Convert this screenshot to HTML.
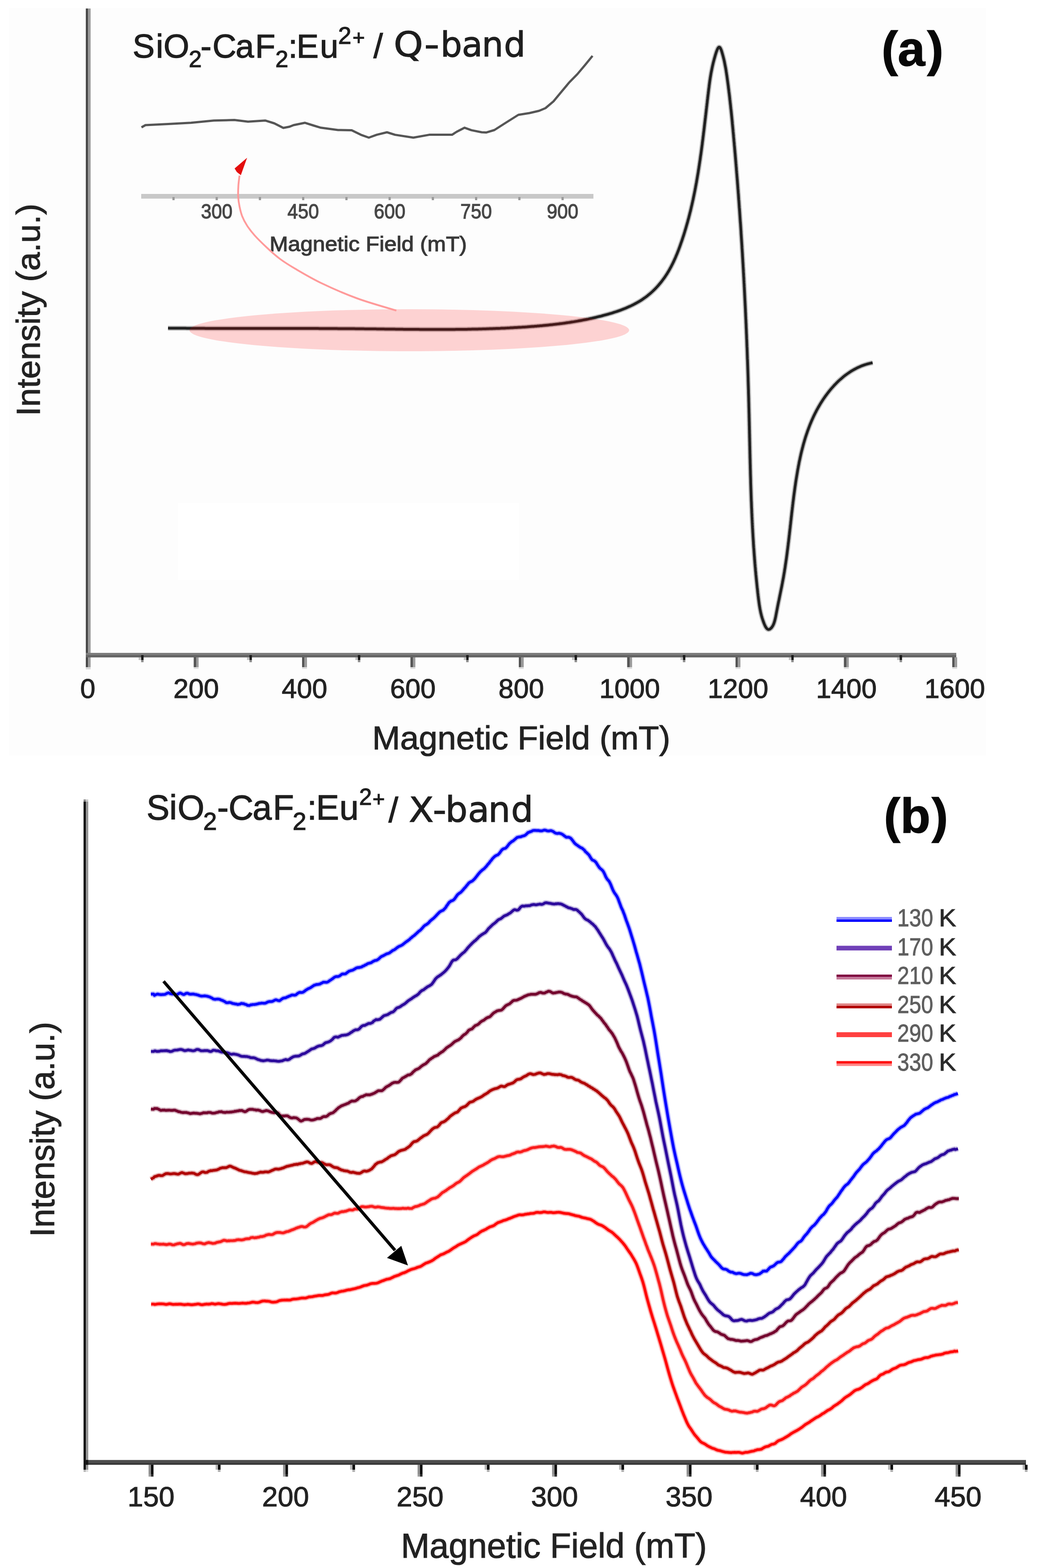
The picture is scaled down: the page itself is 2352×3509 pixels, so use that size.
<!DOCTYPE html>
<html><head><meta charset="utf-8"><title>EPR spectra</title>
<style>html,body{margin:0;padding:0;background:#fff;width:2352px;height:3509px;overflow:hidden}svg{display:block}</style></head>
<body>
<svg width="2352" height="3509" viewBox="0 0 2352 3509" font-family="'Liberation Sans', Arial, sans-serif">
<rect x="20" y="18" width="2187" height="1673" fill="#fdfdfd"/>
<rect x="398" y="1126" width="764" height="172" fill="#ffffff"/>
<rect x="192.0" y="19.0" width="5.4" height="1474.0" fill="#4a4a4a"/>
<rect x="197.4" y="19.0" width="5.4" height="1474.0" fill="#9a9a9a"/>
<rect x="192.0" y="1493.0" width="10.8" height="5.0" fill="#d8d8d8"/>
<rect x="192.0" y="1461.0" width="1948.0" height="5.0" fill="#7c7c7c"/>
<rect x="192.0" y="1466.0" width="1948.0" height="5.2" fill="#646464"/>
<text x="196.5" y="1562.0" font-size="61.0" text-anchor="middle" fill="#222" stroke="#222" stroke-width="1.2" font-weight="normal" >0</text>
<rect x="433.5" y="1471.0" width="5.5" height="22.0" fill="#555"/>
<rect x="439.0" y="1471.0" width="5.5" height="22.0" fill="#9a9a9a"/>
<rect x="433.5" y="1493.0" width="11.0" height="4.0" fill="#dedede"/>
<text x="439.0" y="1562.0" font-size="61.0" text-anchor="middle" fill="#222" stroke="#222" stroke-width="1.2" font-weight="normal" >200</text>
<rect x="676.0" y="1471.0" width="5.5" height="22.0" fill="#555"/>
<rect x="681.5" y="1471.0" width="5.5" height="22.0" fill="#9a9a9a"/>
<rect x="676.0" y="1493.0" width="11.0" height="4.0" fill="#dedede"/>
<text x="681.5" y="1562.0" font-size="61.0" text-anchor="middle" fill="#222" stroke="#222" stroke-width="1.2" font-weight="normal" >400</text>
<rect x="918.5" y="1471.0" width="5.5" height="22.0" fill="#555"/>
<rect x="924.0" y="1471.0" width="5.5" height="22.0" fill="#9a9a9a"/>
<rect x="918.5" y="1493.0" width="11.0" height="4.0" fill="#dedede"/>
<text x="924.0" y="1562.0" font-size="61.0" text-anchor="middle" fill="#222" stroke="#222" stroke-width="1.2" font-weight="normal" >600</text>
<rect x="1161.0" y="1471.0" width="5.5" height="22.0" fill="#555"/>
<rect x="1166.5" y="1471.0" width="5.5" height="22.0" fill="#9a9a9a"/>
<rect x="1161.0" y="1493.0" width="11.0" height="4.0" fill="#dedede"/>
<text x="1166.5" y="1562.0" font-size="61.0" text-anchor="middle" fill="#222" stroke="#222" stroke-width="1.2" font-weight="normal" >800</text>
<rect x="1403.5" y="1471.0" width="5.5" height="22.0" fill="#555"/>
<rect x="1409.0" y="1471.0" width="5.5" height="22.0" fill="#9a9a9a"/>
<rect x="1403.5" y="1493.0" width="11.0" height="4.0" fill="#dedede"/>
<text x="1409.0" y="1562.0" font-size="61.0" text-anchor="middle" fill="#222" stroke="#222" stroke-width="1.2" font-weight="normal" >1000</text>
<rect x="1646.0" y="1471.0" width="5.5" height="22.0" fill="#555"/>
<rect x="1651.5" y="1471.0" width="5.5" height="22.0" fill="#9a9a9a"/>
<rect x="1646.0" y="1493.0" width="11.0" height="4.0" fill="#dedede"/>
<text x="1651.5" y="1562.0" font-size="61.0" text-anchor="middle" fill="#222" stroke="#222" stroke-width="1.2" font-weight="normal" >1200</text>
<rect x="1888.5" y="1471.0" width="5.5" height="22.0" fill="#555"/>
<rect x="1894.0" y="1471.0" width="5.5" height="22.0" fill="#9a9a9a"/>
<rect x="1888.5" y="1493.0" width="11.0" height="4.0" fill="#dedede"/>
<text x="1894.0" y="1562.0" font-size="61.0" text-anchor="middle" fill="#222" stroke="#222" stroke-width="1.2" font-weight="normal" >1400</text>
<rect x="2131.0" y="1471.0" width="5.5" height="22.0" fill="#555"/>
<rect x="2136.5" y="1471.0" width="5.5" height="22.0" fill="#9a9a9a"/>
<rect x="2131.0" y="1493.0" width="11.0" height="4.0" fill="#dedede"/>
<text x="2136.5" y="1562.0" font-size="61.0" text-anchor="middle" fill="#222" stroke="#222" stroke-width="1.2" font-weight="normal" >1600</text>
<rect x="315.8" y="1466.0" width="5.5" height="11.0" fill="#1a1a1a"/>
<rect x="310.2" y="1471.0" width="5.5" height="6.0" fill="#c0c0c0"/>
<rect x="315.8" y="1477.0" width="5.5" height="5.0" fill="#909090"/>
<rect x="558.2" y="1466.0" width="5.5" height="11.0" fill="#1a1a1a"/>
<rect x="552.8" y="1471.0" width="5.5" height="6.0" fill="#c0c0c0"/>
<rect x="558.2" y="1477.0" width="5.5" height="5.0" fill="#909090"/>
<rect x="800.8" y="1466.0" width="5.5" height="11.0" fill="#1a1a1a"/>
<rect x="795.2" y="1471.0" width="5.5" height="6.0" fill="#c0c0c0"/>
<rect x="800.8" y="1477.0" width="5.5" height="5.0" fill="#909090"/>
<rect x="1043.2" y="1466.0" width="5.5" height="11.0" fill="#1a1a1a"/>
<rect x="1037.8" y="1471.0" width="5.5" height="6.0" fill="#c0c0c0"/>
<rect x="1043.2" y="1477.0" width="5.5" height="5.0" fill="#909090"/>
<rect x="1285.8" y="1466.0" width="5.5" height="11.0" fill="#1a1a1a"/>
<rect x="1280.2" y="1471.0" width="5.5" height="6.0" fill="#c0c0c0"/>
<rect x="1285.8" y="1477.0" width="5.5" height="5.0" fill="#909090"/>
<rect x="1528.2" y="1466.0" width="5.5" height="11.0" fill="#1a1a1a"/>
<rect x="1522.8" y="1471.0" width="5.5" height="6.0" fill="#c0c0c0"/>
<rect x="1528.2" y="1477.0" width="5.5" height="5.0" fill="#909090"/>
<rect x="1770.7" y="1466.0" width="5.5" height="11.0" fill="#1a1a1a"/>
<rect x="1765.2" y="1471.0" width="5.5" height="6.0" fill="#c0c0c0"/>
<rect x="1770.7" y="1477.0" width="5.5" height="5.0" fill="#909090"/>
<rect x="2013.2" y="1466.0" width="5.5" height="11.0" fill="#1a1a1a"/>
<rect x="2007.7" y="1471.0" width="5.5" height="6.0" fill="#c0c0c0"/>
<rect x="2013.2" y="1477.0" width="5.5" height="5.0" fill="#909090"/>
<text x="1166.5" y="1677.0" font-size="75.0" text-anchor="middle" fill="#222" stroke="#222" stroke-width="1.2" font-weight="normal" >Magnetic Field (mT)</text>
<text transform="translate(89,693.5) rotate(-90)" x="0" y="0" font-size="75" text-anchor="middle" fill="#222" stroke="#222" stroke-width="1.2">Intensity (a.u.)</text>
<text transform="translate(296.8,128.5)" font-family="'Liberation Sans', Arial, sans-serif" font-size="74.0" font-weight="normal" fill="#1e1e1e" stroke="#1e1e1e" stroke-width="1.4">S</text><text transform="translate(349.0,128.5)" font-family="'Liberation Sans', Arial, sans-serif" font-size="74.0" font-weight="normal" fill="#1e1e1e" stroke="#1e1e1e" stroke-width="1.4">i</text><text transform="translate(366.1,128.5)" font-family="'Liberation Sans', Arial, sans-serif" font-size="74.0" font-weight="normal" fill="#1e1e1e" stroke="#1e1e1e" stroke-width="1.4">O</text>
<text transform="translate(422.4,150.0)" font-family="'Liberation Sans', Arial, sans-serif" font-size="52.0" font-weight="normal" fill="#1e1e1e" stroke="#1e1e1e" stroke-width="1.4">2</text>
<text transform="translate(448.8,128.5)" font-family="'Liberation Sans', Arial, sans-serif" font-size="74.0" font-weight="normal" fill="#1e1e1e" stroke="#1e1e1e" stroke-width="1.4">-</text><text transform="translate(475.5,128.5)" font-family="'Liberation Sans', Arial, sans-serif" font-size="74.0" font-weight="normal" fill="#1e1e1e" stroke="#1e1e1e" stroke-width="1.4">C</text><text transform="translate(527.3,128.5)" font-family="'Liberation Sans', Arial, sans-serif" font-size="74.0" font-weight="normal" fill="#1e1e1e" stroke="#1e1e1e" stroke-width="1.4">a</text><text transform="translate(571.0,128.5)" font-family="'Liberation Sans', Arial, sans-serif" font-size="74.0" font-weight="normal" fill="#1e1e1e" stroke="#1e1e1e" stroke-width="1.4">F</text>
<text transform="translate(616.3,150.0)" font-family="'Liberation Sans', Arial, sans-serif" font-size="52.0" font-weight="normal" fill="#1e1e1e" stroke="#1e1e1e" stroke-width="1.4">2</text>
<text transform="translate(645.3,128.5)" font-family="'Liberation Sans', Arial, sans-serif" font-size="74.0" font-weight="normal" fill="#1e1e1e" stroke="#1e1e1e" stroke-width="1.4">:</text><text transform="translate(663.8,128.5)" font-family="'Liberation Sans', Arial, sans-serif" font-size="74.0" font-weight="normal" fill="#1e1e1e" stroke="#1e1e1e" stroke-width="1.4">E</text><text transform="translate(716.0,128.5)" font-family="'Liberation Sans', Arial, sans-serif" font-size="74.0" font-weight="normal" fill="#1e1e1e" stroke="#1e1e1e" stroke-width="1.4">u</text>
<text transform="translate(756.8,98.0)" font-family="'Liberation Sans', Arial, sans-serif" font-size="53.0" font-weight="normal" fill="#1e1e1e" stroke="#1e1e1e" stroke-width="1.4">2</text>
<text transform="translate(789.1,100.0)" font-family="'Liberation Sans', Arial, sans-serif" font-size="47.0" font-weight="normal" fill="#1e1e1e" stroke="#1e1e1e" stroke-width="1.4">+</text>
<text transform="translate(835.8,128.5)" font-family="'Liberation Sans', Arial, sans-serif" font-size="76.0" font-weight="normal" fill="#1e1e1e" stroke="#1e1e1e" stroke-width="1.4">/</text>
<text transform="translate(880.9,126.0) scale(1.100,1)" font-family="'DejaVu Sans', Verdana, sans-serif" font-size="76.0" font-weight="normal" fill="#1e1e1e" stroke="#1e1e1e" stroke-width="1.4">Q</text>
<text transform="translate(949.2,126.0) scale(1.250,1)" font-family="'DejaVu Sans', Verdana, sans-serif" font-size="76.0" font-weight="normal" fill="#1e1e1e" stroke="#1e1e1e" stroke-width="1.4">-</text>
<text transform="translate(985.7,126.0)" font-family="'DejaVu Sans', Verdana, sans-serif" font-size="76.0" font-weight="normal" fill="#1e1e1e" stroke="#1e1e1e" stroke-width="1.4">b</text><text transform="translate(1033.5,126.0)" font-family="'DejaVu Sans', Verdana, sans-serif" font-size="76.0" font-weight="normal" fill="#1e1e1e" stroke="#1e1e1e" stroke-width="1.4">a</text><text transform="translate(1078.2,126.0)" font-family="'DejaVu Sans', Verdana, sans-serif" font-size="76.0" font-weight="normal" fill="#1e1e1e" stroke="#1e1e1e" stroke-width="1.4">n</text><text transform="translate(1127.7,126.0)" font-family="'DejaVu Sans', Verdana, sans-serif" font-size="76.0" font-weight="normal" fill="#1e1e1e" stroke="#1e1e1e" stroke-width="1.4">d</text>
<text transform="translate(1972.7,147.0)" font-family="'Liberation Sans', Arial, sans-serif" font-size="110.0" font-weight="bold" fill="#080808" stroke="#080808" stroke-width="1.4">(</text><text transform="translate(2009.1,147.0)" font-family="'Liberation Sans', Arial, sans-serif" font-size="110.0" font-weight="bold" fill="#080808" stroke="#080808" stroke-width="1.4">a</text><text transform="translate(2074.8,147.0)" font-family="'Liberation Sans', Arial, sans-serif" font-size="110.0" font-weight="bold" fill="#080808" stroke="#080808" stroke-width="1.4">)</text>
<rect x="316" y="434" width="1012" height="10.5" fill="#c8c8c8"/>
<rect x="385.8" y="441" width="5" height="7" fill="#999"/>
<rect x="482.5" y="441" width="5" height="7" fill="#999"/>
<rect x="579.2" y="441" width="5" height="7" fill="#999"/>
<rect x="676.0" y="441" width="5" height="7" fill="#999"/>
<rect x="772.8" y="441" width="5" height="7" fill="#999"/>
<rect x="869.5" y="441" width="5" height="7" fill="#999"/>
<rect x="966.2" y="441" width="5" height="7" fill="#999"/>
<rect x="1063.0" y="441" width="5" height="7" fill="#999"/>
<rect x="1159.8" y="441" width="5" height="7" fill="#999"/>
<rect x="1256.5" y="441" width="5" height="7" fill="#999"/>
<text x="0" y="0" font-size="46" text-anchor="middle" fill="#474747" stroke="#474747" stroke-width="1.3" transform="translate(485.0,489) scale(0.92,1)">300</text>
<text x="0" y="0" font-size="46" text-anchor="middle" fill="#474747" stroke="#474747" stroke-width="1.3" transform="translate(678.5,489) scale(0.92,1)">450</text>
<text x="0" y="0" font-size="46" text-anchor="middle" fill="#474747" stroke="#474747" stroke-width="1.3" transform="translate(872.0,489) scale(0.92,1)">600</text>
<text x="0" y="0" font-size="46" text-anchor="middle" fill="#474747" stroke="#474747" stroke-width="1.3" transform="translate(1065.5,489) scale(0.92,1)">750</text>
<text x="0" y="0" font-size="46" text-anchor="middle" fill="#474747" stroke="#474747" stroke-width="1.3" transform="translate(1259.0,489) scale(0.92,1)">900</text>
<text x="0" y="0" font-size="46" text-anchor="middle" fill="#383838" stroke="#383838" stroke-width="1.3" transform="translate(824,561.5) scale(1.08,1)">Magnetic Field (mT)</text>
<path d="M316.6,285.0 L325.5,280.0 L376.5,277.4 L427.5,274.8 L478.6,269.7 L524.5,268.5 L555.0,272.3 L593.4,269.7 L613.8,276.0 L634.0,286.3 L647.0,283.8 L657.0,280.0 L682.6,274.8 L700.4,280.5 L718.0,285.8 L756.5,291.0 L787.0,291.4 L807.5,301.6 L825.4,308.0 L843.0,301.6 L866.0,296.0 L884.0,301.6 L925.0,308.0 L960.6,301.6 L986.0,301.6 L1011.6,301.6 L1021.8,295.0 L1039.7,285.8 L1055.0,291.4 L1078.0,296.0 L1088.6,296.4 L1106.4,291.0 L1131.4,275.0 L1160.0,257.0 L1185.0,253.0 L1206.4,248.0 L1220.7,242.0 L1238.6,226.8 L1256.4,205.4 L1274.3,184.0 L1292.0,166.0 L1310.0,144.6 L1326.0,125.0" fill="none" stroke="#555" stroke-width="5" stroke-linejoin="round"/>
<path d="M376.0,734.3 L379.0,734.4 L382.0,734.4 L385.0,734.4 L388.0,734.4 L391.0,734.5 L394.0,734.5 L397.0,734.5 L400.0,734.5 L403.0,734.6 L406.0,734.6 L409.0,734.6 L412.0,734.6 L415.0,734.6 L418.0,734.7 L421.0,734.7 L424.0,734.7 L427.0,734.7 L430.0,734.7 L433.0,734.7 L436.0,734.8 L439.0,734.8 L442.0,734.8 L445.0,734.8 L448.0,734.8 L451.0,734.8 L454.0,734.8 L457.0,734.8 L460.0,734.9 L463.0,734.9 L466.0,734.9 L469.0,734.9 L472.0,734.9 L475.0,734.9 L478.0,734.9 L481.0,734.9 L484.0,734.9 L487.0,734.9 L490.0,734.9 L493.0,734.9 L496.0,734.9 L499.0,734.9 L502.0,735.0 L505.0,735.0 L508.0,735.0 L511.0,735.0 L514.0,735.0 L517.0,735.0 L520.0,735.0 L523.0,735.0 L526.0,735.0 L529.0,735.0 L532.0,735.0 L535.0,735.0 L538.0,735.0 L541.0,735.0 L544.0,735.0 L547.0,735.0 L549.9,735.0 L552.9,735.0 L555.9,735.0 L558.9,735.0 L561.9,735.0 L564.9,735.0 L567.9,735.0 L570.9,735.0 L573.9,735.0 L576.9,735.0 L579.9,735.0 L582.9,735.0 L585.9,735.0 L588.9,735.0 L591.9,735.0 L594.9,735.0 L597.9,735.0 L600.9,735.0 L603.9,735.0 L606.9,735.0 L609.9,735.0 L612.9,735.0 L615.9,735.0 L618.9,735.0 L621.9,735.0 L624.9,735.0 L627.9,735.0 L630.9,735.0 L633.9,735.0 L636.9,735.0 L639.9,735.0 L642.9,735.0 L645.9,735.0 L648.8,735.0 L651.8,735.0 L654.8,735.0 L657.8,735.0 L660.8,735.0 L663.8,735.0 L666.8,735.0 L669.8,735.0 L672.8,735.1 L675.8,735.1 L678.8,735.1 L681.8,735.1 L684.8,735.1 L687.8,735.1 L690.8,735.1 L693.8,735.1 L696.8,735.1 L699.8,735.1 L702.8,735.1 L705.8,735.1 L708.8,735.1 L711.8,735.1 L714.8,735.2 L717.8,735.2 L720.8,735.2 L723.8,735.2 L726.8,735.2 L729.8,735.2 L732.8,735.2 L735.8,735.2 L738.8,735.3 L741.8,735.3 L744.8,735.3 L747.8,735.3 L750.8,735.3 L753.8,735.3 L756.8,735.4 L759.8,735.4 L762.8,735.4 L765.7,735.4 L768.7,735.4 L771.7,735.5 L774.7,735.5 L777.7,735.5 L780.7,735.5 L783.7,735.5 L786.7,735.6 L789.7,735.6 L792.7,735.6 L795.7,735.7 L798.7,735.7 L801.7,735.7 L804.7,735.7 L807.7,735.8 L810.7,735.8 L813.7,735.8 L816.7,735.9 L819.7,735.9 L822.7,735.9 L825.7,736.0 L828.7,736.0 L831.7,736.0 L834.7,736.1 L837.7,736.1 L840.7,736.1 L843.7,736.2 L846.7,736.2 L849.7,736.2 L852.7,736.3 L855.7,736.3 L858.7,736.3 L861.7,736.4 L864.7,736.4 L867.7,736.5 L870.7,736.5 L873.7,736.5 L876.7,736.6 L879.8,736.6 L882.8,736.6 L885.8,736.7 L888.8,736.7 L891.8,736.7 L894.8,736.8 L897.8,736.8 L900.8,736.8 L903.8,736.9 L906.8,736.9 L909.8,736.9 L912.8,736.9 L915.8,737.0 L918.8,737.0 L921.8,737.0 L924.8,737.1 L927.8,737.1 L930.8,737.1 L933.8,737.1 L936.8,737.1 L939.8,737.2 L942.8,737.2 L945.8,737.2 L948.8,737.2 L951.8,737.2 L954.8,737.3 L957.8,737.3 L960.8,737.3 L963.8,737.3 L966.8,737.3 L969.8,737.3 L972.8,737.3 L975.8,737.3 L978.8,737.3 L981.8,737.3 L984.8,737.3 L987.8,737.3 L990.8,737.3 L993.8,737.3 L996.8,737.3 L999.8,737.3 L1002.8,737.3 L1005.8,737.2 L1008.8,737.2 L1011.8,737.2 L1014.8,737.2 L1017.8,737.2 L1020.8,737.1 L1023.8,737.1 L1026.8,737.1 L1029.7,737.1 L1032.7,737.0 L1035.7,737.0 L1038.7,736.9 L1041.7,736.9 L1044.7,736.9 L1047.7,736.8 L1050.7,736.8 L1053.7,736.7 L1056.7,736.6 L1059.7,736.6 L1062.7,736.5 L1065.7,736.5 L1068.7,736.4 L1071.7,736.3 L1074.7,736.2 L1077.7,736.2 L1080.7,736.1 L1083.7,736.0 L1086.7,735.9 L1089.7,735.8 L1092.7,735.7 L1095.7,735.6 L1098.6,735.5 L1101.6,735.4 L1104.6,735.3 L1107.6,735.2 L1110.6,735.1 L1113.6,735.0 L1116.6,734.9 L1119.6,734.8 L1122.6,734.6 L1125.6,734.5 L1128.6,734.4 L1131.6,734.2 L1134.6,734.1 L1137.5,733.9 L1140.5,733.8 L1143.5,733.6 L1146.5,733.5 L1149.5,733.3 L1152.5,733.1 L1155.5,733.0 L1158.5,732.8 L1161.5,732.6 L1164.4,732.4 L1167.4,732.3 L1170.4,732.1 L1173.4,731.9 L1176.4,731.7 L1179.4,731.5 L1182.4,731.2 L1185.4,731.0 L1188.3,730.8 L1191.3,730.6 L1194.3,730.4 L1197.3,730.1 L1200.3,729.9 L1203.3,729.6 L1206.2,729.4 L1209.2,729.1 L1212.2,728.9 L1215.2,728.6 L1218.2,728.3 L1221.1,728.0 L1224.1,727.7 L1227.1,727.4 L1230.1,727.1 L1233.1,726.8 L1236.0,726.5 L1239.0,726.1 L1242.0,725.8 L1244.9,725.4 L1247.9,725.1 L1250.9,724.7 L1253.9,724.3 L1256.8,724.0 L1259.8,723.6 L1262.8,723.2 L1265.7,722.8 L1268.7,722.3 L1271.7,721.9 L1274.6,721.5 L1277.6,721.0 L1280.5,720.5 L1283.5,720.1 L1286.5,719.6 L1289.4,719.1 L1292.4,718.6 L1295.3,718.0 L1298.3,717.5 L1301.2,717.0 L1304.2,716.4 L1307.1,715.8 L1310.1,715.3 L1313.0,714.7 L1316.0,714.1 L1318.9,713.4 L1321.8,712.8 L1324.8,712.2 L1327.7,711.5 L1330.6,710.8 L1333.6,710.2 L1336.5,709.4 L1339.4,708.7 L1342.4,708.0 L1345.3,707.3 L1348.2,706.5 L1351.1,705.7 L1354.1,704.9 L1357.0,704.1 L1359.9,703.3 L1362.8,702.5 L1365.7,701.6 L1368.6,700.8 L1371.5,699.9 L1374.4,698.9 L1377.3,698.0 L1380.2,697.1 L1383.0,696.1 L1385.9,695.1 L1388.7,694.1 L1391.5,693.0 L1394.4,691.9 L1397.2,690.8 L1400.0,689.7 L1402.7,688.5 L1405.5,687.3 L1408.2,686.1 L1410.9,684.9 L1413.6,683.6 L1416.3,682.3 L1419.0,680.9 L1421.6,679.5 L1424.2,678.1 L1426.8,676.7 L1429.4,675.2 L1432.0,673.6 L1434.5,672.1 L1437.0,670.5 L1439.4,668.8 L1441.9,667.1 L1444.3,665.4 L1446.7,663.6 L1449.0,661.8 L1451.3,659.9 L1453.6,658.0 L1455.9,656.1 L1458.1,654.1 L1460.3,652.1 L1462.4,650.1 L1464.6,648.0 L1466.7,645.9 L1468.7,643.7 L1470.8,641.5 L1472.8,639.3 L1474.7,637.0 L1476.6,634.8 L1478.5,632.5 L1480.4,630.1 L1482.2,627.7 L1484.0,625.3 L1485.8,622.9 L1487.5,620.5 L1489.2,618.0 L1490.8,615.5 L1492.5,613.0 L1494.0,610.4 L1495.6,607.9 L1497.1,605.3 L1498.6,602.7 L1500.0,600.0 L1501.5,597.4 L1502.9,594.7 L1504.2,592.0 L1505.6,589.3 L1506.9,586.6 L1508.2,583.9 L1509.4,581.1 L1510.7,578.4 L1511.9,575.6 L1513.0,572.8 L1514.2,570.1 L1515.4,567.3 L1516.5,564.4 L1517.6,561.6 L1518.7,558.8 L1519.7,556.0 L1520.8,553.1 L1521.8,550.3 L1522.8,547.4 L1523.8,544.6 L1524.8,541.7 L1525.8,538.9 L1526.8,536.0 L1527.7,533.2 L1528.6,530.3 L1529.6,527.4 L1530.5,524.6 L1531.4,521.7 L1532.3,518.8 L1533.1,516.0 L1534.0,513.1 L1534.9,510.2 L1535.7,507.3 L1536.5,504.5 L1537.3,501.6 L1538.2,498.7 L1539.0,495.8 L1539.7,492.9 L1540.5,490.1 L1541.3,487.2 L1542.0,484.3 L1542.8,481.4 L1543.5,478.5 L1544.2,475.6 L1545.0,472.7 L1545.7,469.8 L1546.4,466.9 L1547.0,464.0 L1547.7,461.1 L1548.4,458.2 L1549.0,455.3 L1549.7,452.4 L1550.3,449.5 L1551.0,446.6 L1551.6,443.7 L1552.2,440.7 L1552.8,437.8 L1553.4,434.9 L1554.0,432.0 L1554.6,429.0 L1555.2,426.1 L1555.7,423.2 L1556.3,420.3 L1556.8,417.3 L1557.4,414.4 L1557.9,411.4 L1558.5,408.5 L1559.0,405.6 L1559.5,402.6 L1560.0,399.7 L1560.5,396.7 L1561.0,393.8 L1561.5,390.8 L1562.0,387.9 L1562.5,384.9 L1562.9,381.9 L1563.4,379.0 L1563.9,376.0 L1564.3,373.0 L1564.8,370.1 L1565.2,367.1 L1565.7,364.1 L1566.1,361.2 L1566.6,358.2 L1567.0,355.2 L1567.4,352.2 L1567.8,349.2 L1568.3,346.3 L1568.7,343.3 L1569.1,340.3 L1569.5,337.3 L1569.9,334.3 L1570.3,331.3 L1570.7,328.3 L1571.1,325.3 L1571.5,322.4 L1571.8,319.4 L1572.2,316.4 L1572.6,313.4 L1573.0,310.4 L1573.3,307.4 L1573.7,304.4 L1574.1,301.4 L1574.4,298.4 L1574.8,295.4 L1575.2,292.4 L1575.5,289.5 L1575.9,286.5 L1576.2,283.5 L1576.6,280.5 L1576.9,277.5 L1577.3,274.5 L1577.6,271.5 L1578.0,268.5 L1578.3,265.6 L1578.7,262.6 L1579.0,259.6 L1579.4,256.6 L1579.7,253.7 L1580.1,250.7 L1580.4,247.7 L1580.7,244.7 L1581.1,241.8 L1581.4,238.8 L1581.8,235.8 L1582.1,232.9 L1582.5,229.9 L1582.8,227.0 L1583.1,224.0 L1583.5,221.1 L1583.8,218.1 L1584.2,215.2 L1584.5,212.2 L1584.9,209.3 L1585.2,206.4 L1585.6,203.4 L1585.9,200.5 L1586.3,197.6 L1586.7,194.6 L1587.0,191.7 L1587.4,188.8 L1587.8,185.9 L1588.2,182.9 L1588.6,180.0 L1589.1,177.1 L1589.5,174.1 L1590.0,171.2 L1590.5,168.2 L1591.0,165.2 L1591.5,162.3 L1592.1,159.3 L1592.7,156.3 L1593.3,153.3 L1593.9,150.3 L1594.6,147.2 L1595.3,144.2 L1596.0,141.1 L1596.8,138.1 L1597.6,135.0 L1598.4,131.9 L1599.3,128.8 L1600.2,125.7 L1601.1,122.5 L1602.1,119.3 L1603.1,116.2 L1604.2,113.3 L1605.3,110.7 L1606.4,108.4 L1607.5,106.8 L1608.6,105.7 L1609.7,105.5 L1610.8,106.0 L1611.9,107.4 L1612.9,109.4 L1614.0,111.8 L1615.0,114.7 L1615.9,117.8 L1616.8,121.0 L1617.7,124.2 L1618.5,127.3 L1619.3,130.5 L1620.1,133.6 L1620.8,136.7 L1621.4,139.7 L1622.0,142.8 L1622.6,145.8 L1623.2,148.8 L1623.8,151.8 L1624.3,154.8 L1624.8,157.7 L1625.2,160.7 L1625.7,163.6 L1626.1,166.6 L1626.6,169.5 L1627.0,172.4 L1627.4,175.4 L1627.8,178.3 L1628.2,181.2 L1628.6,184.2 L1629.0,187.1 L1629.4,190.1 L1629.8,193.0 L1630.1,196.0 L1630.5,198.9 L1630.9,201.9 L1631.2,204.8 L1631.6,207.8 L1632.0,210.8 L1632.3,213.7 L1632.7,216.7 L1633.0,219.6 L1633.3,222.6 L1633.7,225.6 L1634.0,228.6 L1634.3,231.5 L1634.7,234.5 L1635.0,237.5 L1635.3,240.5 L1635.6,243.4 L1636.0,246.4 L1636.3,249.4 L1636.6,252.4 L1636.9,255.4 L1637.2,258.4 L1637.5,261.3 L1637.8,264.3 L1638.1,267.3 L1638.4,270.3 L1638.7,273.3 L1638.9,276.3 L1639.2,279.3 L1639.5,282.3 L1639.8,285.3 L1640.1,288.3 L1640.4,291.2 L1640.6,294.2 L1640.9,297.2 L1641.2,300.2 L1641.5,303.2 L1641.7,306.2 L1642.0,309.2 L1642.3,312.2 L1642.5,315.2 L1642.8,318.2 L1643.1,321.2 L1643.3,324.2 L1643.6,327.2 L1643.9,330.2 L1644.1,333.1 L1644.4,336.1 L1644.6,339.1 L1644.9,342.1 L1645.2,345.1 L1645.4,348.1 L1645.7,351.1 L1645.9,354.1 L1646.2,357.1 L1646.4,360.1 L1646.7,363.0 L1646.9,366.0 L1647.2,369.0 L1647.4,372.0 L1647.7,375.0 L1647.9,378.0 L1648.1,381.0 L1648.4,384.0 L1648.6,387.0 L1648.9,390.0 L1649.1,392.9 L1649.3,395.9 L1649.6,398.9 L1649.8,401.9 L1650.1,404.9 L1650.3,407.9 L1650.5,410.9 L1650.8,413.9 L1651.0,416.9 L1651.2,419.8 L1651.4,422.8 L1651.7,425.8 L1651.9,428.8 L1652.1,431.8 L1652.4,434.8 L1652.6,437.8 L1652.8,440.8 L1653.0,443.8 L1653.2,446.7 L1653.5,449.7 L1653.7,452.7 L1653.9,455.7 L1654.1,458.7 L1654.3,461.7 L1654.5,464.7 L1654.8,467.7 L1655.0,470.7 L1655.2,473.6 L1655.4,476.6 L1655.6,479.6 L1655.8,482.6 L1656.0,485.6 L1656.2,488.6 L1656.4,491.6 L1656.6,494.6 L1656.8,497.6 L1657.1,500.6 L1657.3,503.5 L1657.5,506.5 L1657.7,509.5 L1657.9,512.5 L1658.1,515.5 L1658.3,518.5 L1658.4,521.5 L1658.6,524.5 L1658.8,527.5 L1659.0,530.5 L1659.2,533.4 L1659.4,536.4 L1659.6,539.4 L1659.8,542.4 L1660.0,545.4 L1660.2,548.4 L1660.4,551.4 L1660.5,554.4 L1660.7,557.4 L1660.9,560.4 L1661.1,563.4 L1661.3,566.4 L1661.5,569.3 L1661.6,572.3 L1661.8,575.3 L1662.0,578.3 L1662.2,581.3 L1662.3,584.3 L1662.5,587.3 L1662.7,590.3 L1662.9,593.3 L1663.0,596.3 L1663.2,599.3 L1663.4,602.3 L1663.6,605.2 L1663.7,608.2 L1663.9,611.2 L1664.1,614.2 L1664.2,617.2 L1664.4,620.2 L1664.6,623.2 L1664.7,626.2 L1664.9,629.2 L1665.0,632.2 L1665.2,635.2 L1665.4,638.2 L1665.5,641.2 L1665.7,644.2 L1665.8,647.1 L1666.0,650.1 L1666.1,653.1 L1666.3,656.1 L1666.4,659.1 L1666.6,662.1 L1666.7,665.1 L1666.9,668.1 L1667.0,671.1 L1667.2,674.1 L1667.3,677.1 L1667.5,680.1 L1667.6,683.1 L1667.8,686.1 L1667.9,689.1 L1668.1,692.1 L1668.2,695.0 L1668.3,698.0 L1668.5,701.0 L1668.6,704.0 L1668.7,707.0 L1668.9,710.0 L1669.0,713.0 L1669.2,716.0 L1669.3,719.0 L1669.4,722.0 L1669.6,725.0 L1669.7,728.0 L1669.8,731.0 L1669.9,734.0 L1670.1,737.0 L1670.2,740.0 L1670.3,743.0 L1670.4,746.0 L1670.6,749.0 L1670.7,752.0 L1670.8,755.0 L1670.9,757.9 L1671.1,760.9 L1671.2,763.9 L1671.3,766.9 L1671.4,769.9 L1671.5,772.9 L1671.6,775.9 L1671.8,778.9 L1671.9,781.9 L1672.0,784.9 L1672.1,787.9 L1672.2,790.9 L1672.3,793.9 L1672.4,796.9 L1672.5,799.9 L1672.6,802.9 L1672.8,805.9 L1672.9,808.9 L1673.0,811.9 L1673.1,814.9 L1673.2,817.9 L1673.3,820.9 L1673.4,823.9 L1673.5,826.9 L1673.6,829.9 L1673.7,832.9 L1673.8,835.9 L1673.9,838.9 L1674.0,841.9 L1674.1,844.9 L1674.2,847.9 L1674.2,850.9 L1674.3,853.9 L1674.4,856.9 L1674.5,859.9 L1674.6,862.8 L1674.7,865.8 L1674.8,868.8 L1674.9,871.8 L1675.0,874.8 L1675.0,877.8 L1675.1,880.8 L1675.2,883.8 L1675.3,886.8 L1675.4,889.8 L1675.5,892.8 L1675.5,895.8 L1675.6,898.8 L1675.7,901.8 L1675.8,904.8 L1675.8,907.8 L1675.9,910.8 L1676.0,913.8 L1676.1,916.8 L1676.1,919.8 L1676.2,922.8 L1676.3,925.8 L1676.4,928.8 L1676.4,931.8 L1676.5,934.8 L1676.6,937.8 L1676.6,940.8 L1676.7,943.8 L1676.8,946.8 L1676.8,949.8 L1676.9,952.8 L1677.0,955.8 L1677.0,958.8 L1677.1,961.8 L1677.2,964.8 L1677.2,967.8 L1677.3,970.8 L1677.4,973.8 L1677.4,976.8 L1677.5,979.8 L1677.6,982.8 L1677.6,985.8 L1677.7,988.8 L1677.8,991.8 L1677.8,994.8 L1677.9,997.8 L1678.0,1000.8 L1678.0,1003.8 L1678.1,1006.8 L1678.2,1009.8 L1678.2,1012.8 L1678.3,1015.8 L1678.4,1018.8 L1678.4,1021.8 L1678.5,1024.8 L1678.6,1027.8 L1678.7,1030.8 L1678.7,1033.8 L1678.8,1036.8 L1678.9,1039.8 L1679.0,1042.8 L1679.0,1045.8 L1679.1,1048.8 L1679.2,1051.8 L1679.3,1054.8 L1679.3,1057.8 L1679.4,1060.8 L1679.5,1063.8 L1679.6,1066.8 L1679.7,1069.8 L1679.8,1072.8 L1679.9,1075.8 L1679.9,1078.8 L1680.0,1081.8 L1680.1,1084.8 L1680.2,1087.8 L1680.3,1090.8 L1680.4,1093.8 L1680.5,1096.8 L1680.6,1099.8 L1680.7,1102.8 L1680.8,1105.8 L1680.9,1108.8 L1681.0,1111.8 L1681.1,1114.8 L1681.2,1117.8 L1681.3,1120.8 L1681.5,1123.8 L1681.6,1126.8 L1681.7,1129.8 L1681.8,1132.8 L1681.9,1135.8 L1682.1,1138.7 L1682.2,1141.7 L1682.3,1144.7 L1682.4,1147.7 L1682.6,1150.7 L1682.7,1153.7 L1682.8,1156.7 L1683.0,1159.7 L1683.1,1162.7 L1683.3,1165.7 L1683.4,1168.7 L1683.6,1171.7 L1683.7,1174.7 L1683.9,1177.7 L1684.0,1180.7 L1684.2,1183.6 L1684.4,1186.6 L1684.5,1189.6 L1684.7,1192.6 L1684.9,1195.6 L1685.0,1198.6 L1685.2,1201.6 L1685.4,1204.6 L1685.6,1207.6 L1685.8,1210.6 L1686.0,1213.5 L1686.1,1216.5 L1686.3,1219.5 L1686.5,1222.5 L1686.7,1225.5 L1687.0,1228.5 L1687.2,1231.5 L1687.4,1234.5 L1687.6,1237.4 L1687.8,1240.4 L1688.0,1243.4 L1688.3,1246.4 L1688.5,1249.4 L1688.7,1252.4 L1689.0,1255.3 L1689.2,1258.3 L1689.4,1261.3 L1689.7,1264.3 L1689.9,1267.3 L1690.2,1270.3 L1690.5,1273.2 L1690.7,1276.2 L1691.0,1279.2 L1691.3,1282.2 L1691.5,1285.2 L1691.8,1288.1 L1692.1,1291.1 L1692.4,1294.1 L1692.7,1297.1 L1693.0,1300.1 L1693.3,1303.0 L1693.6,1306.0 L1693.9,1309.0 L1694.2,1312.0 L1694.5,1314.9 L1694.9,1317.9 L1695.2,1320.9 L1695.5,1323.9 L1695.8,1326.8 L1696.2,1329.8 L1696.5,1332.8 L1696.9,1335.8 L1697.2,1338.7 L1697.6,1341.7 L1698.0,1344.7 L1698.4,1347.7 L1698.8,1350.6 L1699.2,1353.6 L1699.7,1356.6 L1700.2,1359.6 L1700.7,1362.5 L1701.3,1365.5 L1701.9,1368.5 L1702.5,1371.5 L1703.3,1374.5 L1704.0,1377.4 L1704.8,1380.4 L1705.7,1383.4 L1706.7,1386.4 L1707.7,1389.4 L1708.8,1392.4 L1709.9,1395.4 L1711.2,1398.4 L1712.5,1401.2 L1713.9,1403.7 L1715.4,1405.9 L1717.0,1407.5 L1718.7,1408.5 L1720.4,1408.7 L1722.3,1408.2 L1724.1,1407.0 L1726.0,1405.3 L1727.7,1403.1 L1729.2,1400.8 L1730.6,1398.2 L1731.7,1395.5 L1732.7,1392.6 L1733.6,1389.7 L1734.4,1386.6 L1735.1,1383.5 L1735.8,1380.4 L1736.4,1377.2 L1737.0,1374.0 L1737.6,1370.9 L1738.2,1367.8 L1738.8,1364.7 L1739.4,1361.6 L1740.0,1358.5 L1740.6,1355.4 L1741.2,1352.4 L1741.8,1349.4 L1742.4,1346.4 L1743.1,1343.4 L1743.7,1340.4 L1744.3,1337.4 L1744.9,1334.4 L1745.5,1331.4 L1746.1,1328.5 L1746.7,1325.5 L1747.3,1322.6 L1747.9,1319.7 L1748.5,1316.7 L1749.1,1313.8 L1749.7,1310.9 L1750.2,1308.0 L1750.8,1305.0 L1751.3,1302.1 L1751.9,1299.2 L1752.4,1296.3 L1753.0,1293.4 L1753.5,1290.4 L1754.0,1287.5 L1754.5,1284.6 L1755.0,1281.6 L1755.5,1278.7 L1755.9,1275.8 L1756.4,1272.9 L1756.9,1269.9 L1757.3,1267.0 L1757.7,1264.0 L1758.2,1261.1 L1758.6,1258.2 L1759.0,1255.2 L1759.5,1252.3 L1759.9,1249.3 L1760.3,1246.4 L1760.7,1243.4 L1761.1,1240.5 L1761.5,1237.5 L1761.8,1234.6 L1762.2,1231.6 L1762.6,1228.7 L1763.0,1225.7 L1763.3,1222.8 L1763.7,1219.8 L1764.0,1216.8 L1764.4,1213.9 L1764.8,1210.9 L1765.1,1208.0 L1765.5,1205.0 L1765.8,1202.0 L1766.1,1199.1 L1766.5,1196.1 L1766.8,1193.1 L1767.2,1190.2 L1767.5,1187.2 L1767.8,1184.2 L1768.2,1181.3 L1768.5,1178.3 L1768.8,1175.3 L1769.2,1172.3 L1769.5,1169.4 L1769.8,1166.4 L1770.2,1163.4 L1770.5,1160.4 L1770.8,1157.5 L1771.2,1154.5 L1771.5,1151.5 L1771.8,1148.5 L1772.2,1145.5 L1772.5,1142.6 L1772.9,1139.6 L1773.2,1136.6 L1773.6,1133.6 L1773.9,1130.6 L1774.3,1127.6 L1774.6,1124.7 L1775.0,1121.7 L1775.4,1118.7 L1775.8,1115.7 L1776.1,1112.7 L1776.5,1109.7 L1776.9,1106.7 L1777.3,1103.7 L1777.7,1100.8 L1778.1,1097.8 L1778.5,1094.8 L1778.9,1091.8 L1779.3,1088.8 L1779.8,1085.8 L1780.2,1082.8 L1780.6,1079.8 L1781.1,1076.8 L1781.5,1073.9 L1782.0,1070.9 L1782.5,1067.9 L1783.0,1064.9 L1783.5,1061.9 L1784.0,1058.9 L1784.5,1055.9 L1785.0,1053.0 L1785.5,1050.0 L1786.1,1047.0 L1786.6,1044.0 L1787.2,1041.1 L1787.8,1038.1 L1788.3,1035.1 L1788.9,1032.2 L1789.6,1029.2 L1790.2,1026.3 L1790.8,1023.3 L1791.5,1020.4 L1792.1,1017.5 L1792.8,1014.5 L1793.5,1011.6 L1794.2,1008.7 L1795.0,1005.8 L1795.7,1002.9 L1796.5,1000.0 L1797.2,997.1 L1798.0,994.2 L1798.8,991.3 L1799.7,988.4 L1800.5,985.5 L1801.4,982.7 L1802.2,979.8 L1803.1,977.0 L1804.1,974.1 L1805.0,971.3 L1806.0,968.5 L1806.9,965.7 L1807.9,962.9 L1809.0,960.1 L1810.0,957.3 L1811.1,954.5 L1812.1,951.8 L1813.2,949.0 L1814.4,946.3 L1815.5,943.5 L1816.7,940.8 L1817.9,938.1 L1819.1,935.4 L1820.3,932.7 L1821.6,930.0 L1822.9,927.4 L1824.2,924.7 L1825.6,922.1 L1826.9,919.4 L1828.3,916.8 L1829.8,914.2 L1831.2,911.6 L1832.7,909.1 L1834.2,906.5 L1835.7,903.9 L1837.3,901.4 L1838.9,898.9 L1840.5,896.4 L1842.1,893.9 L1843.8,891.4 L1845.5,889.0 L1847.2,886.5 L1849.0,884.1 L1850.8,881.7 L1852.6,879.3 L1854.5,876.9 L1856.3,874.6 L1858.3,872.2 L1860.2,869.9 L1862.2,867.6 L1864.2,865.4 L1866.2,863.1 L1868.3,860.9 L1870.4,858.8 L1872.5,856.6 L1874.6,854.5 L1876.8,852.4 L1879.0,850.4 L1881.3,848.4 L1883.6,846.4 L1885.9,844.4 L1888.2,842.5 L1890.5,840.7 L1892.9,838.9 L1895.4,837.1 L1897.8,835.4 L1900.3,833.7 L1902.8,832.0 L1905.3,830.4 L1907.9,828.9 L1910.5,827.4 L1913.1,826.0 L1915.8,824.6 L1918.4,823.2 L1921.1,821.9 L1923.9,820.7 L1926.6,819.5 L1929.4,818.4 L1932.3,817.4 L1935.1,816.4 L1938.0,815.5 L1940.9,814.6 L1943.8,813.8 L1946.8,813.1 L1949.8,812.4 L1952.8,811.8" fill="none" stroke="#2a2a2a" stroke-opacity="0.3" stroke-width="11" stroke-linejoin="round"/>
<path d="M376.0,734.3 L379.0,734.4 L382.0,734.4 L385.0,734.4 L388.0,734.4 L391.0,734.5 L394.0,734.5 L397.0,734.5 L400.0,734.5 L403.0,734.6 L406.0,734.6 L409.0,734.6 L412.0,734.6 L415.0,734.6 L418.0,734.7 L421.0,734.7 L424.0,734.7 L427.0,734.7 L430.0,734.7 L433.0,734.7 L436.0,734.8 L439.0,734.8 L442.0,734.8 L445.0,734.8 L448.0,734.8 L451.0,734.8 L454.0,734.8 L457.0,734.8 L460.0,734.9 L463.0,734.9 L466.0,734.9 L469.0,734.9 L472.0,734.9 L475.0,734.9 L478.0,734.9 L481.0,734.9 L484.0,734.9 L487.0,734.9 L490.0,734.9 L493.0,734.9 L496.0,734.9 L499.0,734.9 L502.0,735.0 L505.0,735.0 L508.0,735.0 L511.0,735.0 L514.0,735.0 L517.0,735.0 L520.0,735.0 L523.0,735.0 L526.0,735.0 L529.0,735.0 L532.0,735.0 L535.0,735.0 L538.0,735.0 L541.0,735.0 L544.0,735.0 L547.0,735.0 L549.9,735.0 L552.9,735.0 L555.9,735.0 L558.9,735.0 L561.9,735.0 L564.9,735.0 L567.9,735.0 L570.9,735.0 L573.9,735.0 L576.9,735.0 L579.9,735.0 L582.9,735.0 L585.9,735.0 L588.9,735.0 L591.9,735.0 L594.9,735.0 L597.9,735.0 L600.9,735.0 L603.9,735.0 L606.9,735.0 L609.9,735.0 L612.9,735.0 L615.9,735.0 L618.9,735.0 L621.9,735.0 L624.9,735.0 L627.9,735.0 L630.9,735.0 L633.9,735.0 L636.9,735.0 L639.9,735.0 L642.9,735.0 L645.9,735.0 L648.8,735.0 L651.8,735.0 L654.8,735.0 L657.8,735.0 L660.8,735.0 L663.8,735.0 L666.8,735.0 L669.8,735.0 L672.8,735.1 L675.8,735.1 L678.8,735.1 L681.8,735.1 L684.8,735.1 L687.8,735.1 L690.8,735.1 L693.8,735.1 L696.8,735.1 L699.8,735.1 L702.8,735.1 L705.8,735.1 L708.8,735.1 L711.8,735.1 L714.8,735.2 L717.8,735.2 L720.8,735.2 L723.8,735.2 L726.8,735.2 L729.8,735.2 L732.8,735.2 L735.8,735.2 L738.8,735.3 L741.8,735.3 L744.8,735.3 L747.8,735.3 L750.8,735.3 L753.8,735.3 L756.8,735.4 L759.8,735.4 L762.8,735.4 L765.7,735.4 L768.7,735.4 L771.7,735.5 L774.7,735.5 L777.7,735.5 L780.7,735.5 L783.7,735.5 L786.7,735.6 L789.7,735.6 L792.7,735.6 L795.7,735.7 L798.7,735.7 L801.7,735.7 L804.7,735.7 L807.7,735.8 L810.7,735.8 L813.7,735.8 L816.7,735.9 L819.7,735.9 L822.7,735.9 L825.7,736.0 L828.7,736.0 L831.7,736.0 L834.7,736.1 L837.7,736.1 L840.7,736.1 L843.7,736.2 L846.7,736.2 L849.7,736.2 L852.7,736.3 L855.7,736.3 L858.7,736.3 L861.7,736.4 L864.7,736.4 L867.7,736.5 L870.7,736.5 L873.7,736.5 L876.7,736.6 L879.8,736.6 L882.8,736.6 L885.8,736.7 L888.8,736.7 L891.8,736.7 L894.8,736.8 L897.8,736.8 L900.8,736.8 L903.8,736.9 L906.8,736.9 L909.8,736.9 L912.8,736.9 L915.8,737.0 L918.8,737.0 L921.8,737.0 L924.8,737.1 L927.8,737.1 L930.8,737.1 L933.8,737.1 L936.8,737.1 L939.8,737.2 L942.8,737.2 L945.8,737.2 L948.8,737.2 L951.8,737.2 L954.8,737.3 L957.8,737.3 L960.8,737.3 L963.8,737.3 L966.8,737.3 L969.8,737.3 L972.8,737.3 L975.8,737.3 L978.8,737.3 L981.8,737.3 L984.8,737.3 L987.8,737.3 L990.8,737.3 L993.8,737.3 L996.8,737.3 L999.8,737.3 L1002.8,737.3 L1005.8,737.2 L1008.8,737.2 L1011.8,737.2 L1014.8,737.2 L1017.8,737.2 L1020.8,737.1 L1023.8,737.1 L1026.8,737.1 L1029.7,737.1 L1032.7,737.0 L1035.7,737.0 L1038.7,736.9 L1041.7,736.9 L1044.7,736.9 L1047.7,736.8 L1050.7,736.8 L1053.7,736.7 L1056.7,736.6 L1059.7,736.6 L1062.7,736.5 L1065.7,736.5 L1068.7,736.4 L1071.7,736.3 L1074.7,736.2 L1077.7,736.2 L1080.7,736.1 L1083.7,736.0 L1086.7,735.9 L1089.7,735.8 L1092.7,735.7 L1095.7,735.6 L1098.6,735.5 L1101.6,735.4 L1104.6,735.3 L1107.6,735.2 L1110.6,735.1 L1113.6,735.0 L1116.6,734.9 L1119.6,734.8 L1122.6,734.6 L1125.6,734.5 L1128.6,734.4 L1131.6,734.2 L1134.6,734.1 L1137.5,733.9 L1140.5,733.8 L1143.5,733.6 L1146.5,733.5 L1149.5,733.3 L1152.5,733.1 L1155.5,733.0 L1158.5,732.8 L1161.5,732.6 L1164.4,732.4 L1167.4,732.3 L1170.4,732.1 L1173.4,731.9 L1176.4,731.7 L1179.4,731.5 L1182.4,731.2 L1185.4,731.0 L1188.3,730.8 L1191.3,730.6 L1194.3,730.4 L1197.3,730.1 L1200.3,729.9 L1203.3,729.6 L1206.2,729.4 L1209.2,729.1 L1212.2,728.9 L1215.2,728.6 L1218.2,728.3 L1221.1,728.0 L1224.1,727.7 L1227.1,727.4 L1230.1,727.1 L1233.1,726.8 L1236.0,726.5 L1239.0,726.1 L1242.0,725.8 L1244.9,725.4 L1247.9,725.1 L1250.9,724.7 L1253.9,724.3 L1256.8,724.0 L1259.8,723.6 L1262.8,723.2 L1265.7,722.8 L1268.7,722.3 L1271.7,721.9 L1274.6,721.5 L1277.6,721.0 L1280.5,720.5 L1283.5,720.1 L1286.5,719.6 L1289.4,719.1 L1292.4,718.6 L1295.3,718.0 L1298.3,717.5 L1301.2,717.0 L1304.2,716.4 L1307.1,715.8 L1310.1,715.3 L1313.0,714.7 L1316.0,714.1 L1318.9,713.4 L1321.8,712.8 L1324.8,712.2 L1327.7,711.5 L1330.6,710.8 L1333.6,710.2 L1336.5,709.4 L1339.4,708.7 L1342.4,708.0 L1345.3,707.3 L1348.2,706.5 L1351.1,705.7 L1354.1,704.9 L1357.0,704.1 L1359.9,703.3 L1362.8,702.5 L1365.7,701.6 L1368.6,700.8 L1371.5,699.9 L1374.4,698.9 L1377.3,698.0 L1380.2,697.1 L1383.0,696.1 L1385.9,695.1 L1388.7,694.1 L1391.5,693.0 L1394.4,691.9 L1397.2,690.8 L1400.0,689.7 L1402.7,688.5 L1405.5,687.3 L1408.2,686.1 L1410.9,684.9 L1413.6,683.6 L1416.3,682.3 L1419.0,680.9 L1421.6,679.5 L1424.2,678.1 L1426.8,676.7 L1429.4,675.2 L1432.0,673.6 L1434.5,672.1 L1437.0,670.5 L1439.4,668.8 L1441.9,667.1 L1444.3,665.4 L1446.7,663.6 L1449.0,661.8 L1451.3,659.9 L1453.6,658.0 L1455.9,656.1 L1458.1,654.1 L1460.3,652.1 L1462.4,650.1 L1464.6,648.0 L1466.7,645.9 L1468.7,643.7 L1470.8,641.5 L1472.8,639.3 L1474.7,637.0 L1476.6,634.8 L1478.5,632.5 L1480.4,630.1 L1482.2,627.7 L1484.0,625.3 L1485.8,622.9 L1487.5,620.5 L1489.2,618.0 L1490.8,615.5 L1492.5,613.0 L1494.0,610.4 L1495.6,607.9 L1497.1,605.3 L1498.6,602.7 L1500.0,600.0 L1501.5,597.4 L1502.9,594.7 L1504.2,592.0 L1505.6,589.3 L1506.9,586.6 L1508.2,583.9 L1509.4,581.1 L1510.7,578.4 L1511.9,575.6 L1513.0,572.8 L1514.2,570.1 L1515.4,567.3 L1516.5,564.4 L1517.6,561.6 L1518.7,558.8 L1519.7,556.0 L1520.8,553.1 L1521.8,550.3 L1522.8,547.4 L1523.8,544.6 L1524.8,541.7 L1525.8,538.9 L1526.8,536.0 L1527.7,533.2 L1528.6,530.3 L1529.6,527.4 L1530.5,524.6 L1531.4,521.7 L1532.3,518.8 L1533.1,516.0 L1534.0,513.1 L1534.9,510.2 L1535.7,507.3 L1536.5,504.5 L1537.3,501.6 L1538.2,498.7 L1539.0,495.8 L1539.7,492.9 L1540.5,490.1 L1541.3,487.2 L1542.0,484.3 L1542.8,481.4 L1543.5,478.5 L1544.2,475.6 L1545.0,472.7 L1545.7,469.8 L1546.4,466.9 L1547.0,464.0 L1547.7,461.1 L1548.4,458.2 L1549.0,455.3 L1549.7,452.4 L1550.3,449.5 L1551.0,446.6 L1551.6,443.7 L1552.2,440.7 L1552.8,437.8 L1553.4,434.9 L1554.0,432.0 L1554.6,429.0 L1555.2,426.1 L1555.7,423.2 L1556.3,420.3 L1556.8,417.3 L1557.4,414.4 L1557.9,411.4 L1558.5,408.5 L1559.0,405.6 L1559.5,402.6 L1560.0,399.7 L1560.5,396.7 L1561.0,393.8 L1561.5,390.8 L1562.0,387.9 L1562.5,384.9 L1562.9,381.9 L1563.4,379.0 L1563.9,376.0 L1564.3,373.0 L1564.8,370.1 L1565.2,367.1 L1565.7,364.1 L1566.1,361.2 L1566.6,358.2 L1567.0,355.2 L1567.4,352.2 L1567.8,349.2 L1568.3,346.3 L1568.7,343.3 L1569.1,340.3 L1569.5,337.3 L1569.9,334.3 L1570.3,331.3 L1570.7,328.3 L1571.1,325.3 L1571.5,322.4 L1571.8,319.4 L1572.2,316.4 L1572.6,313.4 L1573.0,310.4 L1573.3,307.4 L1573.7,304.4 L1574.1,301.4 L1574.4,298.4 L1574.8,295.4 L1575.2,292.4 L1575.5,289.5 L1575.9,286.5 L1576.2,283.5 L1576.6,280.5 L1576.9,277.5 L1577.3,274.5 L1577.6,271.5 L1578.0,268.5 L1578.3,265.6 L1578.7,262.6 L1579.0,259.6 L1579.4,256.6 L1579.7,253.7 L1580.1,250.7 L1580.4,247.7 L1580.7,244.7 L1581.1,241.8 L1581.4,238.8 L1581.8,235.8 L1582.1,232.9 L1582.5,229.9 L1582.8,227.0 L1583.1,224.0 L1583.5,221.1 L1583.8,218.1 L1584.2,215.2 L1584.5,212.2 L1584.9,209.3 L1585.2,206.4 L1585.6,203.4 L1585.9,200.5 L1586.3,197.6 L1586.7,194.6 L1587.0,191.7 L1587.4,188.8 L1587.8,185.9 L1588.2,182.9 L1588.6,180.0 L1589.1,177.1 L1589.5,174.1 L1590.0,171.2 L1590.5,168.2 L1591.0,165.2 L1591.5,162.3 L1592.1,159.3 L1592.7,156.3 L1593.3,153.3 L1593.9,150.3 L1594.6,147.2 L1595.3,144.2 L1596.0,141.1 L1596.8,138.1 L1597.6,135.0 L1598.4,131.9 L1599.3,128.8 L1600.2,125.7 L1601.1,122.5 L1602.1,119.3 L1603.1,116.2 L1604.2,113.3 L1605.3,110.7 L1606.4,108.4 L1607.5,106.8 L1608.6,105.7 L1609.7,105.5 L1610.8,106.0 L1611.9,107.4 L1612.9,109.4 L1614.0,111.8 L1615.0,114.7 L1615.9,117.8 L1616.8,121.0 L1617.7,124.2 L1618.5,127.3 L1619.3,130.5 L1620.1,133.6 L1620.8,136.7 L1621.4,139.7 L1622.0,142.8 L1622.6,145.8 L1623.2,148.8 L1623.8,151.8 L1624.3,154.8 L1624.8,157.7 L1625.2,160.7 L1625.7,163.6 L1626.1,166.6 L1626.6,169.5 L1627.0,172.4 L1627.4,175.4 L1627.8,178.3 L1628.2,181.2 L1628.6,184.2 L1629.0,187.1 L1629.4,190.1 L1629.8,193.0 L1630.1,196.0 L1630.5,198.9 L1630.9,201.9 L1631.2,204.8 L1631.6,207.8 L1632.0,210.8 L1632.3,213.7 L1632.7,216.7 L1633.0,219.6 L1633.3,222.6 L1633.7,225.6 L1634.0,228.6 L1634.3,231.5 L1634.7,234.5 L1635.0,237.5 L1635.3,240.5 L1635.6,243.4 L1636.0,246.4 L1636.3,249.4 L1636.6,252.4 L1636.9,255.4 L1637.2,258.4 L1637.5,261.3 L1637.8,264.3 L1638.1,267.3 L1638.4,270.3 L1638.7,273.3 L1638.9,276.3 L1639.2,279.3 L1639.5,282.3 L1639.8,285.3 L1640.1,288.3 L1640.4,291.2 L1640.6,294.2 L1640.9,297.2 L1641.2,300.2 L1641.5,303.2 L1641.7,306.2 L1642.0,309.2 L1642.3,312.2 L1642.5,315.2 L1642.8,318.2 L1643.1,321.2 L1643.3,324.2 L1643.6,327.2 L1643.9,330.2 L1644.1,333.1 L1644.4,336.1 L1644.6,339.1 L1644.9,342.1 L1645.2,345.1 L1645.4,348.1 L1645.7,351.1 L1645.9,354.1 L1646.2,357.1 L1646.4,360.1 L1646.7,363.0 L1646.9,366.0 L1647.2,369.0 L1647.4,372.0 L1647.7,375.0 L1647.9,378.0 L1648.1,381.0 L1648.4,384.0 L1648.6,387.0 L1648.9,390.0 L1649.1,392.9 L1649.3,395.9 L1649.6,398.9 L1649.8,401.9 L1650.1,404.9 L1650.3,407.9 L1650.5,410.9 L1650.8,413.9 L1651.0,416.9 L1651.2,419.8 L1651.4,422.8 L1651.7,425.8 L1651.9,428.8 L1652.1,431.8 L1652.4,434.8 L1652.6,437.8 L1652.8,440.8 L1653.0,443.8 L1653.2,446.7 L1653.5,449.7 L1653.7,452.7 L1653.9,455.7 L1654.1,458.7 L1654.3,461.7 L1654.5,464.7 L1654.8,467.7 L1655.0,470.7 L1655.2,473.6 L1655.4,476.6 L1655.6,479.6 L1655.8,482.6 L1656.0,485.6 L1656.2,488.6 L1656.4,491.6 L1656.6,494.6 L1656.8,497.6 L1657.1,500.6 L1657.3,503.5 L1657.5,506.5 L1657.7,509.5 L1657.9,512.5 L1658.1,515.5 L1658.3,518.5 L1658.4,521.5 L1658.6,524.5 L1658.8,527.5 L1659.0,530.5 L1659.2,533.4 L1659.4,536.4 L1659.6,539.4 L1659.8,542.4 L1660.0,545.4 L1660.2,548.4 L1660.4,551.4 L1660.5,554.4 L1660.7,557.4 L1660.9,560.4 L1661.1,563.4 L1661.3,566.4 L1661.5,569.3 L1661.6,572.3 L1661.8,575.3 L1662.0,578.3 L1662.2,581.3 L1662.3,584.3 L1662.5,587.3 L1662.7,590.3 L1662.9,593.3 L1663.0,596.3 L1663.2,599.3 L1663.4,602.3 L1663.6,605.2 L1663.7,608.2 L1663.9,611.2 L1664.1,614.2 L1664.2,617.2 L1664.4,620.2 L1664.6,623.2 L1664.7,626.2 L1664.9,629.2 L1665.0,632.2 L1665.2,635.2 L1665.4,638.2 L1665.5,641.2 L1665.7,644.2 L1665.8,647.1 L1666.0,650.1 L1666.1,653.1 L1666.3,656.1 L1666.4,659.1 L1666.6,662.1 L1666.7,665.1 L1666.9,668.1 L1667.0,671.1 L1667.2,674.1 L1667.3,677.1 L1667.5,680.1 L1667.6,683.1 L1667.8,686.1 L1667.9,689.1 L1668.1,692.1 L1668.2,695.0 L1668.3,698.0 L1668.5,701.0 L1668.6,704.0 L1668.7,707.0 L1668.9,710.0 L1669.0,713.0 L1669.2,716.0 L1669.3,719.0 L1669.4,722.0 L1669.6,725.0 L1669.7,728.0 L1669.8,731.0 L1669.9,734.0 L1670.1,737.0 L1670.2,740.0 L1670.3,743.0 L1670.4,746.0 L1670.6,749.0 L1670.7,752.0 L1670.8,755.0 L1670.9,757.9 L1671.1,760.9 L1671.2,763.9 L1671.3,766.9 L1671.4,769.9 L1671.5,772.9 L1671.6,775.9 L1671.8,778.9 L1671.9,781.9 L1672.0,784.9 L1672.1,787.9 L1672.2,790.9 L1672.3,793.9 L1672.4,796.9 L1672.5,799.9 L1672.6,802.9 L1672.8,805.9 L1672.9,808.9 L1673.0,811.9 L1673.1,814.9 L1673.2,817.9 L1673.3,820.9 L1673.4,823.9 L1673.5,826.9 L1673.6,829.9 L1673.7,832.9 L1673.8,835.9 L1673.9,838.9 L1674.0,841.9 L1674.1,844.9 L1674.2,847.9 L1674.2,850.9 L1674.3,853.9 L1674.4,856.9 L1674.5,859.9 L1674.6,862.8 L1674.7,865.8 L1674.8,868.8 L1674.9,871.8 L1675.0,874.8 L1675.0,877.8 L1675.1,880.8 L1675.2,883.8 L1675.3,886.8 L1675.4,889.8 L1675.5,892.8 L1675.5,895.8 L1675.6,898.8 L1675.7,901.8 L1675.8,904.8 L1675.8,907.8 L1675.9,910.8 L1676.0,913.8 L1676.1,916.8 L1676.1,919.8 L1676.2,922.8 L1676.3,925.8 L1676.4,928.8 L1676.4,931.8 L1676.5,934.8 L1676.6,937.8 L1676.6,940.8 L1676.7,943.8 L1676.8,946.8 L1676.8,949.8 L1676.9,952.8 L1677.0,955.8 L1677.0,958.8 L1677.1,961.8 L1677.2,964.8 L1677.2,967.8 L1677.3,970.8 L1677.4,973.8 L1677.4,976.8 L1677.5,979.8 L1677.6,982.8 L1677.6,985.8 L1677.7,988.8 L1677.8,991.8 L1677.8,994.8 L1677.9,997.8 L1678.0,1000.8 L1678.0,1003.8 L1678.1,1006.8 L1678.2,1009.8 L1678.2,1012.8 L1678.3,1015.8 L1678.4,1018.8 L1678.4,1021.8 L1678.5,1024.8 L1678.6,1027.8 L1678.7,1030.8 L1678.7,1033.8 L1678.8,1036.8 L1678.9,1039.8 L1679.0,1042.8 L1679.0,1045.8 L1679.1,1048.8 L1679.2,1051.8 L1679.3,1054.8 L1679.3,1057.8 L1679.4,1060.8 L1679.5,1063.8 L1679.6,1066.8 L1679.7,1069.8 L1679.8,1072.8 L1679.9,1075.8 L1679.9,1078.8 L1680.0,1081.8 L1680.1,1084.8 L1680.2,1087.8 L1680.3,1090.8 L1680.4,1093.8 L1680.5,1096.8 L1680.6,1099.8 L1680.7,1102.8 L1680.8,1105.8 L1680.9,1108.8 L1681.0,1111.8 L1681.1,1114.8 L1681.2,1117.8 L1681.3,1120.8 L1681.5,1123.8 L1681.6,1126.8 L1681.7,1129.8 L1681.8,1132.8 L1681.9,1135.8 L1682.1,1138.7 L1682.2,1141.7 L1682.3,1144.7 L1682.4,1147.7 L1682.6,1150.7 L1682.7,1153.7 L1682.8,1156.7 L1683.0,1159.7 L1683.1,1162.7 L1683.3,1165.7 L1683.4,1168.7 L1683.6,1171.7 L1683.7,1174.7 L1683.9,1177.7 L1684.0,1180.7 L1684.2,1183.6 L1684.4,1186.6 L1684.5,1189.6 L1684.7,1192.6 L1684.9,1195.6 L1685.0,1198.6 L1685.2,1201.6 L1685.4,1204.6 L1685.6,1207.6 L1685.8,1210.6 L1686.0,1213.5 L1686.1,1216.5 L1686.3,1219.5 L1686.5,1222.5 L1686.7,1225.5 L1687.0,1228.5 L1687.2,1231.5 L1687.4,1234.5 L1687.6,1237.4 L1687.8,1240.4 L1688.0,1243.4 L1688.3,1246.4 L1688.5,1249.4 L1688.7,1252.4 L1689.0,1255.3 L1689.2,1258.3 L1689.4,1261.3 L1689.7,1264.3 L1689.9,1267.3 L1690.2,1270.3 L1690.5,1273.2 L1690.7,1276.2 L1691.0,1279.2 L1691.3,1282.2 L1691.5,1285.2 L1691.8,1288.1 L1692.1,1291.1 L1692.4,1294.1 L1692.7,1297.1 L1693.0,1300.1 L1693.3,1303.0 L1693.6,1306.0 L1693.9,1309.0 L1694.2,1312.0 L1694.5,1314.9 L1694.9,1317.9 L1695.2,1320.9 L1695.5,1323.9 L1695.8,1326.8 L1696.2,1329.8 L1696.5,1332.8 L1696.9,1335.8 L1697.2,1338.7 L1697.6,1341.7 L1698.0,1344.7 L1698.4,1347.7 L1698.8,1350.6 L1699.2,1353.6 L1699.7,1356.6 L1700.2,1359.6 L1700.7,1362.5 L1701.3,1365.5 L1701.9,1368.5 L1702.5,1371.5 L1703.3,1374.5 L1704.0,1377.4 L1704.8,1380.4 L1705.7,1383.4 L1706.7,1386.4 L1707.7,1389.4 L1708.8,1392.4 L1709.9,1395.4 L1711.2,1398.4 L1712.5,1401.2 L1713.9,1403.7 L1715.4,1405.9 L1717.0,1407.5 L1718.7,1408.5 L1720.4,1408.7 L1722.3,1408.2 L1724.1,1407.0 L1726.0,1405.3 L1727.7,1403.1 L1729.2,1400.8 L1730.6,1398.2 L1731.7,1395.5 L1732.7,1392.6 L1733.6,1389.7 L1734.4,1386.6 L1735.1,1383.5 L1735.8,1380.4 L1736.4,1377.2 L1737.0,1374.0 L1737.6,1370.9 L1738.2,1367.8 L1738.8,1364.7 L1739.4,1361.6 L1740.0,1358.5 L1740.6,1355.4 L1741.2,1352.4 L1741.8,1349.4 L1742.4,1346.4 L1743.1,1343.4 L1743.7,1340.4 L1744.3,1337.4 L1744.9,1334.4 L1745.5,1331.4 L1746.1,1328.5 L1746.7,1325.5 L1747.3,1322.6 L1747.9,1319.7 L1748.5,1316.7 L1749.1,1313.8 L1749.7,1310.9 L1750.2,1308.0 L1750.8,1305.0 L1751.3,1302.1 L1751.9,1299.2 L1752.4,1296.3 L1753.0,1293.4 L1753.5,1290.4 L1754.0,1287.5 L1754.5,1284.6 L1755.0,1281.6 L1755.5,1278.7 L1755.9,1275.8 L1756.4,1272.9 L1756.9,1269.9 L1757.3,1267.0 L1757.7,1264.0 L1758.2,1261.1 L1758.6,1258.2 L1759.0,1255.2 L1759.5,1252.3 L1759.9,1249.3 L1760.3,1246.4 L1760.7,1243.4 L1761.1,1240.5 L1761.5,1237.5 L1761.8,1234.6 L1762.2,1231.6 L1762.6,1228.7 L1763.0,1225.7 L1763.3,1222.8 L1763.7,1219.8 L1764.0,1216.8 L1764.4,1213.9 L1764.8,1210.9 L1765.1,1208.0 L1765.5,1205.0 L1765.8,1202.0 L1766.1,1199.1 L1766.5,1196.1 L1766.8,1193.1 L1767.2,1190.2 L1767.5,1187.2 L1767.8,1184.2 L1768.2,1181.3 L1768.5,1178.3 L1768.8,1175.3 L1769.2,1172.3 L1769.5,1169.4 L1769.8,1166.4 L1770.2,1163.4 L1770.5,1160.4 L1770.8,1157.5 L1771.2,1154.5 L1771.5,1151.5 L1771.8,1148.5 L1772.2,1145.5 L1772.5,1142.6 L1772.9,1139.6 L1773.2,1136.6 L1773.6,1133.6 L1773.9,1130.6 L1774.3,1127.6 L1774.6,1124.7 L1775.0,1121.7 L1775.4,1118.7 L1775.8,1115.7 L1776.1,1112.7 L1776.5,1109.7 L1776.9,1106.7 L1777.3,1103.7 L1777.7,1100.8 L1778.1,1097.8 L1778.5,1094.8 L1778.9,1091.8 L1779.3,1088.8 L1779.8,1085.8 L1780.2,1082.8 L1780.6,1079.8 L1781.1,1076.8 L1781.5,1073.9 L1782.0,1070.9 L1782.5,1067.9 L1783.0,1064.9 L1783.5,1061.9 L1784.0,1058.9 L1784.5,1055.9 L1785.0,1053.0 L1785.5,1050.0 L1786.1,1047.0 L1786.6,1044.0 L1787.2,1041.1 L1787.8,1038.1 L1788.3,1035.1 L1788.9,1032.2 L1789.6,1029.2 L1790.2,1026.3 L1790.8,1023.3 L1791.5,1020.4 L1792.1,1017.5 L1792.8,1014.5 L1793.5,1011.6 L1794.2,1008.7 L1795.0,1005.8 L1795.7,1002.9 L1796.5,1000.0 L1797.2,997.1 L1798.0,994.2 L1798.8,991.3 L1799.7,988.4 L1800.5,985.5 L1801.4,982.7 L1802.2,979.8 L1803.1,977.0 L1804.1,974.1 L1805.0,971.3 L1806.0,968.5 L1806.9,965.7 L1807.9,962.9 L1809.0,960.1 L1810.0,957.3 L1811.1,954.5 L1812.1,951.8 L1813.2,949.0 L1814.4,946.3 L1815.5,943.5 L1816.7,940.8 L1817.9,938.1 L1819.1,935.4 L1820.3,932.7 L1821.6,930.0 L1822.9,927.4 L1824.2,924.7 L1825.6,922.1 L1826.9,919.4 L1828.3,916.8 L1829.8,914.2 L1831.2,911.6 L1832.7,909.1 L1834.2,906.5 L1835.7,903.9 L1837.3,901.4 L1838.9,898.9 L1840.5,896.4 L1842.1,893.9 L1843.8,891.4 L1845.5,889.0 L1847.2,886.5 L1849.0,884.1 L1850.8,881.7 L1852.6,879.3 L1854.5,876.9 L1856.3,874.6 L1858.3,872.2 L1860.2,869.9 L1862.2,867.6 L1864.2,865.4 L1866.2,863.1 L1868.3,860.9 L1870.4,858.8 L1872.5,856.6 L1874.6,854.5 L1876.8,852.4 L1879.0,850.4 L1881.3,848.4 L1883.6,846.4 L1885.9,844.4 L1888.2,842.5 L1890.5,840.7 L1892.9,838.9 L1895.4,837.1 L1897.8,835.4 L1900.3,833.7 L1902.8,832.0 L1905.3,830.4 L1907.9,828.9 L1910.5,827.4 L1913.1,826.0 L1915.8,824.6 L1918.4,823.2 L1921.1,821.9 L1923.9,820.7 L1926.6,819.5 L1929.4,818.4 L1932.3,817.4 L1935.1,816.4 L1938.0,815.5 L1940.9,814.6 L1943.8,813.8 L1946.8,813.1 L1949.8,812.4 L1952.8,811.8" fill="none" stroke="#202020" stroke-width="6" stroke-linejoin="round"/>
<ellipse cx="916" cy="739" rx="492" ry="47" fill="#ff0000" fill-opacity="0.17"/>
<path d="M887.0,695.0C872.5,690.5 827.8,678.2 800.0,668.0C772.2,657.8 743.3,645.2 720.0,634.0C696.7,622.8 675.7,610.2 660.0,601.0C644.3,591.8 636.7,587.0 626.0,579.0C615.3,571.0 605.3,561.7 596.0,553.0C586.7,544.3 577.2,535.0 570.0,527.0C562.8,519.0 557.7,512.2 553.0,505.0C548.3,497.8 544.8,491.2 542.0,484.0C539.2,476.8 537.5,469.3 536.0,462.0C534.5,454.7 533.4,447.8 533.0,440.0C532.6,432.2 533.0,422.8 533.5,415.0C534.0,407.2 535.6,396.7 536.0,393.0" fill="none" stroke="#ff9a9a" stroke-width="4"/>
<polygon points="553,353 525,377 530,385 539,392" fill="#e40e0e"/>
<rect x="187.0" y="1789.0" width="5.2" height="5.0" fill="#8a8a8a"/>
<rect x="192.2" y="1789.0" width="5.3" height="5.0" fill="#c8c8c8"/>
<rect x="187.0" y="1794.0" width="5.2" height="1495.0" fill="#070707"/>
<rect x="192.2" y="1794.0" width="5.3" height="1495.0" fill="#929292"/>
<rect x="187.0" y="3289.0" width="5.2" height="5.0" fill="#b8b8b8"/>
<rect x="192.2" y="3289.0" width="5.3" height="5.0" fill="#dedede"/>
<rect x="187.0" y="3267.3" width="2109.0" height="5.5" fill="#4a4a4a"/>
<rect x="187.0" y="3272.8" width="2109.0" height="5.3" fill="#3a3a3a"/>
<rect x="187.0" y="3267.3" width="10.5" height="10.8" fill="#151515"/>
<rect x="332.5" y="3278.0" width="5.5" height="21.0" fill="#8e8e8e"/>
<rect x="338.0" y="3278.0" width="5.5" height="21.0" fill="#080808"/>
<rect x="332.5" y="3299.0" width="5.5" height="5.5" fill="#9a9a9a"/>
<rect x="338.0" y="3299.0" width="5.5" height="5.5" fill="#2a2a2a"/>
<text x="338.0" y="3371.0" font-size="63.0" text-anchor="middle" fill="#222" stroke="#222" stroke-width="1.2" font-weight="normal" >150</text>
<rect x="633.5" y="3278.0" width="5.5" height="21.0" fill="#8e8e8e"/>
<rect x="639.0" y="3278.0" width="5.5" height="21.0" fill="#080808"/>
<rect x="633.5" y="3299.0" width="5.5" height="5.5" fill="#9a9a9a"/>
<rect x="639.0" y="3299.0" width="5.5" height="5.5" fill="#2a2a2a"/>
<text x="639.0" y="3371.0" font-size="63.0" text-anchor="middle" fill="#222" stroke="#222" stroke-width="1.2" font-weight="normal" >200</text>
<rect x="934.5" y="3278.0" width="5.5" height="21.0" fill="#8e8e8e"/>
<rect x="940.0" y="3278.0" width="5.5" height="21.0" fill="#080808"/>
<rect x="934.5" y="3299.0" width="5.5" height="5.5" fill="#9a9a9a"/>
<rect x="940.0" y="3299.0" width="5.5" height="5.5" fill="#2a2a2a"/>
<text x="940.0" y="3371.0" font-size="63.0" text-anchor="middle" fill="#222" stroke="#222" stroke-width="1.2" font-weight="normal" >250</text>
<rect x="1235.5" y="3278.0" width="5.5" height="21.0" fill="#8e8e8e"/>
<rect x="1241.0" y="3278.0" width="5.5" height="21.0" fill="#080808"/>
<rect x="1235.5" y="3299.0" width="5.5" height="5.5" fill="#9a9a9a"/>
<rect x="1241.0" y="3299.0" width="5.5" height="5.5" fill="#2a2a2a"/>
<text x="1241.0" y="3371.0" font-size="63.0" text-anchor="middle" fill="#222" stroke="#222" stroke-width="1.2" font-weight="normal" >300</text>
<rect x="1536.5" y="3278.0" width="5.5" height="21.0" fill="#8e8e8e"/>
<rect x="1542.0" y="3278.0" width="5.5" height="21.0" fill="#080808"/>
<rect x="1536.5" y="3299.0" width="5.5" height="5.5" fill="#9a9a9a"/>
<rect x="1542.0" y="3299.0" width="5.5" height="5.5" fill="#2a2a2a"/>
<text x="1542.0" y="3371.0" font-size="63.0" text-anchor="middle" fill="#222" stroke="#222" stroke-width="1.2" font-weight="normal" >350</text>
<rect x="1837.5" y="3278.0" width="5.5" height="21.0" fill="#8e8e8e"/>
<rect x="1843.0" y="3278.0" width="5.5" height="21.0" fill="#080808"/>
<rect x="1837.5" y="3299.0" width="5.5" height="5.5" fill="#9a9a9a"/>
<rect x="1843.0" y="3299.0" width="5.5" height="5.5" fill="#2a2a2a"/>
<text x="1843.0" y="3371.0" font-size="63.0" text-anchor="middle" fill="#222" stroke="#222" stroke-width="1.2" font-weight="normal" >400</text>
<rect x="2138.5" y="3278.0" width="5.5" height="21.0" fill="#8e8e8e"/>
<rect x="2144.0" y="3278.0" width="5.5" height="21.0" fill="#080808"/>
<rect x="2138.5" y="3299.0" width="5.5" height="5.5" fill="#9a9a9a"/>
<rect x="2144.0" y="3299.0" width="5.5" height="5.5" fill="#2a2a2a"/>
<text x="2144.0" y="3371.0" font-size="63.0" text-anchor="middle" fill="#222" stroke="#222" stroke-width="1.2" font-weight="normal" >450</text>
<rect x="487.5" y="3278.0" width="6.0" height="11.0" fill="#000"/>
<rect x="482.5" y="3278.0" width="5.0" height="11.0" fill="#b5b5b5"/>
<rect x="487.5" y="3289.0" width="6.0" height="5.0" fill="#b0b0b0"/>
<rect x="788.5" y="3278.0" width="6.0" height="11.0" fill="#000"/>
<rect x="783.5" y="3278.0" width="5.0" height="11.0" fill="#b5b5b5"/>
<rect x="788.5" y="3289.0" width="6.0" height="5.0" fill="#b0b0b0"/>
<rect x="1089.5" y="3278.0" width="6.0" height="11.0" fill="#000"/>
<rect x="1084.5" y="3278.0" width="5.0" height="11.0" fill="#b5b5b5"/>
<rect x="1089.5" y="3289.0" width="6.0" height="5.0" fill="#b0b0b0"/>
<rect x="1390.5" y="3278.0" width="6.0" height="11.0" fill="#000"/>
<rect x="1385.5" y="3278.0" width="5.0" height="11.0" fill="#b5b5b5"/>
<rect x="1390.5" y="3289.0" width="6.0" height="5.0" fill="#b0b0b0"/>
<rect x="1691.5" y="3278.0" width="6.0" height="11.0" fill="#000"/>
<rect x="1686.5" y="3278.0" width="5.0" height="11.0" fill="#b5b5b5"/>
<rect x="1691.5" y="3289.0" width="6.0" height="5.0" fill="#b0b0b0"/>
<rect x="1992.5" y="3278.0" width="6.0" height="11.0" fill="#000"/>
<rect x="1987.5" y="3278.0" width="5.0" height="11.0" fill="#b5b5b5"/>
<rect x="1992.5" y="3289.0" width="6.0" height="5.0" fill="#b0b0b0"/>
<rect x="2293.5" y="3278.0" width="6.0" height="11.0" fill="#000"/>
<rect x="2288.5" y="3278.0" width="5.0" height="11.0" fill="#b5b5b5"/>
<rect x="2293.5" y="3289.0" width="6.0" height="5.0" fill="#b0b0b0"/>
<text x="1239.5" y="3486.0" font-size="77.0" text-anchor="middle" fill="#222" stroke="#222" stroke-width="1.2" font-weight="normal" >Magnetic Field (mT)</text>
<text transform="translate(121,2527.5) rotate(-90)" x="0" y="0" font-size="76" text-anchor="middle" fill="#222" stroke="#222" stroke-width="1.2">Intensity (a.u.)</text>
<text transform="translate(327.9,1834.0)" font-family="'Liberation Sans', Arial, sans-serif" font-size="77.0" font-weight="normal" fill="#1e1e1e" stroke="#1e1e1e" stroke-width="1.4">S</text><text transform="translate(379.0,1834.0)" font-family="'Liberation Sans', Arial, sans-serif" font-size="77.0" font-weight="normal" fill="#1e1e1e" stroke="#1e1e1e" stroke-width="1.4">i</text><text transform="translate(397.6,1834.0)" font-family="'Liberation Sans', Arial, sans-serif" font-size="77.0" font-weight="normal" fill="#1e1e1e" stroke="#1e1e1e" stroke-width="1.4">O</text>
<text transform="translate(454.7,1856.5)" font-family="'Liberation Sans', Arial, sans-serif" font-size="55.0" font-weight="normal" fill="#1e1e1e" stroke="#1e1e1e" stroke-width="1.4">2</text>
<text transform="translate(485.9,1834.0)" font-family="'Liberation Sans', Arial, sans-serif" font-size="77.0" font-weight="normal" fill="#1e1e1e" stroke="#1e1e1e" stroke-width="1.4">-</text><text transform="translate(511.5,1834.0)" font-family="'Liberation Sans', Arial, sans-serif" font-size="77.0" font-weight="normal" fill="#1e1e1e" stroke="#1e1e1e" stroke-width="1.4">C</text><text transform="translate(565.3,1834.0)" font-family="'Liberation Sans', Arial, sans-serif" font-size="77.0" font-weight="normal" fill="#1e1e1e" stroke="#1e1e1e" stroke-width="1.4">a</text><text transform="translate(610.7,1834.0)" font-family="'Liberation Sans', Arial, sans-serif" font-size="77.0" font-weight="normal" fill="#1e1e1e" stroke="#1e1e1e" stroke-width="1.4">F</text>
<text transform="translate(655.0,1856.5)" font-family="'Liberation Sans', Arial, sans-serif" font-size="55.0" font-weight="normal" fill="#1e1e1e" stroke="#1e1e1e" stroke-width="1.4">2</text>
<text transform="translate(687.4,1834.0)" font-family="'Liberation Sans', Arial, sans-serif" font-size="77.0" font-weight="normal" fill="#1e1e1e" stroke="#1e1e1e" stroke-width="1.4">:</text><text transform="translate(707.6,1834.0)" font-family="'Liberation Sans', Arial, sans-serif" font-size="77.0" font-weight="normal" fill="#1e1e1e" stroke="#1e1e1e" stroke-width="1.4">E</text><text transform="translate(759.8,1834.0)" font-family="'Liberation Sans', Arial, sans-serif" font-size="77.0" font-weight="normal" fill="#1e1e1e" stroke="#1e1e1e" stroke-width="1.4">u</text>
<text transform="translate(803.8,1800.5)" font-family="'Liberation Sans', Arial, sans-serif" font-size="51.0" font-weight="normal" fill="#1e1e1e" stroke="#1e1e1e" stroke-width="1.4">2</text>
<text transform="translate(833.8,1804.0)" font-family="'Liberation Sans', Arial, sans-serif" font-size="47.0" font-weight="normal" fill="#1e1e1e" stroke="#1e1e1e" stroke-width="1.4">+</text>
<text transform="translate(869.4,1839.5)" font-family="'Liberation Sans', Arial, sans-serif" font-size="78.0" font-weight="normal" fill="#1e1e1e" stroke="#1e1e1e" stroke-width="1.4">/</text>
<text transform="translate(914.9,1839.0) scale(1.050,1)" font-family="'DejaVu Sans', Verdana, sans-serif" font-size="77.0" font-weight="normal" fill="#1e1e1e" stroke="#1e1e1e" stroke-width="1.4">X</text>
<text transform="translate(968.5,1839.0) scale(1.100,1)" font-family="'DejaVu Sans', Verdana, sans-serif" font-size="77.0" font-weight="normal" fill="#1e1e1e" stroke="#1e1e1e" stroke-width="1.4">-</text>
<text transform="translate(996.7,1839.0)" font-family="'DejaVu Sans', Verdana, sans-serif" font-size="78.0" font-weight="normal" fill="#1e1e1e" stroke="#1e1e1e" stroke-width="1.4">b</text><text transform="translate(1047.2,1839.0)" font-family="'DejaVu Sans', Verdana, sans-serif" font-size="78.0" font-weight="normal" fill="#1e1e1e" stroke="#1e1e1e" stroke-width="1.4">a</text><text transform="translate(1092.7,1839.0)" font-family="'DejaVu Sans', Verdana, sans-serif" font-size="78.0" font-weight="normal" fill="#1e1e1e" stroke="#1e1e1e" stroke-width="1.4">n</text><text transform="translate(1143.8,1839.0)" font-family="'DejaVu Sans', Verdana, sans-serif" font-size="78.0" font-weight="normal" fill="#1e1e1e" stroke="#1e1e1e" stroke-width="1.4">d</text>
<text transform="translate(1978.1,1862.5)" font-family="'Liberation Sans', Arial, sans-serif" font-size="110.0" font-weight="bold" fill="#080808" stroke="#080808" stroke-width="1.4">(</text><text transform="translate(2015.0,1862.5)" font-family="'Liberation Sans', Arial, sans-serif" font-size="110.0" font-weight="bold" fill="#080808" stroke="#080808" stroke-width="1.4">b</text><text transform="translate(2085.1,1862.5)" font-family="'Liberation Sans', Arial, sans-serif" font-size="110.0" font-weight="bold" fill="#080808" stroke="#080808" stroke-width="1.4">)</text>
<path d="M337.6,2224.8 L339.6,2224.7 L341.6,2224.6 L343.6,2224.5 L345.6,2227.5 L347.6,2226.3 L349.6,2225.6 L351.6,2224.8 L353.6,2224.7 L355.6,2225.3 L357.6,2225.5 L359.6,2225.9 L361.6,2225.8 L363.6,2225.7 L365.6,2225.6 L367.6,2225.4 L369.6,2225.1 L371.6,2224.0 L373.6,2223.0 L375.6,2222.2 L377.6,2221.7 L379.6,2223.0 L381.6,2223.7 L383.6,2224.1 L385.6,2224.6 L387.6,2224.0 L389.6,2224.4 L391.6,2225.0 L393.6,2225.6 L395.6,2225.9 L397.6,2224.9 L399.6,2223.8 L401.6,2222.5 L403.6,2222.2 L405.6,2223.2 L407.6,2224.3 L409.6,2225.4 L411.6,2225.6 L413.6,2224.7 L415.6,2223.5 L417.6,2222.8 L419.6,2222.7 L421.6,2223.4 L423.6,2224.4 L425.6,2224.8 L427.6,2224.8 L429.6,2224.7 L431.6,2224.6 L433.6,2224.7 L435.6,2225.2 L437.6,2225.5 L439.6,2225.9 L441.6,2226.4 L443.6,2226.9 L445.6,2227.8 L447.6,2228.4 L449.6,2228.9 L451.6,2229.2 L453.6,2229.0 L455.6,2228.9 L457.6,2228.7 L459.6,2228.8 L461.6,2229.1 L463.6,2229.3 L465.6,2230.1 L467.6,2230.6 L469.6,2231.2 L471.6,2232.4 L473.6,2233.2 L475.6,2234.5 L477.6,2235.6 L479.6,2236.0 L481.6,2236.4 L483.6,2236.0 L485.6,2235.9 L487.6,2235.8 L489.6,2236.0 L491.6,2236.5 L493.6,2237.2 L495.6,2238.2 L497.6,2238.7 L499.6,2239.8 L501.6,2240.8 L503.6,2241.8 L505.6,2243.4 L507.6,2243.9 L509.6,2244.0 L511.6,2243.6 L513.6,2243.3 L515.6,2243.7 L517.6,2244.2 L519.6,2245.2 L521.6,2245.8 L523.6,2246.1 L525.6,2246.6 L527.6,2246.8 L529.6,2247.1 L531.6,2247.8 L533.6,2247.6 L535.6,2247.2 L537.6,2247.0 L539.6,2245.7 L541.6,2245.7 L543.6,2246.2 L545.6,2246.1 L547.6,2247.3 L549.6,2247.7 L551.6,2248.4 L553.6,2249.8 L555.6,2249.9 L557.6,2250.2 L559.6,2249.6 L561.6,2248.6 L563.6,2248.6 L565.6,2248.0 L567.6,2248.0 L569.6,2248.0 L571.6,2247.5 L573.6,2247.3 L575.6,2246.8 L577.6,2246.3 L579.6,2245.7 L581.6,2245.5 L583.6,2245.2 L585.6,2244.9 L587.6,2245.0 L589.6,2245.1 L591.6,2245.2 L593.6,2245.0 L595.6,2244.2 L597.6,2243.1 L599.6,2242.2 L601.6,2241.6 L603.6,2241.4 L605.6,2241.3 L607.6,2241.3 L609.6,2240.9 L611.6,2239.9 L613.6,2239.0 L615.6,2237.9 L617.6,2237.4 L619.6,2238.1 L621.6,2238.8 L623.6,2239.3 L625.6,2239.5 L627.6,2238.2 L629.6,2236.5 L631.6,2235.2 L633.6,2233.9 L635.6,2233.4 L637.6,2233.2 L639.6,2232.7 L641.6,2231.7 L643.6,2230.8 L645.6,2230.0 L647.6,2229.0 L649.6,2228.5 L651.6,2227.3 L653.6,2226.7 L655.6,2226.8 L657.6,2226.9 L659.6,2227.1 L661.6,2226.6 L663.6,2225.2 L665.6,2223.4 L667.6,2222.2 L669.6,2221.1 L671.6,2220.7 L673.6,2221.1 L675.6,2220.9 L677.6,2220.6 L679.6,2219.5 L681.6,2218.1 L683.6,2216.4 L685.6,2214.9 L687.6,2213.9 L689.6,2212.7 L691.6,2211.9 L693.6,2211.0 L695.6,2209.9 L697.6,2208.5 L699.6,2207.2 L701.6,2205.9 L703.6,2204.6 L705.6,2204.3 L707.6,2203.4 L709.6,2203.2 L711.6,2203.1 L713.6,2202.5 L715.6,2202.4 L717.6,2201.1 L719.6,2200.2 L721.6,2199.1 L723.6,2198.1 L725.6,2198.1 L727.6,2198.0 L729.6,2198.3 L731.6,2198.2 L733.6,2197.4 L735.6,2196.2 L737.6,2194.5 L739.6,2193.3 L741.6,2192.0 L743.6,2190.6 L745.6,2189.2 L747.6,2187.5 L749.6,2186.4 L751.6,2185.6 L753.6,2185.4 L755.6,2185.4 L757.6,2185.0 L759.6,2184.1 L761.6,2182.8 L763.6,2181.2 L765.6,2179.9 L767.6,2179.6 L769.6,2179.6 L771.6,2179.5 L773.6,2179.1 L775.6,2177.5 L777.6,2175.9 L779.6,2174.4 L781.6,2173.2 L783.6,2172.6 L785.6,2171.9 L787.6,2171.4 L789.6,2170.9 L791.6,2169.8 L793.6,2168.7 L795.6,2167.4 L797.6,2166.3 L799.6,2165.6 L801.6,2165.2 L803.6,2165.3 L805.6,2164.7 L807.6,2164.4 L809.6,2163.8 L811.6,2162.3 L813.6,2161.7 L815.6,2160.7 L817.6,2159.4 L819.6,2158.7 L821.6,2157.3 L823.6,2156.3 L825.6,2155.8 L827.6,2155.1 L829.6,2154.7 L831.6,2153.8 L833.6,2152.4 L835.6,2151.2 L837.6,2150.3 L839.6,2149.4 L841.6,2149.2 L843.6,2148.5 L845.6,2147.4 L847.6,2145.8 L849.6,2143.9 L851.6,2142.0 L853.6,2140.6 L855.6,2139.7 L857.6,2138.8 L859.6,2137.7 L861.6,2136.6 L863.6,2135.5 L865.6,2134.6 L867.6,2134.1 L869.6,2133.4 L871.6,2132.5 L873.6,2131.0 L875.6,2129.5 L877.6,2128.1 L879.6,2126.6 L881.6,2126.0 L883.6,2124.7 L885.6,2123.2 L887.6,2121.6 L889.6,2120.1 L891.6,2118.7 L893.6,2117.6 L895.6,2117.0 L897.6,2115.9 L899.6,2114.9 L901.6,2113.6 L903.6,2111.9 L905.6,2110.3 L907.6,2108.7 L909.6,2107.2 L911.6,2106.0 L913.6,2104.4 L915.6,2103.1 L917.6,2101.1 L919.6,2099.1 L921.6,2097.8 L923.6,2095.8 L925.6,2094.5 L927.6,2093.0 L929.6,2091.1 L931.6,2089.3 L933.6,2087.4 L935.6,2085.6 L937.6,2083.7 L939.6,2082.5 L941.6,2080.7 L943.6,2078.5 L945.6,2076.4 L947.6,2073.9 L949.6,2071.9 L951.6,2070.3 L953.6,2069.4 L955.6,2068.1 L957.6,2066.6 L959.6,2064.8 L961.6,2062.3 L963.6,2060.3 L965.6,2058.6 L967.6,2057.0 L969.6,2055.5 L971.6,2053.7 L973.6,2051.6 L975.6,2049.6 L977.6,2047.4 L979.6,2045.3 L981.6,2043.3 L983.6,2041.2 L985.6,2039.9 L987.6,2038.8 L989.6,2037.8 L991.6,2037.1 L993.6,2035.0 L995.6,2033.1 L997.6,2030.6 L999.6,2027.1 L1001.6,2024.7 L1003.6,2021.5 L1005.6,2019.1 L1007.6,2017.7 L1009.6,2016.2 L1011.6,2015.7 L1013.6,2014.8 L1015.6,2013.4 L1017.6,2011.2 L1019.6,2008.2 L1021.6,2005.4 L1023.6,2002.6 L1025.6,2000.7 L1027.6,1999.2 L1029.6,1997.9 L1031.6,1996.4 L1033.6,1994.3 L1035.6,1992.2 L1037.6,1989.7 L1039.6,1987.4 L1041.6,1985.5 L1043.6,1982.8 L1045.6,1980.4 L1047.6,1978.0 L1049.6,1975.6 L1051.6,1974.4 L1053.6,1973.2 L1055.6,1972.3 L1057.6,1971.1 L1059.6,1969.2 L1061.6,1967.3 L1063.6,1964.9 L1065.6,1962.4 L1067.6,1959.9 L1069.6,1957.2 L1071.6,1954.8 L1073.6,1952.4 L1075.6,1950.3 L1077.6,1948.6 L1079.6,1946.8 L1081.6,1945.4 L1083.6,1943.8 L1085.6,1941.7 L1087.6,1939.6 L1089.6,1937.3 L1091.6,1934.5 L1093.6,1932.5 L1095.6,1930.0 L1097.6,1927.1 L1099.6,1925.1 L1101.6,1922.2 L1103.6,1920.0 L1105.6,1918.1 L1107.6,1916.2 L1109.6,1915.0 L1111.6,1913.9 L1113.6,1913.2 L1115.6,1911.7 L1117.6,1909.5 L1119.6,1906.9 L1121.6,1903.9 L1123.6,1901.5 L1125.6,1900.1 L1127.6,1899.2 L1129.6,1898.8 L1131.6,1897.9 L1133.6,1896.0 L1135.6,1893.7 L1137.6,1891.0 L1139.6,1888.3 L1141.6,1886.5 L1143.6,1884.8 L1145.6,1883.2 L1147.6,1882.3 L1149.6,1880.8 L1151.6,1878.9 L1153.6,1877.3 L1155.6,1875.4 L1157.6,1873.9 L1159.6,1873.6 L1161.6,1873.1 L1163.6,1872.8 L1165.6,1872.6 L1167.6,1871.7 L1169.6,1871.1 L1171.6,1870.5 L1173.6,1870.0 L1175.6,1868.9 L1177.6,1867.2 L1179.6,1865.3 L1181.6,1863.3 L1183.6,1862.6 L1185.6,1861.7 L1187.6,1861.0 L1189.6,1860.4 L1191.6,1859.1 L1193.6,1858.5 L1195.6,1858.4 L1197.6,1858.4 L1199.6,1858.5 L1201.6,1858.7 L1203.6,1858.7 L1205.6,1858.7 L1207.6,1859.2 L1209.6,1859.3 L1211.6,1859.3 L1213.6,1859.1 L1215.6,1858.4 L1217.6,1857.8 L1219.6,1857.7 L1221.6,1858.2 L1223.6,1859.0 L1225.6,1859.5 L1227.6,1859.6 L1229.6,1859.4 L1231.6,1858.9 L1233.6,1859.0 L1235.6,1859.8 L1237.6,1860.6 L1239.6,1862.1 L1241.6,1863.5 L1243.6,1864.5 L1245.6,1865.0 L1247.6,1865.2 L1249.6,1864.8 L1251.6,1864.7 L1253.6,1865.3 L1255.6,1865.8 L1257.6,1866.8 L1259.6,1867.9 L1261.6,1869.5 L1263.6,1871.1 L1265.6,1872.6 L1267.6,1873.7 L1269.6,1873.7 L1271.6,1873.7 L1273.6,1873.9 L1275.6,1874.9 L1277.6,1876.3 L1279.6,1878.6 L1281.6,1881.2 L1283.6,1883.8 L1285.6,1886.6 L1287.6,1888.5 L1289.6,1890.1 L1291.6,1891.3 L1293.6,1892.9 L1295.6,1894.3 L1297.6,1895.6 L1299.6,1897.1 L1301.6,1897.6 L1303.6,1898.9 L1305.6,1900.7 L1307.6,1902.3 L1309.6,1905.2 L1311.6,1907.2 L1313.6,1908.9 L1315.6,1911.0 L1317.6,1912.8 L1319.6,1915.9 L1321.6,1919.3 L1323.6,1922.2 L1325.6,1924.5 L1327.6,1925.4 L1329.6,1926.2 L1331.6,1927.7 L1333.6,1929.7 L1335.6,1932.9 L1337.6,1936.1 L1339.6,1939.1 L1341.6,1941.9 L1343.6,1943.8 L1345.6,1945.5 L1347.6,1947.2 L1349.6,1949.5 L1351.6,1953.0 L1353.6,1957.3 L1355.6,1961.9 L1357.6,1965.5 L1359.6,1968.4 L1361.6,1970.5 L1363.6,1973.1 L1365.6,1977.1 L1367.6,1981.6 L1369.6,1986.8 L1371.6,1991.6 L1373.6,1995.5 L1375.6,1998.8 L1377.6,2001.5 L1379.6,2004.5 L1381.6,2008.0 L1383.6,2012.5 L1385.6,2018.2 L1387.6,2023.3 L1389.6,2028.9 L1391.6,2033.5 L1393.6,2037.5 L1395.6,2042.9 L1397.6,2047.9 L1399.6,2053.9 L1401.6,2060.0 L1403.6,2065.2 L1405.6,2070.7 L1407.6,2076.3 L1409.6,2082.3 L1411.6,2088.9 L1413.6,2095.3 L1415.6,2101.7 L1417.6,2108.5 L1419.6,2115.1 L1421.6,2122.3 L1423.6,2129.8 L1425.6,2136.4 L1427.6,2143.5 L1429.6,2150.6 L1431.6,2157.4 L1433.6,2165.7 L1435.6,2173.8 L1437.6,2182.3 L1439.6,2190.9 L1441.6,2199.4 L1443.6,2207.5 L1445.6,2215.8 L1447.6,2224.4 L1449.6,2232.5 L1451.6,2242.4 L1453.6,2252.5 L1455.6,2263.3 L1457.6,2274.5 L1459.6,2284.6 L1461.6,2295.0 L1463.6,2305.4 L1465.6,2316.8 L1467.6,2329.1 L1469.6,2341.8 L1471.6,2354.8 L1473.6,2367.0 L1475.6,2379.3 L1477.6,2391.7 L1479.6,2404.2 L1481.6,2417.6 L1483.6,2430.8 L1485.6,2443.5 L1487.6,2455.9 L1489.6,2468.2 L1491.6,2480.2 L1493.6,2492.4 L1495.6,2504.2 L1497.6,2515.4 L1499.6,2526.8 L1501.6,2537.8 L1503.6,2548.9 L1505.6,2559.6 L1507.6,2569.8 L1509.6,2579.1 L1511.6,2588.1 L1513.6,2596.8 L1515.6,2605.3 L1517.6,2614.4 L1519.6,2623.1 L1521.6,2631.5 L1523.6,2639.6 L1525.6,2647.3 L1527.6,2654.5 L1529.6,2661.4 L1531.6,2668.0 L1533.6,2674.4 L1535.6,2680.8 L1537.6,2687.2 L1539.6,2693.8 L1541.6,2699.9 L1543.6,2706.0 L1545.6,2711.4 L1547.6,2717.1 L1549.6,2722.8 L1551.6,2728.0 L1553.6,2733.5 L1555.6,2738.6 L1557.6,2743.9 L1559.6,2749.7 L1561.6,2755.7 L1563.6,2761.3 L1565.6,2766.5 L1567.6,2771.4 L1569.6,2775.5 L1571.6,2779.5 L1573.6,2783.4 L1575.6,2786.5 L1577.6,2790.0 L1579.6,2793.2 L1581.6,2796.1 L1583.6,2799.3 L1585.6,2802.4 L1587.6,2805.8 L1589.6,2809.4 L1591.6,2812.6 L1593.6,2814.9 L1595.6,2817.1 L1597.6,2819.0 L1599.6,2820.9 L1601.6,2823.2 L1603.6,2825.0 L1605.6,2826.9 L1607.6,2828.9 L1609.6,2830.9 L1611.6,2833.3 L1613.6,2835.7 L1615.6,2837.7 L1617.6,2839.1 L1619.6,2840.0 L1621.6,2840.2 L1623.6,2840.4 L1625.6,2841.1 L1627.6,2842.1 L1629.6,2843.8 L1631.6,2845.2 L1633.6,2846.0 L1635.6,2846.8 L1637.6,2846.9 L1639.6,2847.1 L1641.6,2848.3 L1643.6,2849.2 L1645.6,2849.8 L1647.6,2850.3 L1649.6,2850.0 L1651.6,2849.5 L1653.6,2849.3 L1655.6,2849.4 L1657.6,2849.9 L1659.6,2850.7 L1661.6,2851.5 L1663.6,2852.0 L1665.6,2852.5 L1667.6,2852.5 L1669.6,2852.6 L1671.6,2852.6 L1673.6,2851.8 L1675.6,2851.3 L1677.6,2850.3 L1679.6,2849.4 L1681.6,2849.6 L1683.6,2850.0 L1685.6,2850.9 L1687.6,2851.9 L1689.6,2852.4 L1691.6,2852.7 L1693.6,2852.6 L1695.6,2852.1 L1697.6,2851.6 L1699.6,2850.9 L1701.6,2849.4 L1703.6,2848.3 L1705.6,2846.5 L1707.6,2844.7 L1709.6,2844.8 L1711.6,2844.2 L1713.6,2844.6 L1715.6,2844.5 L1717.6,2842.4 L1719.6,2840.5 L1721.6,2838.1 L1723.6,2836.1 L1725.6,2835.2 L1727.6,2834.5 L1729.6,2833.7 L1731.6,2832.5 L1733.6,2830.9 L1735.6,2828.9 L1737.6,2826.9 L1739.6,2825.4 L1741.6,2824.7 L1743.6,2824.5 L1745.6,2824.0 L1747.6,2823.3 L1749.6,2821.6 L1751.6,2819.2 L1753.6,2817.1 L1755.6,2814.4 L1757.6,2811.9 L1759.6,2810.1 L1761.6,2808.1 L1763.6,2806.3 L1765.6,2804.6 L1767.6,2802.4 L1769.6,2800.3 L1771.6,2798.2 L1773.6,2796.1 L1775.6,2793.9 L1777.6,2791.8 L1779.6,2789.4 L1781.6,2786.8 L1783.6,2784.2 L1785.6,2781.8 L1787.6,2780.2 L1789.6,2778.9 L1791.6,2777.9 L1793.6,2776.1 L1795.6,2773.6 L1797.6,2770.4 L1799.6,2767.7 L1801.6,2765.1 L1803.6,2763.0 L1805.6,2761.1 L1807.6,2758.2 L1809.6,2755.7 L1811.6,2752.7 L1813.6,2749.7 L1815.6,2747.6 L1817.6,2745.4 L1819.6,2743.7 L1821.6,2742.3 L1823.6,2740.1 L1825.6,2737.9 L1827.6,2735.4 L1829.6,2732.5 L1831.6,2730.1 L1833.6,2727.1 L1835.6,2724.7 L1837.6,2722.7 L1839.6,2720.3 L1841.6,2718.9 L1843.6,2717.1 L1845.6,2714.5 L1847.6,2712.1 L1849.6,2708.7 L1851.6,2705.0 L1853.6,2702.0 L1855.6,2699.1 L1857.6,2697.0 L1859.6,2695.4 L1861.6,2693.3 L1863.6,2690.9 L1865.6,2688.2 L1867.6,2685.5 L1869.6,2683.2 L1871.6,2681.0 L1873.6,2678.9 L1875.6,2675.9 L1877.6,2672.8 L1879.6,2669.9 L1881.6,2666.6 L1883.6,2664.0 L1885.6,2661.3 L1887.6,2658.2 L1889.6,2655.9 L1891.6,2653.7 L1893.6,2651.8 L1895.6,2650.6 L1897.6,2648.9 L1899.6,2646.6 L1901.6,2644.0 L1903.6,2641.1 L1905.6,2638.7 L1907.6,2636.1 L1909.6,2633.7 L1911.6,2630.9 L1913.6,2627.8 L1915.6,2625.1 L1917.6,2622.7 L1919.6,2620.6 L1921.6,2618.4 L1923.6,2616.3 L1925.6,2613.5 L1927.6,2610.8 L1929.6,2608.3 L1931.6,2605.9 L1933.6,2604.3 L1935.6,2602.8 L1937.6,2601.3 L1939.6,2599.5 L1941.6,2597.2 L1943.6,2595.0 L1945.6,2592.8 L1947.6,2590.2 L1949.6,2587.5 L1951.6,2584.6 L1953.6,2581.7 L1955.6,2579.9 L1957.6,2578.1 L1959.6,2576.7 L1961.6,2575.5 L1963.6,2573.3 L1965.6,2571.8 L1967.6,2569.8 L1969.6,2567.3 L1971.6,2565.2 L1973.6,2562.4 L1975.6,2559.8 L1977.6,2557.5 L1979.6,2554.9 L1981.6,2552.7 L1983.6,2550.8 L1985.6,2549.6 L1987.6,2548.9 L1989.6,2548.1 L1991.6,2547.0 L1993.6,2545.1 L1995.6,2542.5 L1997.6,2540.2 L1999.6,2537.9 L2001.6,2535.8 L2003.6,2533.9 L2005.6,2531.8 L2007.6,2529.8 L2009.6,2527.8 L2011.6,2526.2 L2013.6,2524.7 L2015.6,2523.1 L2017.6,2522.1 L2019.6,2520.9 L2021.6,2519.8 L2023.6,2518.6 L2025.6,2516.4 L2027.6,2514.0 L2029.6,2511.7 L2031.6,2508.7 L2033.6,2506.1 L2035.6,2503.9 L2037.6,2501.4 L2039.6,2499.9 L2041.6,2498.6 L2043.6,2497.1 L2045.6,2496.0 L2047.6,2494.7 L2049.6,2493.4 L2051.6,2493.0 L2053.6,2492.4 L2055.6,2491.9 L2057.6,2491.4 L2059.6,2490.1 L2061.6,2488.4 L2063.6,2486.7 L2065.6,2485.0 L2067.6,2483.2 L2069.6,2482.0 L2071.6,2481.0 L2073.6,2479.9 L2075.6,2479.4 L2077.6,2478.1 L2079.6,2476.5 L2081.6,2475.1 L2083.6,2473.4 L2085.6,2472.1 L2087.6,2470.8 L2089.6,2469.4 L2091.6,2468.3 L2093.6,2467.3 L2095.6,2466.4 L2097.6,2465.9 L2099.6,2464.8 L2101.6,2463.7 L2103.6,2462.8 L2105.6,2461.5 L2107.6,2460.9 L2109.6,2460.3 L2111.6,2459.2 L2113.6,2458.4 L2115.6,2457.5 L2117.6,2456.8 L2119.6,2456.2 L2121.6,2455.8 L2123.6,2454.9 L2125.6,2453.6 L2127.6,2453.2 L2129.6,2452.1 L2131.6,2451.3 L2133.6,2450.9 L2135.6,2449.3 L2137.6,2449.2 L2139.6,2448.5 L2141.6,2447.8 L2143.6,2447.1" fill="none" stroke="#0606ff" stroke-opacity="0.3" stroke-width="11.5" stroke-linejoin="round"/>
<path d="M337.6,2224.8 L339.6,2224.7 L341.6,2224.6 L343.6,2224.5 L345.6,2227.5 L347.6,2226.3 L349.6,2225.6 L351.6,2224.8 L353.6,2224.7 L355.6,2225.3 L357.6,2225.5 L359.6,2225.9 L361.6,2225.8 L363.6,2225.7 L365.6,2225.6 L367.6,2225.4 L369.6,2225.1 L371.6,2224.0 L373.6,2223.0 L375.6,2222.2 L377.6,2221.7 L379.6,2223.0 L381.6,2223.7 L383.6,2224.1 L385.6,2224.6 L387.6,2224.0 L389.6,2224.4 L391.6,2225.0 L393.6,2225.6 L395.6,2225.9 L397.6,2224.9 L399.6,2223.8 L401.6,2222.5 L403.6,2222.2 L405.6,2223.2 L407.6,2224.3 L409.6,2225.4 L411.6,2225.6 L413.6,2224.7 L415.6,2223.5 L417.6,2222.8 L419.6,2222.7 L421.6,2223.4 L423.6,2224.4 L425.6,2224.8 L427.6,2224.8 L429.6,2224.7 L431.6,2224.6 L433.6,2224.7 L435.6,2225.2 L437.6,2225.5 L439.6,2225.9 L441.6,2226.4 L443.6,2226.9 L445.6,2227.8 L447.6,2228.4 L449.6,2228.9 L451.6,2229.2 L453.6,2229.0 L455.6,2228.9 L457.6,2228.7 L459.6,2228.8 L461.6,2229.1 L463.6,2229.3 L465.6,2230.1 L467.6,2230.6 L469.6,2231.2 L471.6,2232.4 L473.6,2233.2 L475.6,2234.5 L477.6,2235.6 L479.6,2236.0 L481.6,2236.4 L483.6,2236.0 L485.6,2235.9 L487.6,2235.8 L489.6,2236.0 L491.6,2236.5 L493.6,2237.2 L495.6,2238.2 L497.6,2238.7 L499.6,2239.8 L501.6,2240.8 L503.6,2241.8 L505.6,2243.4 L507.6,2243.9 L509.6,2244.0 L511.6,2243.6 L513.6,2243.3 L515.6,2243.7 L517.6,2244.2 L519.6,2245.2 L521.6,2245.8 L523.6,2246.1 L525.6,2246.6 L527.6,2246.8 L529.6,2247.1 L531.6,2247.8 L533.6,2247.6 L535.6,2247.2 L537.6,2247.0 L539.6,2245.7 L541.6,2245.7 L543.6,2246.2 L545.6,2246.1 L547.6,2247.3 L549.6,2247.7 L551.6,2248.4 L553.6,2249.8 L555.6,2249.9 L557.6,2250.2 L559.6,2249.6 L561.6,2248.6 L563.6,2248.6 L565.6,2248.0 L567.6,2248.0 L569.6,2248.0 L571.6,2247.5 L573.6,2247.3 L575.6,2246.8 L577.6,2246.3 L579.6,2245.7 L581.6,2245.5 L583.6,2245.2 L585.6,2244.9 L587.6,2245.0 L589.6,2245.1 L591.6,2245.2 L593.6,2245.0 L595.6,2244.2 L597.6,2243.1 L599.6,2242.2 L601.6,2241.6 L603.6,2241.4 L605.6,2241.3 L607.6,2241.3 L609.6,2240.9 L611.6,2239.9 L613.6,2239.0 L615.6,2237.9 L617.6,2237.4 L619.6,2238.1 L621.6,2238.8 L623.6,2239.3 L625.6,2239.5 L627.6,2238.2 L629.6,2236.5 L631.6,2235.2 L633.6,2233.9 L635.6,2233.4 L637.6,2233.2 L639.6,2232.7 L641.6,2231.7 L643.6,2230.8 L645.6,2230.0 L647.6,2229.0 L649.6,2228.5 L651.6,2227.3 L653.6,2226.7 L655.6,2226.8 L657.6,2226.9 L659.6,2227.1 L661.6,2226.6 L663.6,2225.2 L665.6,2223.4 L667.6,2222.2 L669.6,2221.1 L671.6,2220.7 L673.6,2221.1 L675.6,2220.9 L677.6,2220.6 L679.6,2219.5 L681.6,2218.1 L683.6,2216.4 L685.6,2214.9 L687.6,2213.9 L689.6,2212.7 L691.6,2211.9 L693.6,2211.0 L695.6,2209.9 L697.6,2208.5 L699.6,2207.2 L701.6,2205.9 L703.6,2204.6 L705.6,2204.3 L707.6,2203.4 L709.6,2203.2 L711.6,2203.1 L713.6,2202.5 L715.6,2202.4 L717.6,2201.1 L719.6,2200.2 L721.6,2199.1 L723.6,2198.1 L725.6,2198.1 L727.6,2198.0 L729.6,2198.3 L731.6,2198.2 L733.6,2197.4 L735.6,2196.2 L737.6,2194.5 L739.6,2193.3 L741.6,2192.0 L743.6,2190.6 L745.6,2189.2 L747.6,2187.5 L749.6,2186.4 L751.6,2185.6 L753.6,2185.4 L755.6,2185.4 L757.6,2185.0 L759.6,2184.1 L761.6,2182.8 L763.6,2181.2 L765.6,2179.9 L767.6,2179.6 L769.6,2179.6 L771.6,2179.5 L773.6,2179.1 L775.6,2177.5 L777.6,2175.9 L779.6,2174.4 L781.6,2173.2 L783.6,2172.6 L785.6,2171.9 L787.6,2171.4 L789.6,2170.9 L791.6,2169.8 L793.6,2168.7 L795.6,2167.4 L797.6,2166.3 L799.6,2165.6 L801.6,2165.2 L803.6,2165.3 L805.6,2164.7 L807.6,2164.4 L809.6,2163.8 L811.6,2162.3 L813.6,2161.7 L815.6,2160.7 L817.6,2159.4 L819.6,2158.7 L821.6,2157.3 L823.6,2156.3 L825.6,2155.8 L827.6,2155.1 L829.6,2154.7 L831.6,2153.8 L833.6,2152.4 L835.6,2151.2 L837.6,2150.3 L839.6,2149.4 L841.6,2149.2 L843.6,2148.5 L845.6,2147.4 L847.6,2145.8 L849.6,2143.9 L851.6,2142.0 L853.6,2140.6 L855.6,2139.7 L857.6,2138.8 L859.6,2137.7 L861.6,2136.6 L863.6,2135.5 L865.6,2134.6 L867.6,2134.1 L869.6,2133.4 L871.6,2132.5 L873.6,2131.0 L875.6,2129.5 L877.6,2128.1 L879.6,2126.6 L881.6,2126.0 L883.6,2124.7 L885.6,2123.2 L887.6,2121.6 L889.6,2120.1 L891.6,2118.7 L893.6,2117.6 L895.6,2117.0 L897.6,2115.9 L899.6,2114.9 L901.6,2113.6 L903.6,2111.9 L905.6,2110.3 L907.6,2108.7 L909.6,2107.2 L911.6,2106.0 L913.6,2104.4 L915.6,2103.1 L917.6,2101.1 L919.6,2099.1 L921.6,2097.8 L923.6,2095.8 L925.6,2094.5 L927.6,2093.0 L929.6,2091.1 L931.6,2089.3 L933.6,2087.4 L935.6,2085.6 L937.6,2083.7 L939.6,2082.5 L941.6,2080.7 L943.6,2078.5 L945.6,2076.4 L947.6,2073.9 L949.6,2071.9 L951.6,2070.3 L953.6,2069.4 L955.6,2068.1 L957.6,2066.6 L959.6,2064.8 L961.6,2062.3 L963.6,2060.3 L965.6,2058.6 L967.6,2057.0 L969.6,2055.5 L971.6,2053.7 L973.6,2051.6 L975.6,2049.6 L977.6,2047.4 L979.6,2045.3 L981.6,2043.3 L983.6,2041.2 L985.6,2039.9 L987.6,2038.8 L989.6,2037.8 L991.6,2037.1 L993.6,2035.0 L995.6,2033.1 L997.6,2030.6 L999.6,2027.1 L1001.6,2024.7 L1003.6,2021.5 L1005.6,2019.1 L1007.6,2017.7 L1009.6,2016.2 L1011.6,2015.7 L1013.6,2014.8 L1015.6,2013.4 L1017.6,2011.2 L1019.6,2008.2 L1021.6,2005.4 L1023.6,2002.6 L1025.6,2000.7 L1027.6,1999.2 L1029.6,1997.9 L1031.6,1996.4 L1033.6,1994.3 L1035.6,1992.2 L1037.6,1989.7 L1039.6,1987.4 L1041.6,1985.5 L1043.6,1982.8 L1045.6,1980.4 L1047.6,1978.0 L1049.6,1975.6 L1051.6,1974.4 L1053.6,1973.2 L1055.6,1972.3 L1057.6,1971.1 L1059.6,1969.2 L1061.6,1967.3 L1063.6,1964.9 L1065.6,1962.4 L1067.6,1959.9 L1069.6,1957.2 L1071.6,1954.8 L1073.6,1952.4 L1075.6,1950.3 L1077.6,1948.6 L1079.6,1946.8 L1081.6,1945.4 L1083.6,1943.8 L1085.6,1941.7 L1087.6,1939.6 L1089.6,1937.3 L1091.6,1934.5 L1093.6,1932.5 L1095.6,1930.0 L1097.6,1927.1 L1099.6,1925.1 L1101.6,1922.2 L1103.6,1920.0 L1105.6,1918.1 L1107.6,1916.2 L1109.6,1915.0 L1111.6,1913.9 L1113.6,1913.2 L1115.6,1911.7 L1117.6,1909.5 L1119.6,1906.9 L1121.6,1903.9 L1123.6,1901.5 L1125.6,1900.1 L1127.6,1899.2 L1129.6,1898.8 L1131.6,1897.9 L1133.6,1896.0 L1135.6,1893.7 L1137.6,1891.0 L1139.6,1888.3 L1141.6,1886.5 L1143.6,1884.8 L1145.6,1883.2 L1147.6,1882.3 L1149.6,1880.8 L1151.6,1878.9 L1153.6,1877.3 L1155.6,1875.4 L1157.6,1873.9 L1159.6,1873.6 L1161.6,1873.1 L1163.6,1872.8 L1165.6,1872.6 L1167.6,1871.7 L1169.6,1871.1 L1171.6,1870.5 L1173.6,1870.0 L1175.6,1868.9 L1177.6,1867.2 L1179.6,1865.3 L1181.6,1863.3 L1183.6,1862.6 L1185.6,1861.7 L1187.6,1861.0 L1189.6,1860.4 L1191.6,1859.1 L1193.6,1858.5 L1195.6,1858.4 L1197.6,1858.4 L1199.6,1858.5 L1201.6,1858.7 L1203.6,1858.7 L1205.6,1858.7 L1207.6,1859.2 L1209.6,1859.3 L1211.6,1859.3 L1213.6,1859.1 L1215.6,1858.4 L1217.6,1857.8 L1219.6,1857.7 L1221.6,1858.2 L1223.6,1859.0 L1225.6,1859.5 L1227.6,1859.6 L1229.6,1859.4 L1231.6,1858.9 L1233.6,1859.0 L1235.6,1859.8 L1237.6,1860.6 L1239.6,1862.1 L1241.6,1863.5 L1243.6,1864.5 L1245.6,1865.0 L1247.6,1865.2 L1249.6,1864.8 L1251.6,1864.7 L1253.6,1865.3 L1255.6,1865.8 L1257.6,1866.8 L1259.6,1867.9 L1261.6,1869.5 L1263.6,1871.1 L1265.6,1872.6 L1267.6,1873.7 L1269.6,1873.7 L1271.6,1873.7 L1273.6,1873.9 L1275.6,1874.9 L1277.6,1876.3 L1279.6,1878.6 L1281.6,1881.2 L1283.6,1883.8 L1285.6,1886.6 L1287.6,1888.5 L1289.6,1890.1 L1291.6,1891.3 L1293.6,1892.9 L1295.6,1894.3 L1297.6,1895.6 L1299.6,1897.1 L1301.6,1897.6 L1303.6,1898.9 L1305.6,1900.7 L1307.6,1902.3 L1309.6,1905.2 L1311.6,1907.2 L1313.6,1908.9 L1315.6,1911.0 L1317.6,1912.8 L1319.6,1915.9 L1321.6,1919.3 L1323.6,1922.2 L1325.6,1924.5 L1327.6,1925.4 L1329.6,1926.2 L1331.6,1927.7 L1333.6,1929.7 L1335.6,1932.9 L1337.6,1936.1 L1339.6,1939.1 L1341.6,1941.9 L1343.6,1943.8 L1345.6,1945.5 L1347.6,1947.2 L1349.6,1949.5 L1351.6,1953.0 L1353.6,1957.3 L1355.6,1961.9 L1357.6,1965.5 L1359.6,1968.4 L1361.6,1970.5 L1363.6,1973.1 L1365.6,1977.1 L1367.6,1981.6 L1369.6,1986.8 L1371.6,1991.6 L1373.6,1995.5 L1375.6,1998.8 L1377.6,2001.5 L1379.6,2004.5 L1381.6,2008.0 L1383.6,2012.5 L1385.6,2018.2 L1387.6,2023.3 L1389.6,2028.9 L1391.6,2033.5 L1393.6,2037.5 L1395.6,2042.9 L1397.6,2047.9 L1399.6,2053.9 L1401.6,2060.0 L1403.6,2065.2 L1405.6,2070.7 L1407.6,2076.3 L1409.6,2082.3 L1411.6,2088.9 L1413.6,2095.3 L1415.6,2101.7 L1417.6,2108.5 L1419.6,2115.1 L1421.6,2122.3 L1423.6,2129.8 L1425.6,2136.4 L1427.6,2143.5 L1429.6,2150.6 L1431.6,2157.4 L1433.6,2165.7 L1435.6,2173.8 L1437.6,2182.3 L1439.6,2190.9 L1441.6,2199.4 L1443.6,2207.5 L1445.6,2215.8 L1447.6,2224.4 L1449.6,2232.5 L1451.6,2242.4 L1453.6,2252.5 L1455.6,2263.3 L1457.6,2274.5 L1459.6,2284.6 L1461.6,2295.0 L1463.6,2305.4 L1465.6,2316.8 L1467.6,2329.1 L1469.6,2341.8 L1471.6,2354.8 L1473.6,2367.0 L1475.6,2379.3 L1477.6,2391.7 L1479.6,2404.2 L1481.6,2417.6 L1483.6,2430.8 L1485.6,2443.5 L1487.6,2455.9 L1489.6,2468.2 L1491.6,2480.2 L1493.6,2492.4 L1495.6,2504.2 L1497.6,2515.4 L1499.6,2526.8 L1501.6,2537.8 L1503.6,2548.9 L1505.6,2559.6 L1507.6,2569.8 L1509.6,2579.1 L1511.6,2588.1 L1513.6,2596.8 L1515.6,2605.3 L1517.6,2614.4 L1519.6,2623.1 L1521.6,2631.5 L1523.6,2639.6 L1525.6,2647.3 L1527.6,2654.5 L1529.6,2661.4 L1531.6,2668.0 L1533.6,2674.4 L1535.6,2680.8 L1537.6,2687.2 L1539.6,2693.8 L1541.6,2699.9 L1543.6,2706.0 L1545.6,2711.4 L1547.6,2717.1 L1549.6,2722.8 L1551.6,2728.0 L1553.6,2733.5 L1555.6,2738.6 L1557.6,2743.9 L1559.6,2749.7 L1561.6,2755.7 L1563.6,2761.3 L1565.6,2766.5 L1567.6,2771.4 L1569.6,2775.5 L1571.6,2779.5 L1573.6,2783.4 L1575.6,2786.5 L1577.6,2790.0 L1579.6,2793.2 L1581.6,2796.1 L1583.6,2799.3 L1585.6,2802.4 L1587.6,2805.8 L1589.6,2809.4 L1591.6,2812.6 L1593.6,2814.9 L1595.6,2817.1 L1597.6,2819.0 L1599.6,2820.9 L1601.6,2823.2 L1603.6,2825.0 L1605.6,2826.9 L1607.6,2828.9 L1609.6,2830.9 L1611.6,2833.3 L1613.6,2835.7 L1615.6,2837.7 L1617.6,2839.1 L1619.6,2840.0 L1621.6,2840.2 L1623.6,2840.4 L1625.6,2841.1 L1627.6,2842.1 L1629.6,2843.8 L1631.6,2845.2 L1633.6,2846.0 L1635.6,2846.8 L1637.6,2846.9 L1639.6,2847.1 L1641.6,2848.3 L1643.6,2849.2 L1645.6,2849.8 L1647.6,2850.3 L1649.6,2850.0 L1651.6,2849.5 L1653.6,2849.3 L1655.6,2849.4 L1657.6,2849.9 L1659.6,2850.7 L1661.6,2851.5 L1663.6,2852.0 L1665.6,2852.5 L1667.6,2852.5 L1669.6,2852.6 L1671.6,2852.6 L1673.6,2851.8 L1675.6,2851.3 L1677.6,2850.3 L1679.6,2849.4 L1681.6,2849.6 L1683.6,2850.0 L1685.6,2850.9 L1687.6,2851.9 L1689.6,2852.4 L1691.6,2852.7 L1693.6,2852.6 L1695.6,2852.1 L1697.6,2851.6 L1699.6,2850.9 L1701.6,2849.4 L1703.6,2848.3 L1705.6,2846.5 L1707.6,2844.7 L1709.6,2844.8 L1711.6,2844.2 L1713.6,2844.6 L1715.6,2844.5 L1717.6,2842.4 L1719.6,2840.5 L1721.6,2838.1 L1723.6,2836.1 L1725.6,2835.2 L1727.6,2834.5 L1729.6,2833.7 L1731.6,2832.5 L1733.6,2830.9 L1735.6,2828.9 L1737.6,2826.9 L1739.6,2825.4 L1741.6,2824.7 L1743.6,2824.5 L1745.6,2824.0 L1747.6,2823.3 L1749.6,2821.6 L1751.6,2819.2 L1753.6,2817.1 L1755.6,2814.4 L1757.6,2811.9 L1759.6,2810.1 L1761.6,2808.1 L1763.6,2806.3 L1765.6,2804.6 L1767.6,2802.4 L1769.6,2800.3 L1771.6,2798.2 L1773.6,2796.1 L1775.6,2793.9 L1777.6,2791.8 L1779.6,2789.4 L1781.6,2786.8 L1783.6,2784.2 L1785.6,2781.8 L1787.6,2780.2 L1789.6,2778.9 L1791.6,2777.9 L1793.6,2776.1 L1795.6,2773.6 L1797.6,2770.4 L1799.6,2767.7 L1801.6,2765.1 L1803.6,2763.0 L1805.6,2761.1 L1807.6,2758.2 L1809.6,2755.7 L1811.6,2752.7 L1813.6,2749.7 L1815.6,2747.6 L1817.6,2745.4 L1819.6,2743.7 L1821.6,2742.3 L1823.6,2740.1 L1825.6,2737.9 L1827.6,2735.4 L1829.6,2732.5 L1831.6,2730.1 L1833.6,2727.1 L1835.6,2724.7 L1837.6,2722.7 L1839.6,2720.3 L1841.6,2718.9 L1843.6,2717.1 L1845.6,2714.5 L1847.6,2712.1 L1849.6,2708.7 L1851.6,2705.0 L1853.6,2702.0 L1855.6,2699.1 L1857.6,2697.0 L1859.6,2695.4 L1861.6,2693.3 L1863.6,2690.9 L1865.6,2688.2 L1867.6,2685.5 L1869.6,2683.2 L1871.6,2681.0 L1873.6,2678.9 L1875.6,2675.9 L1877.6,2672.8 L1879.6,2669.9 L1881.6,2666.6 L1883.6,2664.0 L1885.6,2661.3 L1887.6,2658.2 L1889.6,2655.9 L1891.6,2653.7 L1893.6,2651.8 L1895.6,2650.6 L1897.6,2648.9 L1899.6,2646.6 L1901.6,2644.0 L1903.6,2641.1 L1905.6,2638.7 L1907.6,2636.1 L1909.6,2633.7 L1911.6,2630.9 L1913.6,2627.8 L1915.6,2625.1 L1917.6,2622.7 L1919.6,2620.6 L1921.6,2618.4 L1923.6,2616.3 L1925.6,2613.5 L1927.6,2610.8 L1929.6,2608.3 L1931.6,2605.9 L1933.6,2604.3 L1935.6,2602.8 L1937.6,2601.3 L1939.6,2599.5 L1941.6,2597.2 L1943.6,2595.0 L1945.6,2592.8 L1947.6,2590.2 L1949.6,2587.5 L1951.6,2584.6 L1953.6,2581.7 L1955.6,2579.9 L1957.6,2578.1 L1959.6,2576.7 L1961.6,2575.5 L1963.6,2573.3 L1965.6,2571.8 L1967.6,2569.8 L1969.6,2567.3 L1971.6,2565.2 L1973.6,2562.4 L1975.6,2559.8 L1977.6,2557.5 L1979.6,2554.9 L1981.6,2552.7 L1983.6,2550.8 L1985.6,2549.6 L1987.6,2548.9 L1989.6,2548.1 L1991.6,2547.0 L1993.6,2545.1 L1995.6,2542.5 L1997.6,2540.2 L1999.6,2537.9 L2001.6,2535.8 L2003.6,2533.9 L2005.6,2531.8 L2007.6,2529.8 L2009.6,2527.8 L2011.6,2526.2 L2013.6,2524.7 L2015.6,2523.1 L2017.6,2522.1 L2019.6,2520.9 L2021.6,2519.8 L2023.6,2518.6 L2025.6,2516.4 L2027.6,2514.0 L2029.6,2511.7 L2031.6,2508.7 L2033.6,2506.1 L2035.6,2503.9 L2037.6,2501.4 L2039.6,2499.9 L2041.6,2498.6 L2043.6,2497.1 L2045.6,2496.0 L2047.6,2494.7 L2049.6,2493.4 L2051.6,2493.0 L2053.6,2492.4 L2055.6,2491.9 L2057.6,2491.4 L2059.6,2490.1 L2061.6,2488.4 L2063.6,2486.7 L2065.6,2485.0 L2067.6,2483.2 L2069.6,2482.0 L2071.6,2481.0 L2073.6,2479.9 L2075.6,2479.4 L2077.6,2478.1 L2079.6,2476.5 L2081.6,2475.1 L2083.6,2473.4 L2085.6,2472.1 L2087.6,2470.8 L2089.6,2469.4 L2091.6,2468.3 L2093.6,2467.3 L2095.6,2466.4 L2097.6,2465.9 L2099.6,2464.8 L2101.6,2463.7 L2103.6,2462.8 L2105.6,2461.5 L2107.6,2460.9 L2109.6,2460.3 L2111.6,2459.2 L2113.6,2458.4 L2115.6,2457.5 L2117.6,2456.8 L2119.6,2456.2 L2121.6,2455.8 L2123.6,2454.9 L2125.6,2453.6 L2127.6,2453.2 L2129.6,2452.1 L2131.6,2451.3 L2133.6,2450.9 L2135.6,2449.3 L2137.6,2449.2 L2139.6,2448.5 L2141.6,2447.8 L2143.6,2447.1" fill="none" stroke="#0606ff" stroke-width="6.2" stroke-linejoin="round"/>
<path d="M337.8,2353.0 L339.8,2353.0 L341.8,2353.0 L343.8,2353.0 L345.8,2351.8 L347.8,2351.8 L349.8,2352.6 L351.8,2352.9 L353.8,2352.8 L355.8,2352.7 L357.8,2352.2 L359.8,2351.6 L361.8,2351.5 L363.8,2351.6 L365.8,2351.5 L367.8,2351.4 L369.8,2351.3 L371.8,2351.1 L373.8,2351.3 L375.8,2352.0 L377.8,2352.2 L379.8,2353.1 L381.8,2353.2 L383.8,2352.9 L385.8,2352.3 L387.8,2351.1 L389.8,2350.6 L391.8,2350.1 L393.8,2350.0 L395.8,2350.0 L397.8,2349.6 L399.8,2349.2 L401.8,2348.8 L403.8,2348.5 L405.8,2348.6 L407.8,2349.2 L409.8,2349.9 L411.8,2350.8 L413.8,2351.3 L415.8,2350.9 L417.8,2350.5 L419.8,2349.9 L421.8,2349.7 L423.8,2350.1 L425.8,2350.4 L427.8,2350.7 L429.8,2351.2 L431.8,2351.5 L433.8,2351.3 L435.8,2350.8 L437.8,2349.9 L439.8,2348.8 L441.8,2348.5 L443.8,2348.8 L445.8,2349.5 L447.8,2350.5 L449.8,2351.4 L451.8,2351.5 L453.8,2351.5 L455.8,2351.4 L457.8,2351.0 L459.8,2351.2 L461.8,2351.1 L463.8,2351.1 L465.8,2351.6 L467.8,2352.3 L469.8,2353.0 L471.8,2353.1 L473.8,2352.4 L475.8,2351.0 L477.8,2350.3 L479.8,2350.5 L481.8,2350.8 L483.8,2351.5 L485.8,2351.7 L487.8,2351.5 L489.8,2352.2 L491.8,2353.1 L493.8,2353.7 L495.8,2354.4 L497.8,2354.5 L499.8,2354.6 L501.8,2355.0 L503.8,2355.3 L505.8,2355.6 L507.8,2355.9 L509.8,2356.3 L511.8,2357.2 L513.8,2358.1 L515.8,2359.0 L517.8,2359.3 L519.8,2359.1 L521.8,2358.8 L523.8,2358.8 L525.8,2359.2 L527.8,2359.5 L529.8,2360.0 L531.8,2360.5 L533.8,2361.1 L535.8,2362.1 L537.8,2362.9 L539.8,2363.7 L541.8,2364.0 L543.8,2364.1 L545.8,2364.0 L547.8,2364.1 L549.8,2364.5 L551.8,2364.3 L553.8,2364.7 L555.8,2365.2 L557.8,2365.5 L559.8,2366.6 L561.8,2367.0 L563.8,2367.1 L565.8,2367.2 L567.8,2367.1 L569.8,2367.7 L571.8,2368.4 L573.8,2369.5 L575.8,2370.4 L577.8,2371.3 L579.8,2371.7 L581.8,2372.4 L583.8,2373.2 L585.8,2373.3 L587.8,2373.8 L589.8,2373.9 L591.8,2373.5 L593.8,2373.2 L595.8,2372.8 L597.8,2372.4 L599.8,2372.5 L601.8,2372.8 L603.8,2373.4 L605.8,2373.7 L607.8,2373.8 L609.8,2374.0 L611.8,2373.7 L613.8,2374.0 L615.8,2374.2 L617.8,2374.3 L619.8,2374.8 L621.8,2375.0 L623.8,2375.1 L625.8,2374.9 L627.8,2374.5 L629.8,2374.2 L631.8,2373.9 L633.8,2372.9 L635.8,2372.2 L637.8,2371.6 L639.8,2371.1 L641.8,2371.8 L643.8,2372.0 L645.8,2371.4 L647.8,2370.5 L649.8,2368.9 L651.8,2367.5 L653.8,2366.3 L655.8,2365.2 L657.8,2364.4 L659.8,2363.9 L661.8,2363.7 L663.8,2363.6 L665.8,2363.4 L667.8,2363.3 L669.8,2362.7 L671.8,2361.6 L673.8,2360.5 L675.8,2359.1 L677.8,2358.4 L679.8,2358.1 L681.8,2357.5 L683.8,2356.5 L685.8,2355.2 L687.8,2353.9 L689.8,2352.7 L691.8,2351.3 L693.8,2350.0 L695.8,2348.5 L697.8,2347.4 L699.8,2347.0 L701.8,2346.4 L703.8,2345.7 L705.8,2344.6 L707.8,2343.3 L709.8,2342.3 L711.8,2341.4 L713.8,2340.8 L715.8,2340.4 L717.8,2340.2 L719.8,2339.7 L721.8,2338.9 L723.8,2337.4 L725.8,2335.6 L727.8,2334.0 L729.8,2333.2 L731.8,2332.6 L733.8,2332.2 L735.8,2331.4 L737.8,2330.4 L739.8,2329.3 L741.8,2327.7 L743.8,2326.1 L745.8,2323.7 L747.8,2321.6 L749.8,2320.8 L751.8,2320.5 L753.8,2320.6 L755.8,2321.2 L757.8,2320.5 L759.8,2319.3 L761.8,2318.7 L763.8,2317.5 L765.8,2316.9 L767.8,2317.0 L769.8,2316.5 L771.8,2316.3 L773.8,2316.3 L775.8,2315.7 L777.8,2315.3 L779.8,2314.2 L781.8,2313.2 L783.8,2311.8 L785.8,2310.3 L787.8,2309.4 L789.8,2307.7 L791.8,2306.5 L793.8,2305.5 L795.8,2304.6 L797.8,2304.7 L799.8,2304.5 L801.8,2303.9 L803.8,2302.7 L805.8,2300.6 L807.8,2298.2 L809.8,2296.5 L811.8,2295.4 L813.8,2294.8 L815.8,2294.8 L817.8,2294.0 L819.8,2292.9 L821.8,2292.0 L823.8,2290.8 L825.8,2290.3 L827.8,2290.4 L829.8,2289.9 L831.8,2289.0 L833.8,2288.0 L835.8,2285.5 L837.8,2284.1 L839.8,2283.0 L841.8,2281.6 L843.8,2282.2 L845.8,2281.9 L847.8,2281.4 L849.8,2281.1 L851.8,2279.5 L853.8,2277.7 L855.8,2275.9 L857.8,2274.1 L859.8,2272.7 L861.8,2272.3 L863.8,2271.7 L865.8,2271.1 L867.8,2270.6 L869.8,2269.1 L871.8,2267.8 L873.8,2266.6 L875.8,2265.5 L877.8,2265.1 L879.8,2264.3 L881.8,2262.7 L883.8,2260.5 L885.8,2258.0 L887.8,2256.1 L889.8,2255.0 L891.8,2254.6 L893.8,2253.7 L895.8,2252.7 L897.8,2251.2 L899.8,2249.7 L901.8,2248.7 L903.8,2247.5 L905.8,2246.3 L907.8,2244.7 L909.8,2242.9 L911.8,2241.1 L913.8,2239.4 L915.8,2238.2 L917.8,2236.9 L919.8,2235.6 L921.8,2234.3 L923.8,2232.7 L925.8,2231.5 L927.8,2230.1 L929.8,2228.9 L931.8,2228.0 L933.8,2226.4 L935.8,2224.9 L937.8,2223.0 L939.8,2220.3 L941.8,2218.6 L943.8,2217.0 L945.8,2215.8 L947.8,2215.2 L949.8,2213.5 L951.8,2211.9 L953.8,2210.4 L955.8,2208.9 L957.8,2207.8 L959.8,2206.8 L961.8,2205.7 L963.8,2204.3 L965.8,2203.0 L967.8,2200.6 L969.8,2197.7 L971.8,2194.8 L973.8,2191.6 L975.8,2189.4 L977.8,2187.4 L979.8,2185.8 L981.8,2184.7 L983.8,2183.2 L985.8,2182.0 L987.8,2180.5 L989.8,2178.7 L991.8,2177.3 L993.8,2175.5 L995.8,2173.7 L997.8,2171.6 L999.8,2169.4 L1001.8,2166.9 L1003.8,2164.4 L1005.8,2161.7 L1007.8,2158.0 L1009.8,2154.4 L1011.8,2151.3 L1013.8,2149.2 L1015.8,2148.3 L1017.8,2148.2 L1019.8,2147.8 L1021.8,2146.5 L1023.8,2144.9 L1025.8,2142.7 L1027.8,2140.5 L1029.8,2138.3 L1031.8,2136.4 L1033.8,2134.7 L1035.8,2132.8 L1037.8,2131.5 L1039.8,2129.7 L1041.8,2127.3 L1043.8,2125.2 L1045.8,2122.4 L1047.8,2120.1 L1049.8,2118.0 L1051.8,2115.7 L1053.8,2113.9 L1055.8,2111.7 L1057.8,2109.7 L1059.8,2108.0 L1061.8,2106.0 L1063.8,2104.8 L1065.8,2102.8 L1067.8,2100.8 L1069.8,2098.9 L1071.8,2096.4 L1073.8,2094.9 L1075.8,2093.4 L1077.8,2091.8 L1079.8,2090.7 L1081.8,2089.4 L1083.8,2088.2 L1085.8,2087.2 L1087.8,2085.1 L1089.8,2082.8 L1091.8,2080.0 L1093.8,2077.5 L1095.8,2075.7 L1097.8,2073.7 L1099.8,2071.9 L1101.8,2069.9 L1103.8,2068.2 L1105.8,2066.8 L1107.8,2065.2 L1109.8,2063.5 L1111.8,2061.4 L1113.8,2059.5 L1115.8,2058.1 L1117.8,2057.1 L1119.8,2056.4 L1121.8,2055.1 L1123.8,2053.5 L1125.8,2051.8 L1127.8,2050.2 L1129.8,2049.2 L1131.8,2048.5 L1133.8,2047.7 L1135.8,2046.8 L1137.8,2045.4 L1139.8,2044.2 L1141.8,2043.1 L1143.8,2041.5 L1145.8,2039.7 L1147.8,2038.0 L1149.8,2036.4 L1151.8,2035.8 L1153.8,2036.2 L1155.8,2036.8 L1157.8,2036.9 L1159.8,2036.3 L1161.8,2034.3 L1163.8,2031.6 L1165.8,2029.3 L1167.8,2028.1 L1169.8,2027.6 L1171.8,2027.8 L1173.8,2027.9 L1175.8,2027.3 L1177.8,2027.0 L1179.8,2027.2 L1181.8,2026.9 L1183.8,2026.8 L1185.8,2026.7 L1187.8,2025.7 L1189.8,2025.0 L1191.8,2024.6 L1193.8,2024.2 L1195.8,2024.4 L1197.8,2024.8 L1199.8,2024.9 L1201.8,2024.6 L1203.8,2024.0 L1205.8,2023.7 L1207.8,2023.3 L1209.8,2023.6 L1211.8,2024.0 L1213.8,2023.6 L1215.8,2022.9 L1217.8,2021.7 L1219.8,2020.5 L1221.8,2020.2 L1223.8,2020.4 L1225.8,2020.7 L1227.8,2021.1 L1229.8,2021.4 L1231.8,2021.7 L1233.8,2022.1 L1235.8,2022.7 L1237.8,2022.8 L1239.8,2023.1 L1241.8,2023.0 L1243.8,2022.4 L1245.8,2022.6 L1247.8,2022.2 L1249.8,2022.2 L1251.8,2022.7 L1253.8,2022.6 L1255.8,2023.2 L1257.8,2024.0 L1259.8,2024.8 L1261.8,2026.1 L1263.8,2027.1 L1265.8,2028.1 L1267.8,2029.2 L1269.8,2030.1 L1271.8,2031.3 L1273.8,2031.9 L1275.8,2032.1 L1277.8,2033.0 L1279.8,2033.5 L1281.8,2034.5 L1283.8,2035.3 L1285.8,2035.1 L1287.8,2035.3 L1289.8,2035.6 L1291.8,2036.8 L1293.8,2038.8 L1295.8,2040.4 L1297.8,2042.4 L1299.8,2044.2 L1301.8,2046.2 L1303.8,2049.0 L1305.8,2051.8 L1307.8,2054.4 L1309.8,2056.3 L1311.8,2057.7 L1313.8,2058.7 L1315.8,2059.5 L1317.8,2061.0 L1319.8,2062.6 L1321.8,2064.1 L1323.8,2066.1 L1325.8,2067.4 L1327.8,2069.2 L1329.8,2071.5 L1331.8,2073.2 L1333.8,2075.9 L1335.8,2078.8 L1337.8,2081.4 L1339.8,2084.9 L1341.8,2088.0 L1343.8,2091.1 L1345.8,2094.4 L1347.8,2097.5 L1349.8,2100.6 L1351.8,2104.3 L1353.8,2107.9 L1355.8,2111.8 L1357.8,2115.3 L1359.8,2118.3 L1361.8,2121.1 L1363.8,2123.5 L1365.8,2126.8 L1367.8,2130.2 L1369.8,2134.3 L1371.8,2139.0 L1373.8,2143.3 L1375.8,2147.8 L1377.8,2152.0 L1379.8,2155.8 L1381.8,2160.2 L1383.8,2164.9 L1385.8,2169.1 L1387.8,2173.4 L1389.8,2177.6 L1391.8,2181.8 L1393.8,2186.6 L1395.8,2191.3 L1397.8,2195.8 L1399.8,2200.0 L1401.8,2204.4 L1403.8,2209.4 L1405.8,2214.5 L1407.8,2219.8 L1409.8,2225.3 L1411.8,2230.6 L1413.8,2236.1 L1415.8,2242.1 L1417.8,2248.2 L1419.8,2254.4 L1421.8,2260.6 L1423.8,2267.3 L1425.8,2274.0 L1427.8,2282.0 L1429.8,2290.5 L1431.8,2299.0 L1433.8,2307.0 L1435.8,2314.5 L1437.8,2322.1 L1439.8,2329.8 L1441.8,2338.7 L1443.8,2347.7 L1445.8,2357.5 L1447.8,2367.3 L1449.8,2376.6 L1451.8,2386.5 L1453.8,2395.5 L1455.8,2405.2 L1457.8,2415.2 L1459.8,2424.5 L1461.8,2435.0 L1463.8,2445.0 L1465.8,2454.9 L1467.8,2465.4 L1469.8,2474.3 L1471.8,2483.2 L1473.8,2492.3 L1475.8,2501.8 L1477.8,2512.4 L1479.8,2523.4 L1481.8,2534.3 L1483.8,2544.8 L1485.8,2554.6 L1487.8,2564.2 L1489.8,2573.9 L1491.8,2583.8 L1493.8,2593.9 L1495.8,2603.8 L1497.8,2613.4 L1499.8,2623.0 L1501.8,2632.7 L1503.8,2643.2 L1505.8,2653.7 L1507.8,2663.9 L1509.8,2673.4 L1511.8,2681.8 L1513.8,2690.4 L1515.8,2699.3 L1517.8,2709.3 L1519.8,2719.8 L1521.8,2730.5 L1523.8,2740.9 L1525.8,2750.0 L1527.8,2758.8 L1529.8,2766.9 L1531.8,2774.5 L1533.8,2781.8 L1535.8,2789.0 L1537.8,2795.5 L1539.8,2802.1 L1541.8,2808.3 L1543.8,2814.7 L1545.8,2821.4 L1547.8,2827.9 L1549.8,2834.7 L1551.8,2841.1 L1553.8,2847.3 L1555.8,2853.6 L1557.8,2858.9 L1559.8,2863.4 L1561.8,2867.2 L1563.8,2870.4 L1565.8,2873.7 L1567.8,2877.9 L1569.8,2882.4 L1571.8,2886.4 L1573.8,2890.2 L1575.8,2893.4 L1577.8,2896.5 L1579.8,2899.7 L1581.8,2903.4 L1583.8,2906.8 L1585.8,2910.0 L1587.8,2912.9 L1589.8,2915.1 L1591.8,2916.8 L1593.8,2918.6 L1595.8,2920.1 L1597.8,2922.2 L1599.8,2924.8 L1601.8,2927.1 L1603.8,2929.3 L1605.8,2931.3 L1607.8,2933.0 L1609.8,2934.4 L1611.8,2936.2 L1613.8,2937.8 L1615.8,2939.5 L1617.8,2941.6 L1619.8,2942.9 L1621.8,2943.9 L1623.8,2944.7 L1625.8,2944.8 L1627.8,2945.4 L1629.8,2945.7 L1631.8,2946.9 L1633.8,2948.7 L1635.8,2950.9 L1637.8,2953.4 L1639.8,2954.8 L1641.8,2955.6 L1643.8,2955.8 L1645.8,2955.4 L1647.8,2955.3 L1649.8,2955.2 L1651.8,2954.9 L1653.8,2954.2 L1655.8,2953.4 L1657.8,2952.9 L1659.8,2952.6 L1661.8,2953.4 L1663.8,2954.3 L1665.8,2955.4 L1667.8,2956.0 L1669.8,2956.3 L1671.8,2956.2 L1673.8,2955.3 L1675.8,2955.0 L1677.8,2954.7 L1679.8,2954.8 L1681.8,2955.1 L1683.8,2955.1 L1685.8,2954.8 L1687.8,2954.4 L1689.8,2954.0 L1691.8,2953.5 L1693.8,2953.0 L1695.8,2952.0 L1697.8,2951.3 L1699.8,2950.8 L1701.8,2950.4 L1703.8,2950.5 L1705.8,2949.9 L1707.8,2948.6 L1709.8,2947.7 L1711.8,2946.1 L1713.8,2944.7 L1715.8,2943.3 L1717.8,2941.4 L1719.8,2940.0 L1721.8,2938.7 L1723.8,2937.9 L1725.8,2937.3 L1727.8,2936.4 L1729.8,2935.4 L1731.8,2933.6 L1733.8,2931.6 L1735.8,2930.0 L1737.8,2928.8 L1739.8,2928.0 L1741.8,2927.0 L1743.8,2925.4 L1745.8,2923.5 L1747.8,2921.4 L1749.8,2919.3 L1751.8,2917.6 L1753.8,2915.2 L1755.8,2912.8 L1757.8,2911.0 L1759.8,2909.2 L1761.8,2908.8 L1763.8,2908.4 L1765.8,2907.7 L1767.8,2906.8 L1769.8,2904.8 L1771.8,2902.5 L1773.8,2900.0 L1775.8,2897.4 L1777.8,2895.1 L1779.8,2893.3 L1781.8,2891.3 L1783.8,2889.5 L1785.8,2887.7 L1787.8,2885.9 L1789.8,2884.4 L1791.8,2882.9 L1793.8,2881.5 L1795.8,2880.5 L1797.8,2879.0 L1799.8,2877.1 L1801.8,2874.6 L1803.8,2870.8 L1805.8,2867.3 L1807.8,2863.6 L1809.8,2860.2 L1811.8,2857.2 L1813.8,2854.6 L1815.8,2852.7 L1817.8,2850.9 L1819.8,2849.2 L1821.8,2846.7 L1823.8,2844.4 L1825.8,2842.1 L1827.8,2839.9 L1829.8,2838.0 L1831.8,2836.0 L1833.8,2833.8 L1835.8,2831.7 L1837.8,2829.6 L1839.8,2827.2 L1841.8,2824.6 L1843.8,2821.3 L1845.8,2818.0 L1847.8,2814.7 L1849.8,2811.7 L1851.8,2809.6 L1853.8,2807.5 L1855.8,2805.3 L1857.8,2803.5 L1859.8,2800.9 L1861.8,2798.4 L1863.8,2796.3 L1865.8,2793.6 L1867.8,2790.6 L1869.8,2788.0 L1871.8,2785.0 L1873.8,2782.5 L1875.8,2781.1 L1877.8,2779.6 L1879.8,2778.4 L1881.8,2777.0 L1883.8,2774.5 L1885.8,2771.8 L1887.8,2768.8 L1889.8,2765.7 L1891.8,2763.2 L1893.8,2760.9 L1895.8,2758.6 L1897.8,2757.1 L1899.8,2755.4 L1901.8,2753.6 L1903.8,2751.9 L1905.8,2749.6 L1907.8,2746.8 L1909.8,2744.8 L1911.8,2742.6 L1913.8,2740.6 L1915.8,2739.1 L1917.8,2737.0 L1919.8,2735.7 L1921.8,2734.0 L1923.8,2732.2 L1925.8,2730.5 L1927.8,2728.0 L1929.8,2726.0 L1931.8,2723.8 L1933.8,2722.1 L1935.8,2719.9 L1937.8,2717.6 L1939.8,2715.2 L1941.8,2712.2 L1943.8,2709.8 L1945.8,2707.8 L1947.8,2705.9 L1949.8,2704.7 L1951.8,2703.3 L1953.8,2700.9 L1955.8,2698.4 L1957.8,2695.1 L1959.8,2692.3 L1961.8,2690.5 L1963.8,2688.8 L1965.8,2687.7 L1967.8,2685.4 L1969.8,2682.8 L1971.8,2679.9 L1973.8,2677.1 L1975.8,2675.0 L1977.8,2672.8 L1979.8,2670.6 L1981.8,2667.9 L1983.8,2665.4 L1985.8,2663.3 L1987.8,2661.7 L1989.8,2660.3 L1991.8,2658.7 L1993.8,2656.9 L1995.8,2654.9 L1997.8,2653.3 L1999.8,2651.7 L2001.8,2650.1 L2003.8,2648.6 L2005.8,2646.9 L2007.8,2645.5 L2009.8,2643.9 L2011.8,2642.9 L2013.8,2642.0 L2015.8,2641.0 L2017.8,2639.7 L2019.8,2637.8 L2021.8,2636.1 L2023.8,2634.2 L2025.8,2632.8 L2027.8,2631.4 L2029.8,2629.4 L2031.8,2628.1 L2033.8,2626.8 L2035.8,2625.6 L2037.8,2624.8 L2039.8,2623.7 L2041.8,2623.2 L2043.8,2622.8 L2045.8,2622.2 L2047.8,2621.7 L2049.8,2620.0 L2051.8,2617.7 L2053.8,2615.5 L2055.8,2613.3 L2057.8,2611.5 L2059.8,2610.1 L2061.8,2608.7 L2063.8,2607.3 L2065.8,2606.3 L2067.8,2605.5 L2069.8,2604.8 L2071.8,2604.3 L2073.8,2603.4 L2075.8,2602.4 L2077.8,2601.7 L2079.8,2600.6 L2081.8,2600.2 L2083.8,2599.4 L2085.8,2597.9 L2087.8,2596.7 L2089.8,2595.0 L2091.8,2593.5 L2093.8,2592.7 L2095.8,2592.0 L2097.8,2591.1 L2099.8,2590.0 L2101.8,2588.3 L2103.8,2586.6 L2105.8,2585.3 L2107.8,2584.4 L2109.8,2583.8 L2111.8,2583.4 L2113.8,2582.3 L2115.8,2580.4 L2117.8,2579.0 L2119.8,2577.0 L2121.8,2575.5 L2123.8,2575.2 L2125.8,2574.2 L2127.8,2574.0 L2129.8,2573.3 L2131.8,2572.3 L2133.8,2572.1 L2135.8,2571.4 L2137.8,2572.6 L2139.8,2571.9 L2141.8,2571.4 L2143.8,2570.8" fill="none" stroke="#2c0a9c" stroke-opacity="0.3" stroke-width="11.5" stroke-linejoin="round"/>
<path d="M337.8,2353.0 L339.8,2353.0 L341.8,2353.0 L343.8,2353.0 L345.8,2351.8 L347.8,2351.8 L349.8,2352.6 L351.8,2352.9 L353.8,2352.8 L355.8,2352.7 L357.8,2352.2 L359.8,2351.6 L361.8,2351.5 L363.8,2351.6 L365.8,2351.5 L367.8,2351.4 L369.8,2351.3 L371.8,2351.1 L373.8,2351.3 L375.8,2352.0 L377.8,2352.2 L379.8,2353.1 L381.8,2353.2 L383.8,2352.9 L385.8,2352.3 L387.8,2351.1 L389.8,2350.6 L391.8,2350.1 L393.8,2350.0 L395.8,2350.0 L397.8,2349.6 L399.8,2349.2 L401.8,2348.8 L403.8,2348.5 L405.8,2348.6 L407.8,2349.2 L409.8,2349.9 L411.8,2350.8 L413.8,2351.3 L415.8,2350.9 L417.8,2350.5 L419.8,2349.9 L421.8,2349.7 L423.8,2350.1 L425.8,2350.4 L427.8,2350.7 L429.8,2351.2 L431.8,2351.5 L433.8,2351.3 L435.8,2350.8 L437.8,2349.9 L439.8,2348.8 L441.8,2348.5 L443.8,2348.8 L445.8,2349.5 L447.8,2350.5 L449.8,2351.4 L451.8,2351.5 L453.8,2351.5 L455.8,2351.4 L457.8,2351.0 L459.8,2351.2 L461.8,2351.1 L463.8,2351.1 L465.8,2351.6 L467.8,2352.3 L469.8,2353.0 L471.8,2353.1 L473.8,2352.4 L475.8,2351.0 L477.8,2350.3 L479.8,2350.5 L481.8,2350.8 L483.8,2351.5 L485.8,2351.7 L487.8,2351.5 L489.8,2352.2 L491.8,2353.1 L493.8,2353.7 L495.8,2354.4 L497.8,2354.5 L499.8,2354.6 L501.8,2355.0 L503.8,2355.3 L505.8,2355.6 L507.8,2355.9 L509.8,2356.3 L511.8,2357.2 L513.8,2358.1 L515.8,2359.0 L517.8,2359.3 L519.8,2359.1 L521.8,2358.8 L523.8,2358.8 L525.8,2359.2 L527.8,2359.5 L529.8,2360.0 L531.8,2360.5 L533.8,2361.1 L535.8,2362.1 L537.8,2362.9 L539.8,2363.7 L541.8,2364.0 L543.8,2364.1 L545.8,2364.0 L547.8,2364.1 L549.8,2364.5 L551.8,2364.3 L553.8,2364.7 L555.8,2365.2 L557.8,2365.5 L559.8,2366.6 L561.8,2367.0 L563.8,2367.1 L565.8,2367.2 L567.8,2367.1 L569.8,2367.7 L571.8,2368.4 L573.8,2369.5 L575.8,2370.4 L577.8,2371.3 L579.8,2371.7 L581.8,2372.4 L583.8,2373.2 L585.8,2373.3 L587.8,2373.8 L589.8,2373.9 L591.8,2373.5 L593.8,2373.2 L595.8,2372.8 L597.8,2372.4 L599.8,2372.5 L601.8,2372.8 L603.8,2373.4 L605.8,2373.7 L607.8,2373.8 L609.8,2374.0 L611.8,2373.7 L613.8,2374.0 L615.8,2374.2 L617.8,2374.3 L619.8,2374.8 L621.8,2375.0 L623.8,2375.1 L625.8,2374.9 L627.8,2374.5 L629.8,2374.2 L631.8,2373.9 L633.8,2372.9 L635.8,2372.2 L637.8,2371.6 L639.8,2371.1 L641.8,2371.8 L643.8,2372.0 L645.8,2371.4 L647.8,2370.5 L649.8,2368.9 L651.8,2367.5 L653.8,2366.3 L655.8,2365.2 L657.8,2364.4 L659.8,2363.9 L661.8,2363.7 L663.8,2363.6 L665.8,2363.4 L667.8,2363.3 L669.8,2362.7 L671.8,2361.6 L673.8,2360.5 L675.8,2359.1 L677.8,2358.4 L679.8,2358.1 L681.8,2357.5 L683.8,2356.5 L685.8,2355.2 L687.8,2353.9 L689.8,2352.7 L691.8,2351.3 L693.8,2350.0 L695.8,2348.5 L697.8,2347.4 L699.8,2347.0 L701.8,2346.4 L703.8,2345.7 L705.8,2344.6 L707.8,2343.3 L709.8,2342.3 L711.8,2341.4 L713.8,2340.8 L715.8,2340.4 L717.8,2340.2 L719.8,2339.7 L721.8,2338.9 L723.8,2337.4 L725.8,2335.6 L727.8,2334.0 L729.8,2333.2 L731.8,2332.6 L733.8,2332.2 L735.8,2331.4 L737.8,2330.4 L739.8,2329.3 L741.8,2327.7 L743.8,2326.1 L745.8,2323.7 L747.8,2321.6 L749.8,2320.8 L751.8,2320.5 L753.8,2320.6 L755.8,2321.2 L757.8,2320.5 L759.8,2319.3 L761.8,2318.7 L763.8,2317.5 L765.8,2316.9 L767.8,2317.0 L769.8,2316.5 L771.8,2316.3 L773.8,2316.3 L775.8,2315.7 L777.8,2315.3 L779.8,2314.2 L781.8,2313.2 L783.8,2311.8 L785.8,2310.3 L787.8,2309.4 L789.8,2307.7 L791.8,2306.5 L793.8,2305.5 L795.8,2304.6 L797.8,2304.7 L799.8,2304.5 L801.8,2303.9 L803.8,2302.7 L805.8,2300.6 L807.8,2298.2 L809.8,2296.5 L811.8,2295.4 L813.8,2294.8 L815.8,2294.8 L817.8,2294.0 L819.8,2292.9 L821.8,2292.0 L823.8,2290.8 L825.8,2290.3 L827.8,2290.4 L829.8,2289.9 L831.8,2289.0 L833.8,2288.0 L835.8,2285.5 L837.8,2284.1 L839.8,2283.0 L841.8,2281.6 L843.8,2282.2 L845.8,2281.9 L847.8,2281.4 L849.8,2281.1 L851.8,2279.5 L853.8,2277.7 L855.8,2275.9 L857.8,2274.1 L859.8,2272.7 L861.8,2272.3 L863.8,2271.7 L865.8,2271.1 L867.8,2270.6 L869.8,2269.1 L871.8,2267.8 L873.8,2266.6 L875.8,2265.5 L877.8,2265.1 L879.8,2264.3 L881.8,2262.7 L883.8,2260.5 L885.8,2258.0 L887.8,2256.1 L889.8,2255.0 L891.8,2254.6 L893.8,2253.7 L895.8,2252.7 L897.8,2251.2 L899.8,2249.7 L901.8,2248.7 L903.8,2247.5 L905.8,2246.3 L907.8,2244.7 L909.8,2242.9 L911.8,2241.1 L913.8,2239.4 L915.8,2238.2 L917.8,2236.9 L919.8,2235.6 L921.8,2234.3 L923.8,2232.7 L925.8,2231.5 L927.8,2230.1 L929.8,2228.9 L931.8,2228.0 L933.8,2226.4 L935.8,2224.9 L937.8,2223.0 L939.8,2220.3 L941.8,2218.6 L943.8,2217.0 L945.8,2215.8 L947.8,2215.2 L949.8,2213.5 L951.8,2211.9 L953.8,2210.4 L955.8,2208.9 L957.8,2207.8 L959.8,2206.8 L961.8,2205.7 L963.8,2204.3 L965.8,2203.0 L967.8,2200.6 L969.8,2197.7 L971.8,2194.8 L973.8,2191.6 L975.8,2189.4 L977.8,2187.4 L979.8,2185.8 L981.8,2184.7 L983.8,2183.2 L985.8,2182.0 L987.8,2180.5 L989.8,2178.7 L991.8,2177.3 L993.8,2175.5 L995.8,2173.7 L997.8,2171.6 L999.8,2169.4 L1001.8,2166.9 L1003.8,2164.4 L1005.8,2161.7 L1007.8,2158.0 L1009.8,2154.4 L1011.8,2151.3 L1013.8,2149.2 L1015.8,2148.3 L1017.8,2148.2 L1019.8,2147.8 L1021.8,2146.5 L1023.8,2144.9 L1025.8,2142.7 L1027.8,2140.5 L1029.8,2138.3 L1031.8,2136.4 L1033.8,2134.7 L1035.8,2132.8 L1037.8,2131.5 L1039.8,2129.7 L1041.8,2127.3 L1043.8,2125.2 L1045.8,2122.4 L1047.8,2120.1 L1049.8,2118.0 L1051.8,2115.7 L1053.8,2113.9 L1055.8,2111.7 L1057.8,2109.7 L1059.8,2108.0 L1061.8,2106.0 L1063.8,2104.8 L1065.8,2102.8 L1067.8,2100.8 L1069.8,2098.9 L1071.8,2096.4 L1073.8,2094.9 L1075.8,2093.4 L1077.8,2091.8 L1079.8,2090.7 L1081.8,2089.4 L1083.8,2088.2 L1085.8,2087.2 L1087.8,2085.1 L1089.8,2082.8 L1091.8,2080.0 L1093.8,2077.5 L1095.8,2075.7 L1097.8,2073.7 L1099.8,2071.9 L1101.8,2069.9 L1103.8,2068.2 L1105.8,2066.8 L1107.8,2065.2 L1109.8,2063.5 L1111.8,2061.4 L1113.8,2059.5 L1115.8,2058.1 L1117.8,2057.1 L1119.8,2056.4 L1121.8,2055.1 L1123.8,2053.5 L1125.8,2051.8 L1127.8,2050.2 L1129.8,2049.2 L1131.8,2048.5 L1133.8,2047.7 L1135.8,2046.8 L1137.8,2045.4 L1139.8,2044.2 L1141.8,2043.1 L1143.8,2041.5 L1145.8,2039.7 L1147.8,2038.0 L1149.8,2036.4 L1151.8,2035.8 L1153.8,2036.2 L1155.8,2036.8 L1157.8,2036.9 L1159.8,2036.3 L1161.8,2034.3 L1163.8,2031.6 L1165.8,2029.3 L1167.8,2028.1 L1169.8,2027.6 L1171.8,2027.8 L1173.8,2027.9 L1175.8,2027.3 L1177.8,2027.0 L1179.8,2027.2 L1181.8,2026.9 L1183.8,2026.8 L1185.8,2026.7 L1187.8,2025.7 L1189.8,2025.0 L1191.8,2024.6 L1193.8,2024.2 L1195.8,2024.4 L1197.8,2024.8 L1199.8,2024.9 L1201.8,2024.6 L1203.8,2024.0 L1205.8,2023.7 L1207.8,2023.3 L1209.8,2023.6 L1211.8,2024.0 L1213.8,2023.6 L1215.8,2022.9 L1217.8,2021.7 L1219.8,2020.5 L1221.8,2020.2 L1223.8,2020.4 L1225.8,2020.7 L1227.8,2021.1 L1229.8,2021.4 L1231.8,2021.7 L1233.8,2022.1 L1235.8,2022.7 L1237.8,2022.8 L1239.8,2023.1 L1241.8,2023.0 L1243.8,2022.4 L1245.8,2022.6 L1247.8,2022.2 L1249.8,2022.2 L1251.8,2022.7 L1253.8,2022.6 L1255.8,2023.2 L1257.8,2024.0 L1259.8,2024.8 L1261.8,2026.1 L1263.8,2027.1 L1265.8,2028.1 L1267.8,2029.2 L1269.8,2030.1 L1271.8,2031.3 L1273.8,2031.9 L1275.8,2032.1 L1277.8,2033.0 L1279.8,2033.5 L1281.8,2034.5 L1283.8,2035.3 L1285.8,2035.1 L1287.8,2035.3 L1289.8,2035.6 L1291.8,2036.8 L1293.8,2038.8 L1295.8,2040.4 L1297.8,2042.4 L1299.8,2044.2 L1301.8,2046.2 L1303.8,2049.0 L1305.8,2051.8 L1307.8,2054.4 L1309.8,2056.3 L1311.8,2057.7 L1313.8,2058.7 L1315.8,2059.5 L1317.8,2061.0 L1319.8,2062.6 L1321.8,2064.1 L1323.8,2066.1 L1325.8,2067.4 L1327.8,2069.2 L1329.8,2071.5 L1331.8,2073.2 L1333.8,2075.9 L1335.8,2078.8 L1337.8,2081.4 L1339.8,2084.9 L1341.8,2088.0 L1343.8,2091.1 L1345.8,2094.4 L1347.8,2097.5 L1349.8,2100.6 L1351.8,2104.3 L1353.8,2107.9 L1355.8,2111.8 L1357.8,2115.3 L1359.8,2118.3 L1361.8,2121.1 L1363.8,2123.5 L1365.8,2126.8 L1367.8,2130.2 L1369.8,2134.3 L1371.8,2139.0 L1373.8,2143.3 L1375.8,2147.8 L1377.8,2152.0 L1379.8,2155.8 L1381.8,2160.2 L1383.8,2164.9 L1385.8,2169.1 L1387.8,2173.4 L1389.8,2177.6 L1391.8,2181.8 L1393.8,2186.6 L1395.8,2191.3 L1397.8,2195.8 L1399.8,2200.0 L1401.8,2204.4 L1403.8,2209.4 L1405.8,2214.5 L1407.8,2219.8 L1409.8,2225.3 L1411.8,2230.6 L1413.8,2236.1 L1415.8,2242.1 L1417.8,2248.2 L1419.8,2254.4 L1421.8,2260.6 L1423.8,2267.3 L1425.8,2274.0 L1427.8,2282.0 L1429.8,2290.5 L1431.8,2299.0 L1433.8,2307.0 L1435.8,2314.5 L1437.8,2322.1 L1439.8,2329.8 L1441.8,2338.7 L1443.8,2347.7 L1445.8,2357.5 L1447.8,2367.3 L1449.8,2376.6 L1451.8,2386.5 L1453.8,2395.5 L1455.8,2405.2 L1457.8,2415.2 L1459.8,2424.5 L1461.8,2435.0 L1463.8,2445.0 L1465.8,2454.9 L1467.8,2465.4 L1469.8,2474.3 L1471.8,2483.2 L1473.8,2492.3 L1475.8,2501.8 L1477.8,2512.4 L1479.8,2523.4 L1481.8,2534.3 L1483.8,2544.8 L1485.8,2554.6 L1487.8,2564.2 L1489.8,2573.9 L1491.8,2583.8 L1493.8,2593.9 L1495.8,2603.8 L1497.8,2613.4 L1499.8,2623.0 L1501.8,2632.7 L1503.8,2643.2 L1505.8,2653.7 L1507.8,2663.9 L1509.8,2673.4 L1511.8,2681.8 L1513.8,2690.4 L1515.8,2699.3 L1517.8,2709.3 L1519.8,2719.8 L1521.8,2730.5 L1523.8,2740.9 L1525.8,2750.0 L1527.8,2758.8 L1529.8,2766.9 L1531.8,2774.5 L1533.8,2781.8 L1535.8,2789.0 L1537.8,2795.5 L1539.8,2802.1 L1541.8,2808.3 L1543.8,2814.7 L1545.8,2821.4 L1547.8,2827.9 L1549.8,2834.7 L1551.8,2841.1 L1553.8,2847.3 L1555.8,2853.6 L1557.8,2858.9 L1559.8,2863.4 L1561.8,2867.2 L1563.8,2870.4 L1565.8,2873.7 L1567.8,2877.9 L1569.8,2882.4 L1571.8,2886.4 L1573.8,2890.2 L1575.8,2893.4 L1577.8,2896.5 L1579.8,2899.7 L1581.8,2903.4 L1583.8,2906.8 L1585.8,2910.0 L1587.8,2912.9 L1589.8,2915.1 L1591.8,2916.8 L1593.8,2918.6 L1595.8,2920.1 L1597.8,2922.2 L1599.8,2924.8 L1601.8,2927.1 L1603.8,2929.3 L1605.8,2931.3 L1607.8,2933.0 L1609.8,2934.4 L1611.8,2936.2 L1613.8,2937.8 L1615.8,2939.5 L1617.8,2941.6 L1619.8,2942.9 L1621.8,2943.9 L1623.8,2944.7 L1625.8,2944.8 L1627.8,2945.4 L1629.8,2945.7 L1631.8,2946.9 L1633.8,2948.7 L1635.8,2950.9 L1637.8,2953.4 L1639.8,2954.8 L1641.8,2955.6 L1643.8,2955.8 L1645.8,2955.4 L1647.8,2955.3 L1649.8,2955.2 L1651.8,2954.9 L1653.8,2954.2 L1655.8,2953.4 L1657.8,2952.9 L1659.8,2952.6 L1661.8,2953.4 L1663.8,2954.3 L1665.8,2955.4 L1667.8,2956.0 L1669.8,2956.3 L1671.8,2956.2 L1673.8,2955.3 L1675.8,2955.0 L1677.8,2954.7 L1679.8,2954.8 L1681.8,2955.1 L1683.8,2955.1 L1685.8,2954.8 L1687.8,2954.4 L1689.8,2954.0 L1691.8,2953.5 L1693.8,2953.0 L1695.8,2952.0 L1697.8,2951.3 L1699.8,2950.8 L1701.8,2950.4 L1703.8,2950.5 L1705.8,2949.9 L1707.8,2948.6 L1709.8,2947.7 L1711.8,2946.1 L1713.8,2944.7 L1715.8,2943.3 L1717.8,2941.4 L1719.8,2940.0 L1721.8,2938.7 L1723.8,2937.9 L1725.8,2937.3 L1727.8,2936.4 L1729.8,2935.4 L1731.8,2933.6 L1733.8,2931.6 L1735.8,2930.0 L1737.8,2928.8 L1739.8,2928.0 L1741.8,2927.0 L1743.8,2925.4 L1745.8,2923.5 L1747.8,2921.4 L1749.8,2919.3 L1751.8,2917.6 L1753.8,2915.2 L1755.8,2912.8 L1757.8,2911.0 L1759.8,2909.2 L1761.8,2908.8 L1763.8,2908.4 L1765.8,2907.7 L1767.8,2906.8 L1769.8,2904.8 L1771.8,2902.5 L1773.8,2900.0 L1775.8,2897.4 L1777.8,2895.1 L1779.8,2893.3 L1781.8,2891.3 L1783.8,2889.5 L1785.8,2887.7 L1787.8,2885.9 L1789.8,2884.4 L1791.8,2882.9 L1793.8,2881.5 L1795.8,2880.5 L1797.8,2879.0 L1799.8,2877.1 L1801.8,2874.6 L1803.8,2870.8 L1805.8,2867.3 L1807.8,2863.6 L1809.8,2860.2 L1811.8,2857.2 L1813.8,2854.6 L1815.8,2852.7 L1817.8,2850.9 L1819.8,2849.2 L1821.8,2846.7 L1823.8,2844.4 L1825.8,2842.1 L1827.8,2839.9 L1829.8,2838.0 L1831.8,2836.0 L1833.8,2833.8 L1835.8,2831.7 L1837.8,2829.6 L1839.8,2827.2 L1841.8,2824.6 L1843.8,2821.3 L1845.8,2818.0 L1847.8,2814.7 L1849.8,2811.7 L1851.8,2809.6 L1853.8,2807.5 L1855.8,2805.3 L1857.8,2803.5 L1859.8,2800.9 L1861.8,2798.4 L1863.8,2796.3 L1865.8,2793.6 L1867.8,2790.6 L1869.8,2788.0 L1871.8,2785.0 L1873.8,2782.5 L1875.8,2781.1 L1877.8,2779.6 L1879.8,2778.4 L1881.8,2777.0 L1883.8,2774.5 L1885.8,2771.8 L1887.8,2768.8 L1889.8,2765.7 L1891.8,2763.2 L1893.8,2760.9 L1895.8,2758.6 L1897.8,2757.1 L1899.8,2755.4 L1901.8,2753.6 L1903.8,2751.9 L1905.8,2749.6 L1907.8,2746.8 L1909.8,2744.8 L1911.8,2742.6 L1913.8,2740.6 L1915.8,2739.1 L1917.8,2737.0 L1919.8,2735.7 L1921.8,2734.0 L1923.8,2732.2 L1925.8,2730.5 L1927.8,2728.0 L1929.8,2726.0 L1931.8,2723.8 L1933.8,2722.1 L1935.8,2719.9 L1937.8,2717.6 L1939.8,2715.2 L1941.8,2712.2 L1943.8,2709.8 L1945.8,2707.8 L1947.8,2705.9 L1949.8,2704.7 L1951.8,2703.3 L1953.8,2700.9 L1955.8,2698.4 L1957.8,2695.1 L1959.8,2692.3 L1961.8,2690.5 L1963.8,2688.8 L1965.8,2687.7 L1967.8,2685.4 L1969.8,2682.8 L1971.8,2679.9 L1973.8,2677.1 L1975.8,2675.0 L1977.8,2672.8 L1979.8,2670.6 L1981.8,2667.9 L1983.8,2665.4 L1985.8,2663.3 L1987.8,2661.7 L1989.8,2660.3 L1991.8,2658.7 L1993.8,2656.9 L1995.8,2654.9 L1997.8,2653.3 L1999.8,2651.7 L2001.8,2650.1 L2003.8,2648.6 L2005.8,2646.9 L2007.8,2645.5 L2009.8,2643.9 L2011.8,2642.9 L2013.8,2642.0 L2015.8,2641.0 L2017.8,2639.7 L2019.8,2637.8 L2021.8,2636.1 L2023.8,2634.2 L2025.8,2632.8 L2027.8,2631.4 L2029.8,2629.4 L2031.8,2628.1 L2033.8,2626.8 L2035.8,2625.6 L2037.8,2624.8 L2039.8,2623.7 L2041.8,2623.2 L2043.8,2622.8 L2045.8,2622.2 L2047.8,2621.7 L2049.8,2620.0 L2051.8,2617.7 L2053.8,2615.5 L2055.8,2613.3 L2057.8,2611.5 L2059.8,2610.1 L2061.8,2608.7 L2063.8,2607.3 L2065.8,2606.3 L2067.8,2605.5 L2069.8,2604.8 L2071.8,2604.3 L2073.8,2603.4 L2075.8,2602.4 L2077.8,2601.7 L2079.8,2600.6 L2081.8,2600.2 L2083.8,2599.4 L2085.8,2597.9 L2087.8,2596.7 L2089.8,2595.0 L2091.8,2593.5 L2093.8,2592.7 L2095.8,2592.0 L2097.8,2591.1 L2099.8,2590.0 L2101.8,2588.3 L2103.8,2586.6 L2105.8,2585.3 L2107.8,2584.4 L2109.8,2583.8 L2111.8,2583.4 L2113.8,2582.3 L2115.8,2580.4 L2117.8,2579.0 L2119.8,2577.0 L2121.8,2575.5 L2123.8,2575.2 L2125.8,2574.2 L2127.8,2574.0 L2129.8,2573.3 L2131.8,2572.3 L2133.8,2572.1 L2135.8,2571.4 L2137.8,2572.6 L2139.8,2571.9 L2141.8,2571.4 L2143.8,2570.8" fill="none" stroke="#2c0a9c" stroke-width="6.2" stroke-linejoin="round"/>
<path d="M337.7,2482.1 L339.7,2482.2 L341.7,2482.3 L343.7,2482.4 L345.7,2480.6 L347.7,2480.7 L349.7,2480.9 L351.7,2480.7 L353.7,2481.7 L355.7,2482.7 L357.7,2483.8 L359.7,2484.9 L361.7,2484.6 L363.7,2484.2 L365.7,2484.3 L367.7,2484.1 L369.7,2484.6 L371.7,2484.9 L373.7,2484.6 L375.7,2484.7 L377.7,2484.4 L379.7,2484.5 L381.7,2484.8 L383.7,2484.8 L385.7,2484.9 L387.7,2484.6 L389.7,2484.4 L391.7,2484.5 L393.7,2485.3 L395.7,2486.1 L397.7,2486.9 L399.7,2487.8 L401.7,2487.8 L403.7,2488.6 L405.7,2489.2 L407.7,2489.5 L409.7,2489.9 L411.7,2489.5 L413.7,2489.6 L415.7,2489.5 L417.7,2489.7 L419.7,2490.4 L421.7,2490.6 L423.7,2491.6 L425.7,2492.1 L427.7,2491.7 L429.7,2491.6 L431.7,2491.1 L433.7,2490.9 L435.7,2491.2 L437.7,2491.3 L439.7,2491.3 L441.7,2491.6 L443.7,2491.9 L445.7,2492.2 L447.7,2492.6 L449.7,2492.1 L451.7,2491.6 L453.7,2490.8 L455.7,2490.1 L457.7,2490.4 L459.7,2490.3 L461.7,2490.3 L463.7,2490.3 L465.7,2489.5 L467.7,2489.5 L469.7,2489.6 L471.7,2489.8 L473.7,2490.8 L475.7,2491.1 L477.7,2491.1 L479.7,2491.0 L481.7,2490.6 L483.7,2489.9 L485.7,2489.4 L487.7,2489.2 L489.7,2488.2 L491.7,2488.1 L493.7,2488.1 L495.7,2487.7 L497.7,2488.7 L499.7,2489.1 L501.7,2489.3 L503.7,2489.6 L505.7,2489.2 L507.7,2488.8 L509.7,2489.0 L511.7,2489.0 L513.7,2488.8 L515.7,2488.7 L517.7,2488.6 L519.7,2488.2 L521.7,2488.0 L523.7,2487.7 L525.7,2486.9 L527.7,2487.1 L529.7,2486.6 L531.7,2486.1 L533.7,2486.1 L535.7,2485.1 L537.7,2485.3 L539.7,2485.1 L541.7,2485.2 L543.7,2486.4 L545.7,2487.0 L547.7,2487.8 L549.7,2487.6 L551.7,2486.4 L553.7,2485.0 L555.7,2483.6 L557.7,2482.9 L559.7,2482.6 L561.7,2482.6 L563.7,2482.6 L565.7,2482.6 L567.7,2483.2 L569.7,2483.5 L571.7,2483.8 L573.7,2484.5 L575.7,2484.0 L577.7,2484.1 L579.7,2484.7 L581.7,2485.2 L583.7,2486.4 L585.7,2487.1 L587.7,2487.5 L589.7,2487.1 L591.7,2486.3 L593.7,2486.0 L595.7,2485.2 L597.7,2485.4 L599.7,2485.9 L601.7,2486.6 L603.7,2487.7 L605.7,2488.3 L607.7,2489.2 L609.7,2489.5 L611.7,2490.0 L613.7,2490.2 L615.7,2489.9 L617.7,2489.4 L619.7,2489.8 L621.7,2490.6 L623.7,2492.6 L625.7,2495.3 L627.7,2496.5 L629.7,2497.5 L631.7,2497.6 L633.7,2497.4 L635.7,2497.6 L637.7,2497.2 L639.7,2497.1 L641.7,2497.0 L643.7,2497.3 L645.7,2498.6 L647.7,2500.0 L649.7,2501.2 L651.7,2501.6 L653.7,2501.9 L655.7,2501.5 L657.7,2501.1 L659.7,2501.5 L661.7,2501.5 L663.7,2502.1 L665.7,2503.2 L667.7,2504.8 L669.7,2506.4 L671.7,2508.1 L673.7,2508.9 L675.7,2508.2 L677.7,2507.4 L679.7,2505.9 L681.7,2505.2 L683.7,2505.1 L685.7,2504.8 L687.7,2504.8 L689.7,2505.0 L691.7,2505.3 L693.7,2505.9 L695.7,2506.5 L697.7,2506.6 L699.7,2506.4 L701.7,2506.1 L703.7,2505.5 L705.7,2504.8 L707.7,2504.1 L709.7,2503.2 L711.7,2503.0 L713.7,2503.2 L715.7,2503.1 L717.7,2502.7 L719.7,2501.4 L721.7,2499.9 L723.7,2499.0 L725.7,2498.6 L727.7,2498.9 L729.7,2498.6 L731.7,2497.7 L733.7,2496.3 L735.7,2494.2 L737.7,2492.8 L739.7,2492.0 L741.7,2491.2 L743.7,2490.8 L745.7,2489.8 L747.7,2488.1 L749.7,2486.6 L751.7,2484.5 L753.7,2482.4 L755.7,2480.8 L757.7,2478.8 L759.7,2477.6 L761.7,2476.4 L763.7,2475.0 L765.7,2474.2 L767.7,2473.5 L769.7,2472.6 L771.7,2471.9 L773.7,2471.2 L775.7,2470.2 L777.7,2469.5 L779.7,2468.9 L781.7,2467.2 L783.7,2465.9 L785.7,2464.8 L787.7,2463.9 L789.7,2464.2 L791.7,2464.2 L793.7,2464.0 L795.7,2463.5 L797.7,2462.2 L799.7,2460.9 L801.7,2459.1 L803.7,2457.0 L805.7,2455.7 L807.7,2454.6 L809.7,2453.8 L811.7,2453.8 L813.7,2452.5 L815.7,2451.7 L817.7,2450.8 L819.7,2449.8 L821.7,2450.2 L823.7,2450.1 L825.7,2450.1 L827.7,2450.1 L829.7,2449.3 L831.7,2448.7 L833.7,2448.0 L835.7,2447.1 L837.7,2446.4 L839.7,2445.2 L841.7,2443.9 L843.7,2442.7 L845.7,2441.3 L847.7,2440.9 L849.7,2441.0 L851.7,2440.9 L853.7,2441.0 L855.7,2440.3 L857.7,2438.7 L859.7,2437.0 L861.7,2434.8 L863.7,2433.0 L865.7,2431.8 L867.7,2430.6 L869.7,2429.8 L871.7,2428.4 L873.7,2427.1 L875.7,2425.5 L877.7,2424.1 L879.7,2423.3 L881.7,2422.5 L883.7,2422.2 L885.7,2422.2 L887.7,2422.3 L889.7,2422.2 L891.7,2421.9 L893.7,2420.5 L895.7,2418.3 L897.7,2416.2 L899.7,2413.7 L901.7,2412.1 L903.7,2411.4 L905.7,2410.2 L907.7,2409.0 L909.7,2407.8 L911.7,2406.5 L913.7,2405.6 L915.7,2405.6 L917.7,2404.9 L919.7,2403.6 L921.7,2402.3 L923.7,2399.8 L925.7,2397.9 L927.7,2396.3 L929.7,2394.4 L931.7,2393.5 L933.7,2392.7 L935.7,2391.7 L937.7,2390.7 L939.7,2389.1 L941.7,2387.2 L943.7,2385.6 L945.7,2384.2 L947.7,2383.0 L949.7,2381.9 L951.7,2381.0 L953.7,2379.5 L955.7,2377.4 L957.7,2375.6 L959.7,2373.1 L961.7,2371.2 L963.7,2370.0 L965.7,2368.4 L967.7,2367.3 L969.7,2365.9 L971.7,2364.3 L973.7,2363.7 L975.7,2362.8 L977.7,2361.9 L979.7,2361.2 L981.7,2359.2 L983.7,2357.5 L985.7,2356.3 L987.7,2354.7 L989.7,2353.8 L991.7,2352.4 L993.7,2350.3 L995.7,2348.7 L997.7,2346.5 L999.7,2344.6 L1001.7,2343.4 L1003.7,2341.9 L1005.7,2340.8 L1007.7,2339.5 L1009.7,2338.0 L1011.7,2336.3 L1013.7,2334.4 L1015.7,2332.7 L1017.7,2331.0 L1019.7,2329.9 L1021.7,2328.9 L1023.7,2327.9 L1025.7,2327.2 L1027.7,2325.7 L1029.7,2324.2 L1031.7,2322.5 L1033.7,2320.0 L1035.7,2318.1 L1037.7,2316.2 L1039.7,2314.9 L1041.7,2313.9 L1043.7,2311.9 L1045.7,2309.9 L1047.7,2307.0 L1049.7,2305.1 L1051.7,2304.3 L1053.7,2303.2 L1055.7,2302.9 L1057.7,2301.2 L1059.7,2298.8 L1061.7,2297.0 L1063.7,2295.1 L1065.7,2294.4 L1067.7,2293.6 L1069.7,2292.5 L1071.7,2291.0 L1073.7,2288.8 L1075.7,2287.0 L1077.7,2285.6 L1079.7,2284.4 L1081.7,2283.6 L1083.7,2282.3 L1085.7,2280.7 L1087.7,2279.1 L1089.7,2277.8 L1091.7,2277.0 L1093.7,2276.3 L1095.7,2275.7 L1097.7,2274.1 L1099.7,2271.9 L1101.7,2269.8 L1103.7,2267.8 L1105.7,2266.2 L1107.7,2265.1 L1109.7,2264.0 L1111.7,2262.7 L1113.7,2261.9 L1115.7,2261.4 L1117.7,2261.2 L1119.7,2261.0 L1121.7,2260.5 L1123.7,2259.3 L1125.7,2257.4 L1127.7,2255.1 L1129.7,2253.0 L1131.7,2250.9 L1133.7,2249.6 L1135.7,2248.7 L1137.7,2247.6 L1139.7,2246.9 L1141.7,2245.3 L1143.7,2243.4 L1145.7,2241.8 L1147.7,2239.8 L1149.7,2238.9 L1151.7,2238.7 L1153.7,2238.5 L1155.7,2238.3 L1157.7,2237.8 L1159.7,2236.8 L1161.7,2235.9 L1163.7,2235.0 L1165.7,2234.2 L1167.7,2233.1 L1169.7,2231.9 L1171.7,2230.9 L1173.7,2229.7 L1175.7,2229.0 L1177.7,2228.2 L1179.7,2227.3 L1181.7,2226.5 L1183.7,2226.0 L1185.7,2225.7 L1187.7,2225.2 L1189.7,2225.0 L1191.7,2225.1 L1193.7,2225.0 L1195.7,2225.1 L1197.7,2225.2 L1199.7,2224.7 L1201.7,2224.0 L1203.7,2223.1 L1205.7,2221.8 L1207.7,2221.2 L1209.7,2220.9 L1211.7,2221.2 L1213.7,2222.2 L1215.7,2222.3 L1217.7,2222.4 L1219.7,2222.0 L1221.7,2220.6 L1223.7,2220.0 L1225.7,2219.0 L1227.7,2218.2 L1229.7,2218.5 L1231.7,2219.2 L1233.7,2220.4 L1235.7,2221.6 L1237.7,2222.3 L1239.7,2222.1 L1241.7,2221.9 L1243.7,2221.6 L1245.7,2221.0 L1247.7,2220.7 L1249.7,2220.2 L1251.7,2220.0 L1253.7,2220.1 L1255.7,2220.5 L1257.7,2221.1 L1259.7,2222.1 L1261.7,2223.3 L1263.7,2223.9 L1265.7,2224.7 L1267.7,2224.7 L1269.7,2225.0 L1271.7,2225.7 L1273.7,2226.8 L1275.7,2227.9 L1277.7,2228.5 L1279.7,2229.3 L1281.7,2229.9 L1283.7,2230.3 L1285.7,2230.7 L1287.7,2230.9 L1289.7,2230.9 L1291.7,2231.8 L1293.7,2233.3 L1295.7,2234.5 L1297.7,2236.3 L1299.7,2237.3 L1301.7,2238.5 L1303.7,2240.2 L1305.7,2241.1 L1307.7,2242.5 L1309.7,2243.7 L1311.7,2244.8 L1313.7,2246.1 L1315.7,2247.5 L1317.7,2248.9 L1319.7,2251.0 L1321.7,2253.7 L1323.7,2256.6 L1325.7,2259.3 L1327.7,2261.7 L1329.7,2263.9 L1331.7,2266.1 L1333.7,2268.2 L1335.7,2270.4 L1337.7,2272.3 L1339.7,2273.8 L1341.7,2276.1 L1343.7,2277.8 L1345.7,2280.3 L1347.7,2283.2 L1349.7,2285.6 L1351.7,2288.7 L1353.7,2290.9 L1355.7,2293.3 L1357.7,2296.6 L1359.7,2299.2 L1361.7,2302.5 L1363.7,2305.2 L1365.7,2307.2 L1367.7,2310.0 L1369.7,2312.5 L1371.7,2315.7 L1373.7,2319.2 L1375.7,2322.5 L1377.7,2326.8 L1379.7,2331.1 L1381.7,2335.7 L1383.7,2340.9 L1385.7,2345.1 L1387.7,2348.7 L1389.7,2352.5 L1391.7,2355.4 L1393.7,2359.1 L1395.7,2363.0 L1397.7,2367.1 L1399.7,2371.6 L1401.7,2376.2 L1403.7,2381.8 L1405.7,2387.4 L1407.7,2393.1 L1409.7,2398.3 L1411.7,2402.1 L1413.7,2406.5 L1415.7,2410.7 L1417.7,2415.7 L1419.7,2422.2 L1421.7,2428.5 L1423.7,2435.4 L1425.7,2442.7 L1427.7,2449.6 L1429.7,2456.3 L1431.7,2462.6 L1433.7,2468.2 L1435.7,2473.9 L1437.7,2480.5 L1439.7,2487.1 L1441.7,2494.4 L1443.7,2502.1 L1445.7,2509.4 L1447.7,2517.1 L1449.7,2523.9 L1451.7,2530.9 L1453.7,2538.7 L1455.7,2546.1 L1457.7,2554.7 L1459.7,2562.9 L1461.7,2571.1 L1463.7,2579.9 L1465.7,2588.4 L1467.7,2597.1 L1469.7,2605.3 L1471.7,2613.2 L1473.7,2621.5 L1475.7,2630.2 L1477.7,2639.3 L1479.7,2648.7 L1481.7,2658.3 L1483.7,2667.6 L1485.7,2677.0 L1487.7,2685.7 L1489.7,2694.3 L1491.7,2703.1 L1493.7,2711.7 L1495.7,2720.8 L1497.7,2729.5 L1499.7,2738.5 L1501.7,2747.5 L1503.7,2756.3 L1505.7,2765.5 L1507.7,2773.4 L1509.7,2781.2 L1511.7,2788.6 L1513.7,2795.6 L1515.7,2803.3 L1517.7,2810.8 L1519.7,2818.4 L1521.7,2825.8 L1523.7,2832.5 L1525.7,2838.6 L1527.7,2844.0 L1529.7,2849.0 L1531.7,2854.2 L1533.7,2859.6 L1535.7,2865.3 L1537.7,2871.0 L1539.7,2876.0 L1541.7,2880.2 L1543.7,2884.2 L1545.7,2888.4 L1547.7,2893.4 L1549.7,2899.2 L1551.7,2904.6 L1553.7,2909.4 L1555.7,2913.4 L1557.7,2917.1 L1559.7,2921.2 L1561.7,2925.3 L1563.7,2929.3 L1565.7,2933.2 L1567.7,2936.5 L1569.7,2939.8 L1571.7,2942.6 L1573.7,2945.1 L1575.7,2947.5 L1577.7,2950.0 L1579.7,2953.4 L1581.7,2957.0 L1583.7,2960.2 L1585.7,2963.4 L1587.7,2965.9 L1589.7,2968.2 L1591.7,2970.9 L1593.7,2973.4 L1595.7,2976.0 L1597.7,2977.9 L1599.7,2979.2 L1601.7,2980.0 L1603.7,2980.2 L1605.7,2980.7 L1607.7,2981.8 L1609.7,2983.0 L1611.7,2984.5 L1613.7,2985.9 L1615.7,2986.5 L1617.7,2987.2 L1619.7,2987.7 L1621.7,2988.8 L1623.7,2990.8 L1625.7,2992.6 L1627.7,2994.4 L1629.7,2995.9 L1631.7,2996.3 L1633.7,2996.9 L1635.7,2997.4 L1637.7,2997.4 L1639.7,2997.7 L1641.7,2998.2 L1643.7,2998.8 L1645.7,2999.5 L1647.7,3000.0 L1649.7,2999.8 L1651.7,2999.8 L1653.7,3000.2 L1655.7,3000.6 L1657.7,3001.3 L1659.7,3001.4 L1661.7,3001.2 L1663.7,3001.1 L1665.7,3000.8 L1667.7,3000.7 L1669.7,3000.3 L1671.7,3000.0 L1673.7,3000.4 L1675.7,3001.0 L1677.7,3001.9 L1679.7,3002.3 L1681.7,3002.0 L1683.7,3001.0 L1685.7,2999.7 L1687.7,2998.9 L1689.7,2998.0 L1691.7,2997.7 L1693.7,2997.5 L1695.7,2996.6 L1697.7,2995.8 L1699.7,2994.4 L1701.7,2993.4 L1703.7,2992.8 L1705.7,2992.0 L1707.7,2991.3 L1709.7,2990.4 L1711.7,2989.5 L1713.7,2988.9 L1715.7,2988.7 L1717.7,2987.8 L1719.7,2986.9 L1721.7,2986.0 L1723.7,2984.9 L1725.7,2984.5 L1727.7,2983.4 L1729.7,2982.4 L1731.7,2981.7 L1733.7,2980.0 L1735.7,2979.2 L1737.7,2977.6 L1739.7,2974.9 L1741.7,2972.8 L1743.7,2970.5 L1745.7,2968.9 L1747.7,2968.5 L1749.7,2967.9 L1751.7,2967.1 L1753.7,2965.5 L1755.7,2963.5 L1757.7,2961.2 L1759.7,2959.1 L1761.7,2957.4 L1763.7,2956.2 L1765.7,2956.0 L1767.7,2955.8 L1769.7,2955.4 L1771.7,2954.1 L1773.7,2951.9 L1775.7,2949.3 L1777.7,2946.5 L1779.7,2943.9 L1781.7,2941.7 L1783.7,2940.2 L1785.7,2938.8 L1787.7,2937.5 L1789.7,2936.0 L1791.7,2934.5 L1793.7,2933.1 L1795.7,2931.9 L1797.7,2930.4 L1799.7,2928.8 L1801.7,2927.0 L1803.7,2924.7 L1805.7,2922.8 L1807.7,2920.7 L1809.7,2918.3 L1811.7,2916.7 L1813.7,2915.0 L1815.7,2913.4 L1817.7,2912.0 L1819.7,2910.1 L1821.7,2908.5 L1823.7,2906.5 L1825.7,2904.7 L1827.7,2902.9 L1829.7,2900.7 L1831.7,2898.7 L1833.7,2896.8 L1835.7,2895.1 L1837.7,2893.2 L1839.7,2890.9 L1841.7,2888.2 L1843.7,2885.6 L1845.7,2883.9 L1847.7,2883.0 L1849.7,2882.2 L1851.7,2880.8 L1853.7,2878.4 L1855.7,2875.3 L1857.7,2872.1 L1859.7,2870.1 L1861.7,2868.2 L1863.7,2866.4 L1865.7,2864.6 L1867.7,2862.3 L1869.7,2860.0 L1871.7,2857.8 L1873.7,2856.0 L1875.7,2853.9 L1877.7,2852.0 L1879.7,2850.2 L1881.7,2848.8 L1883.7,2848.0 L1885.7,2846.8 L1887.7,2845.4 L1889.7,2843.1 L1891.7,2840.0 L1893.7,2837.0 L1895.7,2833.7 L1897.7,2830.6 L1899.7,2828.2 L1901.7,2825.8 L1903.7,2823.9 L1905.7,2822.1 L1907.7,2820.0 L1909.7,2818.1 L1911.7,2815.9 L1913.7,2814.2 L1915.7,2812.8 L1917.7,2811.6 L1919.7,2810.1 L1921.7,2808.0 L1923.7,2806.5 L1925.7,2804.8 L1927.7,2803.6 L1929.7,2802.4 L1931.7,2800.1 L1933.7,2797.2 L1935.7,2793.8 L1937.7,2791.0 L1939.7,2789.0 L1941.7,2787.8 L1943.7,2787.6 L1945.7,2786.7 L1947.7,2785.7 L1949.7,2784.1 L1951.7,2781.8 L1953.7,2780.4 L1955.7,2778.7 L1957.7,2777.9 L1959.7,2777.3 L1961.7,2776.0 L1963.7,2774.3 L1965.7,2771.7 L1967.7,2768.9 L1969.7,2766.0 L1971.7,2763.8 L1973.7,2762.0 L1975.7,2760.5 L1977.7,2759.4 L1979.7,2758.1 L1981.7,2756.4 L1983.7,2754.3 L1985.7,2752.7 L1987.7,2751.1 L1989.7,2750.5 L1991.7,2750.2 L1993.7,2749.4 L1995.7,2748.4 L1997.7,2747.0 L1999.7,2745.8 L2001.7,2744.5 L2003.7,2743.4 L2005.7,2741.7 L2007.7,2739.7 L2009.7,2738.3 L2011.7,2736.9 L2013.7,2736.2 L2015.7,2735.6 L2017.7,2734.5 L2019.7,2733.1 L2021.7,2731.5 L2023.7,2729.5 L2025.7,2728.3 L2027.7,2727.6 L2029.7,2726.6 L2031.7,2726.4 L2033.7,2725.3 L2035.7,2724.3 L2037.7,2723.8 L2039.7,2723.0 L2041.7,2722.6 L2043.7,2721.2 L2045.7,2719.3 L2047.7,2716.5 L2049.7,2714.1 L2051.7,2713.1 L2053.7,2712.7 L2055.7,2713.1 L2057.7,2713.3 L2059.7,2712.4 L2061.7,2711.2 L2063.7,2710.3 L2065.7,2709.2 L2067.7,2708.1 L2069.7,2707.3 L2071.7,2705.8 L2073.7,2704.4 L2075.7,2703.4 L2077.7,2702.4 L2079.7,2702.0 L2081.7,2702.4 L2083.7,2702.4 L2085.7,2701.8 L2087.7,2700.4 L2089.7,2698.2 L2091.7,2696.2 L2093.7,2694.7 L2095.7,2693.4 L2097.7,2692.1 L2099.7,2690.9 L2101.7,2690.2 L2103.7,2689.8 L2105.7,2689.9 L2107.7,2689.9 L2109.7,2689.1 L2111.7,2688.5 L2113.7,2687.6 L2115.7,2686.5 L2117.7,2686.1 L2119.7,2685.7 L2121.7,2685.0 L2123.7,2684.9 L2125.7,2683.9 L2127.7,2683.1 L2129.7,2682.5 L2131.7,2681.8 L2133.7,2681.8 L2135.7,2681.9 L2137.7,2682.0 L2139.7,2682.4 L2141.7,2682.3 L2143.7,2682.4 L2145.7,2682.4" fill="none" stroke="#74062e" stroke-opacity="0.3" stroke-width="11.5" stroke-linejoin="round"/>
<path d="M337.7,2482.1 L339.7,2482.2 L341.7,2482.3 L343.7,2482.4 L345.7,2480.6 L347.7,2480.7 L349.7,2480.9 L351.7,2480.7 L353.7,2481.7 L355.7,2482.7 L357.7,2483.8 L359.7,2484.9 L361.7,2484.6 L363.7,2484.2 L365.7,2484.3 L367.7,2484.1 L369.7,2484.6 L371.7,2484.9 L373.7,2484.6 L375.7,2484.7 L377.7,2484.4 L379.7,2484.5 L381.7,2484.8 L383.7,2484.8 L385.7,2484.9 L387.7,2484.6 L389.7,2484.4 L391.7,2484.5 L393.7,2485.3 L395.7,2486.1 L397.7,2486.9 L399.7,2487.8 L401.7,2487.8 L403.7,2488.6 L405.7,2489.2 L407.7,2489.5 L409.7,2489.9 L411.7,2489.5 L413.7,2489.6 L415.7,2489.5 L417.7,2489.7 L419.7,2490.4 L421.7,2490.6 L423.7,2491.6 L425.7,2492.1 L427.7,2491.7 L429.7,2491.6 L431.7,2491.1 L433.7,2490.9 L435.7,2491.2 L437.7,2491.3 L439.7,2491.3 L441.7,2491.6 L443.7,2491.9 L445.7,2492.2 L447.7,2492.6 L449.7,2492.1 L451.7,2491.6 L453.7,2490.8 L455.7,2490.1 L457.7,2490.4 L459.7,2490.3 L461.7,2490.3 L463.7,2490.3 L465.7,2489.5 L467.7,2489.5 L469.7,2489.6 L471.7,2489.8 L473.7,2490.8 L475.7,2491.1 L477.7,2491.1 L479.7,2491.0 L481.7,2490.6 L483.7,2489.9 L485.7,2489.4 L487.7,2489.2 L489.7,2488.2 L491.7,2488.1 L493.7,2488.1 L495.7,2487.7 L497.7,2488.7 L499.7,2489.1 L501.7,2489.3 L503.7,2489.6 L505.7,2489.2 L507.7,2488.8 L509.7,2489.0 L511.7,2489.0 L513.7,2488.8 L515.7,2488.7 L517.7,2488.6 L519.7,2488.2 L521.7,2488.0 L523.7,2487.7 L525.7,2486.9 L527.7,2487.1 L529.7,2486.6 L531.7,2486.1 L533.7,2486.1 L535.7,2485.1 L537.7,2485.3 L539.7,2485.1 L541.7,2485.2 L543.7,2486.4 L545.7,2487.0 L547.7,2487.8 L549.7,2487.6 L551.7,2486.4 L553.7,2485.0 L555.7,2483.6 L557.7,2482.9 L559.7,2482.6 L561.7,2482.6 L563.7,2482.6 L565.7,2482.6 L567.7,2483.2 L569.7,2483.5 L571.7,2483.8 L573.7,2484.5 L575.7,2484.0 L577.7,2484.1 L579.7,2484.7 L581.7,2485.2 L583.7,2486.4 L585.7,2487.1 L587.7,2487.5 L589.7,2487.1 L591.7,2486.3 L593.7,2486.0 L595.7,2485.2 L597.7,2485.4 L599.7,2485.9 L601.7,2486.6 L603.7,2487.7 L605.7,2488.3 L607.7,2489.2 L609.7,2489.5 L611.7,2490.0 L613.7,2490.2 L615.7,2489.9 L617.7,2489.4 L619.7,2489.8 L621.7,2490.6 L623.7,2492.6 L625.7,2495.3 L627.7,2496.5 L629.7,2497.5 L631.7,2497.6 L633.7,2497.4 L635.7,2497.6 L637.7,2497.2 L639.7,2497.1 L641.7,2497.0 L643.7,2497.3 L645.7,2498.6 L647.7,2500.0 L649.7,2501.2 L651.7,2501.6 L653.7,2501.9 L655.7,2501.5 L657.7,2501.1 L659.7,2501.5 L661.7,2501.5 L663.7,2502.1 L665.7,2503.2 L667.7,2504.8 L669.7,2506.4 L671.7,2508.1 L673.7,2508.9 L675.7,2508.2 L677.7,2507.4 L679.7,2505.9 L681.7,2505.2 L683.7,2505.1 L685.7,2504.8 L687.7,2504.8 L689.7,2505.0 L691.7,2505.3 L693.7,2505.9 L695.7,2506.5 L697.7,2506.6 L699.7,2506.4 L701.7,2506.1 L703.7,2505.5 L705.7,2504.8 L707.7,2504.1 L709.7,2503.2 L711.7,2503.0 L713.7,2503.2 L715.7,2503.1 L717.7,2502.7 L719.7,2501.4 L721.7,2499.9 L723.7,2499.0 L725.7,2498.6 L727.7,2498.9 L729.7,2498.6 L731.7,2497.7 L733.7,2496.3 L735.7,2494.2 L737.7,2492.8 L739.7,2492.0 L741.7,2491.2 L743.7,2490.8 L745.7,2489.8 L747.7,2488.1 L749.7,2486.6 L751.7,2484.5 L753.7,2482.4 L755.7,2480.8 L757.7,2478.8 L759.7,2477.6 L761.7,2476.4 L763.7,2475.0 L765.7,2474.2 L767.7,2473.5 L769.7,2472.6 L771.7,2471.9 L773.7,2471.2 L775.7,2470.2 L777.7,2469.5 L779.7,2468.9 L781.7,2467.2 L783.7,2465.9 L785.7,2464.8 L787.7,2463.9 L789.7,2464.2 L791.7,2464.2 L793.7,2464.0 L795.7,2463.5 L797.7,2462.2 L799.7,2460.9 L801.7,2459.1 L803.7,2457.0 L805.7,2455.7 L807.7,2454.6 L809.7,2453.8 L811.7,2453.8 L813.7,2452.5 L815.7,2451.7 L817.7,2450.8 L819.7,2449.8 L821.7,2450.2 L823.7,2450.1 L825.7,2450.1 L827.7,2450.1 L829.7,2449.3 L831.7,2448.7 L833.7,2448.0 L835.7,2447.1 L837.7,2446.4 L839.7,2445.2 L841.7,2443.9 L843.7,2442.7 L845.7,2441.3 L847.7,2440.9 L849.7,2441.0 L851.7,2440.9 L853.7,2441.0 L855.7,2440.3 L857.7,2438.7 L859.7,2437.0 L861.7,2434.8 L863.7,2433.0 L865.7,2431.8 L867.7,2430.6 L869.7,2429.8 L871.7,2428.4 L873.7,2427.1 L875.7,2425.5 L877.7,2424.1 L879.7,2423.3 L881.7,2422.5 L883.7,2422.2 L885.7,2422.2 L887.7,2422.3 L889.7,2422.2 L891.7,2421.9 L893.7,2420.5 L895.7,2418.3 L897.7,2416.2 L899.7,2413.7 L901.7,2412.1 L903.7,2411.4 L905.7,2410.2 L907.7,2409.0 L909.7,2407.8 L911.7,2406.5 L913.7,2405.6 L915.7,2405.6 L917.7,2404.9 L919.7,2403.6 L921.7,2402.3 L923.7,2399.8 L925.7,2397.9 L927.7,2396.3 L929.7,2394.4 L931.7,2393.5 L933.7,2392.7 L935.7,2391.7 L937.7,2390.7 L939.7,2389.1 L941.7,2387.2 L943.7,2385.6 L945.7,2384.2 L947.7,2383.0 L949.7,2381.9 L951.7,2381.0 L953.7,2379.5 L955.7,2377.4 L957.7,2375.6 L959.7,2373.1 L961.7,2371.2 L963.7,2370.0 L965.7,2368.4 L967.7,2367.3 L969.7,2365.9 L971.7,2364.3 L973.7,2363.7 L975.7,2362.8 L977.7,2361.9 L979.7,2361.2 L981.7,2359.2 L983.7,2357.5 L985.7,2356.3 L987.7,2354.7 L989.7,2353.8 L991.7,2352.4 L993.7,2350.3 L995.7,2348.7 L997.7,2346.5 L999.7,2344.6 L1001.7,2343.4 L1003.7,2341.9 L1005.7,2340.8 L1007.7,2339.5 L1009.7,2338.0 L1011.7,2336.3 L1013.7,2334.4 L1015.7,2332.7 L1017.7,2331.0 L1019.7,2329.9 L1021.7,2328.9 L1023.7,2327.9 L1025.7,2327.2 L1027.7,2325.7 L1029.7,2324.2 L1031.7,2322.5 L1033.7,2320.0 L1035.7,2318.1 L1037.7,2316.2 L1039.7,2314.9 L1041.7,2313.9 L1043.7,2311.9 L1045.7,2309.9 L1047.7,2307.0 L1049.7,2305.1 L1051.7,2304.3 L1053.7,2303.2 L1055.7,2302.9 L1057.7,2301.2 L1059.7,2298.8 L1061.7,2297.0 L1063.7,2295.1 L1065.7,2294.4 L1067.7,2293.6 L1069.7,2292.5 L1071.7,2291.0 L1073.7,2288.8 L1075.7,2287.0 L1077.7,2285.6 L1079.7,2284.4 L1081.7,2283.6 L1083.7,2282.3 L1085.7,2280.7 L1087.7,2279.1 L1089.7,2277.8 L1091.7,2277.0 L1093.7,2276.3 L1095.7,2275.7 L1097.7,2274.1 L1099.7,2271.9 L1101.7,2269.8 L1103.7,2267.8 L1105.7,2266.2 L1107.7,2265.1 L1109.7,2264.0 L1111.7,2262.7 L1113.7,2261.9 L1115.7,2261.4 L1117.7,2261.2 L1119.7,2261.0 L1121.7,2260.5 L1123.7,2259.3 L1125.7,2257.4 L1127.7,2255.1 L1129.7,2253.0 L1131.7,2250.9 L1133.7,2249.6 L1135.7,2248.7 L1137.7,2247.6 L1139.7,2246.9 L1141.7,2245.3 L1143.7,2243.4 L1145.7,2241.8 L1147.7,2239.8 L1149.7,2238.9 L1151.7,2238.7 L1153.7,2238.5 L1155.7,2238.3 L1157.7,2237.8 L1159.7,2236.8 L1161.7,2235.9 L1163.7,2235.0 L1165.7,2234.2 L1167.7,2233.1 L1169.7,2231.9 L1171.7,2230.9 L1173.7,2229.7 L1175.7,2229.0 L1177.7,2228.2 L1179.7,2227.3 L1181.7,2226.5 L1183.7,2226.0 L1185.7,2225.7 L1187.7,2225.2 L1189.7,2225.0 L1191.7,2225.1 L1193.7,2225.0 L1195.7,2225.1 L1197.7,2225.2 L1199.7,2224.7 L1201.7,2224.0 L1203.7,2223.1 L1205.7,2221.8 L1207.7,2221.2 L1209.7,2220.9 L1211.7,2221.2 L1213.7,2222.2 L1215.7,2222.3 L1217.7,2222.4 L1219.7,2222.0 L1221.7,2220.6 L1223.7,2220.0 L1225.7,2219.0 L1227.7,2218.2 L1229.7,2218.5 L1231.7,2219.2 L1233.7,2220.4 L1235.7,2221.6 L1237.7,2222.3 L1239.7,2222.1 L1241.7,2221.9 L1243.7,2221.6 L1245.7,2221.0 L1247.7,2220.7 L1249.7,2220.2 L1251.7,2220.0 L1253.7,2220.1 L1255.7,2220.5 L1257.7,2221.1 L1259.7,2222.1 L1261.7,2223.3 L1263.7,2223.9 L1265.7,2224.7 L1267.7,2224.7 L1269.7,2225.0 L1271.7,2225.7 L1273.7,2226.8 L1275.7,2227.9 L1277.7,2228.5 L1279.7,2229.3 L1281.7,2229.9 L1283.7,2230.3 L1285.7,2230.7 L1287.7,2230.9 L1289.7,2230.9 L1291.7,2231.8 L1293.7,2233.3 L1295.7,2234.5 L1297.7,2236.3 L1299.7,2237.3 L1301.7,2238.5 L1303.7,2240.2 L1305.7,2241.1 L1307.7,2242.5 L1309.7,2243.7 L1311.7,2244.8 L1313.7,2246.1 L1315.7,2247.5 L1317.7,2248.9 L1319.7,2251.0 L1321.7,2253.7 L1323.7,2256.6 L1325.7,2259.3 L1327.7,2261.7 L1329.7,2263.9 L1331.7,2266.1 L1333.7,2268.2 L1335.7,2270.4 L1337.7,2272.3 L1339.7,2273.8 L1341.7,2276.1 L1343.7,2277.8 L1345.7,2280.3 L1347.7,2283.2 L1349.7,2285.6 L1351.7,2288.7 L1353.7,2290.9 L1355.7,2293.3 L1357.7,2296.6 L1359.7,2299.2 L1361.7,2302.5 L1363.7,2305.2 L1365.7,2307.2 L1367.7,2310.0 L1369.7,2312.5 L1371.7,2315.7 L1373.7,2319.2 L1375.7,2322.5 L1377.7,2326.8 L1379.7,2331.1 L1381.7,2335.7 L1383.7,2340.9 L1385.7,2345.1 L1387.7,2348.7 L1389.7,2352.5 L1391.7,2355.4 L1393.7,2359.1 L1395.7,2363.0 L1397.7,2367.1 L1399.7,2371.6 L1401.7,2376.2 L1403.7,2381.8 L1405.7,2387.4 L1407.7,2393.1 L1409.7,2398.3 L1411.7,2402.1 L1413.7,2406.5 L1415.7,2410.7 L1417.7,2415.7 L1419.7,2422.2 L1421.7,2428.5 L1423.7,2435.4 L1425.7,2442.7 L1427.7,2449.6 L1429.7,2456.3 L1431.7,2462.6 L1433.7,2468.2 L1435.7,2473.9 L1437.7,2480.5 L1439.7,2487.1 L1441.7,2494.4 L1443.7,2502.1 L1445.7,2509.4 L1447.7,2517.1 L1449.7,2523.9 L1451.7,2530.9 L1453.7,2538.7 L1455.7,2546.1 L1457.7,2554.7 L1459.7,2562.9 L1461.7,2571.1 L1463.7,2579.9 L1465.7,2588.4 L1467.7,2597.1 L1469.7,2605.3 L1471.7,2613.2 L1473.7,2621.5 L1475.7,2630.2 L1477.7,2639.3 L1479.7,2648.7 L1481.7,2658.3 L1483.7,2667.6 L1485.7,2677.0 L1487.7,2685.7 L1489.7,2694.3 L1491.7,2703.1 L1493.7,2711.7 L1495.7,2720.8 L1497.7,2729.5 L1499.7,2738.5 L1501.7,2747.5 L1503.7,2756.3 L1505.7,2765.5 L1507.7,2773.4 L1509.7,2781.2 L1511.7,2788.6 L1513.7,2795.6 L1515.7,2803.3 L1517.7,2810.8 L1519.7,2818.4 L1521.7,2825.8 L1523.7,2832.5 L1525.7,2838.6 L1527.7,2844.0 L1529.7,2849.0 L1531.7,2854.2 L1533.7,2859.6 L1535.7,2865.3 L1537.7,2871.0 L1539.7,2876.0 L1541.7,2880.2 L1543.7,2884.2 L1545.7,2888.4 L1547.7,2893.4 L1549.7,2899.2 L1551.7,2904.6 L1553.7,2909.4 L1555.7,2913.4 L1557.7,2917.1 L1559.7,2921.2 L1561.7,2925.3 L1563.7,2929.3 L1565.7,2933.2 L1567.7,2936.5 L1569.7,2939.8 L1571.7,2942.6 L1573.7,2945.1 L1575.7,2947.5 L1577.7,2950.0 L1579.7,2953.4 L1581.7,2957.0 L1583.7,2960.2 L1585.7,2963.4 L1587.7,2965.9 L1589.7,2968.2 L1591.7,2970.9 L1593.7,2973.4 L1595.7,2976.0 L1597.7,2977.9 L1599.7,2979.2 L1601.7,2980.0 L1603.7,2980.2 L1605.7,2980.7 L1607.7,2981.8 L1609.7,2983.0 L1611.7,2984.5 L1613.7,2985.9 L1615.7,2986.5 L1617.7,2987.2 L1619.7,2987.7 L1621.7,2988.8 L1623.7,2990.8 L1625.7,2992.6 L1627.7,2994.4 L1629.7,2995.9 L1631.7,2996.3 L1633.7,2996.9 L1635.7,2997.4 L1637.7,2997.4 L1639.7,2997.7 L1641.7,2998.2 L1643.7,2998.8 L1645.7,2999.5 L1647.7,3000.0 L1649.7,2999.8 L1651.7,2999.8 L1653.7,3000.2 L1655.7,3000.6 L1657.7,3001.3 L1659.7,3001.4 L1661.7,3001.2 L1663.7,3001.1 L1665.7,3000.8 L1667.7,3000.7 L1669.7,3000.3 L1671.7,3000.0 L1673.7,3000.4 L1675.7,3001.0 L1677.7,3001.9 L1679.7,3002.3 L1681.7,3002.0 L1683.7,3001.0 L1685.7,2999.7 L1687.7,2998.9 L1689.7,2998.0 L1691.7,2997.7 L1693.7,2997.5 L1695.7,2996.6 L1697.7,2995.8 L1699.7,2994.4 L1701.7,2993.4 L1703.7,2992.8 L1705.7,2992.0 L1707.7,2991.3 L1709.7,2990.4 L1711.7,2989.5 L1713.7,2988.9 L1715.7,2988.7 L1717.7,2987.8 L1719.7,2986.9 L1721.7,2986.0 L1723.7,2984.9 L1725.7,2984.5 L1727.7,2983.4 L1729.7,2982.4 L1731.7,2981.7 L1733.7,2980.0 L1735.7,2979.2 L1737.7,2977.6 L1739.7,2974.9 L1741.7,2972.8 L1743.7,2970.5 L1745.7,2968.9 L1747.7,2968.5 L1749.7,2967.9 L1751.7,2967.1 L1753.7,2965.5 L1755.7,2963.5 L1757.7,2961.2 L1759.7,2959.1 L1761.7,2957.4 L1763.7,2956.2 L1765.7,2956.0 L1767.7,2955.8 L1769.7,2955.4 L1771.7,2954.1 L1773.7,2951.9 L1775.7,2949.3 L1777.7,2946.5 L1779.7,2943.9 L1781.7,2941.7 L1783.7,2940.2 L1785.7,2938.8 L1787.7,2937.5 L1789.7,2936.0 L1791.7,2934.5 L1793.7,2933.1 L1795.7,2931.9 L1797.7,2930.4 L1799.7,2928.8 L1801.7,2927.0 L1803.7,2924.7 L1805.7,2922.8 L1807.7,2920.7 L1809.7,2918.3 L1811.7,2916.7 L1813.7,2915.0 L1815.7,2913.4 L1817.7,2912.0 L1819.7,2910.1 L1821.7,2908.5 L1823.7,2906.5 L1825.7,2904.7 L1827.7,2902.9 L1829.7,2900.7 L1831.7,2898.7 L1833.7,2896.8 L1835.7,2895.1 L1837.7,2893.2 L1839.7,2890.9 L1841.7,2888.2 L1843.7,2885.6 L1845.7,2883.9 L1847.7,2883.0 L1849.7,2882.2 L1851.7,2880.8 L1853.7,2878.4 L1855.7,2875.3 L1857.7,2872.1 L1859.7,2870.1 L1861.7,2868.2 L1863.7,2866.4 L1865.7,2864.6 L1867.7,2862.3 L1869.7,2860.0 L1871.7,2857.8 L1873.7,2856.0 L1875.7,2853.9 L1877.7,2852.0 L1879.7,2850.2 L1881.7,2848.8 L1883.7,2848.0 L1885.7,2846.8 L1887.7,2845.4 L1889.7,2843.1 L1891.7,2840.0 L1893.7,2837.0 L1895.7,2833.7 L1897.7,2830.6 L1899.7,2828.2 L1901.7,2825.8 L1903.7,2823.9 L1905.7,2822.1 L1907.7,2820.0 L1909.7,2818.1 L1911.7,2815.9 L1913.7,2814.2 L1915.7,2812.8 L1917.7,2811.6 L1919.7,2810.1 L1921.7,2808.0 L1923.7,2806.5 L1925.7,2804.8 L1927.7,2803.6 L1929.7,2802.4 L1931.7,2800.1 L1933.7,2797.2 L1935.7,2793.8 L1937.7,2791.0 L1939.7,2789.0 L1941.7,2787.8 L1943.7,2787.6 L1945.7,2786.7 L1947.7,2785.7 L1949.7,2784.1 L1951.7,2781.8 L1953.7,2780.4 L1955.7,2778.7 L1957.7,2777.9 L1959.7,2777.3 L1961.7,2776.0 L1963.7,2774.3 L1965.7,2771.7 L1967.7,2768.9 L1969.7,2766.0 L1971.7,2763.8 L1973.7,2762.0 L1975.7,2760.5 L1977.7,2759.4 L1979.7,2758.1 L1981.7,2756.4 L1983.7,2754.3 L1985.7,2752.7 L1987.7,2751.1 L1989.7,2750.5 L1991.7,2750.2 L1993.7,2749.4 L1995.7,2748.4 L1997.7,2747.0 L1999.7,2745.8 L2001.7,2744.5 L2003.7,2743.4 L2005.7,2741.7 L2007.7,2739.7 L2009.7,2738.3 L2011.7,2736.9 L2013.7,2736.2 L2015.7,2735.6 L2017.7,2734.5 L2019.7,2733.1 L2021.7,2731.5 L2023.7,2729.5 L2025.7,2728.3 L2027.7,2727.6 L2029.7,2726.6 L2031.7,2726.4 L2033.7,2725.3 L2035.7,2724.3 L2037.7,2723.8 L2039.7,2723.0 L2041.7,2722.6 L2043.7,2721.2 L2045.7,2719.3 L2047.7,2716.5 L2049.7,2714.1 L2051.7,2713.1 L2053.7,2712.7 L2055.7,2713.1 L2057.7,2713.3 L2059.7,2712.4 L2061.7,2711.2 L2063.7,2710.3 L2065.7,2709.2 L2067.7,2708.1 L2069.7,2707.3 L2071.7,2705.8 L2073.7,2704.4 L2075.7,2703.4 L2077.7,2702.4 L2079.7,2702.0 L2081.7,2702.4 L2083.7,2702.4 L2085.7,2701.8 L2087.7,2700.4 L2089.7,2698.2 L2091.7,2696.2 L2093.7,2694.7 L2095.7,2693.4 L2097.7,2692.1 L2099.7,2690.9 L2101.7,2690.2 L2103.7,2689.8 L2105.7,2689.9 L2107.7,2689.9 L2109.7,2689.1 L2111.7,2688.5 L2113.7,2687.6 L2115.7,2686.5 L2117.7,2686.1 L2119.7,2685.7 L2121.7,2685.0 L2123.7,2684.9 L2125.7,2683.9 L2127.7,2683.1 L2129.7,2682.5 L2131.7,2681.8 L2133.7,2681.8 L2135.7,2681.9 L2137.7,2682.0 L2139.7,2682.4 L2141.7,2682.3 L2143.7,2682.4 L2145.7,2682.4" fill="none" stroke="#74062e" stroke-width="6.2" stroke-linejoin="round"/>
<path d="M337.6,2639.0 L339.6,2637.8 L341.6,2636.8 L343.6,2635.8 L345.6,2633.5 L347.6,2632.8 L349.6,2632.2 L351.6,2631.5 L353.6,2630.8 L355.6,2630.4 L357.6,2630.4 L359.6,2630.9 L361.6,2631.0 L363.6,2630.7 L365.6,2629.6 L367.6,2628.4 L369.6,2627.3 L371.6,2626.4 L373.6,2626.4 L375.6,2626.2 L377.6,2626.5 L379.6,2627.0 L381.6,2627.1 L383.6,2627.0 L385.6,2626.7 L387.6,2626.4 L389.6,2626.3 L391.6,2626.4 L393.6,2626.9 L395.6,2627.3 L397.6,2627.6 L399.6,2627.5 L401.6,2626.4 L403.6,2625.5 L405.6,2624.5 L407.6,2624.1 L409.6,2624.9 L411.6,2625.4 L413.6,2626.4 L415.6,2626.7 L417.6,2626.4 L419.6,2626.3 L421.6,2625.8 L423.6,2625.4 L425.6,2625.5 L427.6,2625.2 L429.6,2625.1 L431.6,2625.4 L433.6,2625.5 L435.6,2626.5 L437.6,2627.6 L439.6,2628.4 L441.6,2628.7 L443.6,2628.4 L445.6,2627.3 L447.6,2625.7 L449.6,2624.3 L451.6,2623.0 L453.6,2622.6 L455.6,2622.7 L457.6,2623.5 L459.6,2624.0 L461.6,2623.7 L463.6,2623.4 L465.6,2621.9 L467.6,2620.9 L469.6,2620.5 L471.6,2619.7 L473.6,2619.8 L475.6,2619.6 L477.6,2619.1 L479.6,2619.0 L481.6,2618.6 L483.6,2618.4 L485.6,2618.0 L487.6,2617.1 L489.6,2616.3 L491.6,2615.1 L493.6,2614.2 L495.6,2613.9 L497.6,2613.2 L499.6,2613.2 L501.6,2613.3 L503.6,2613.0 L505.6,2613.2 L507.6,2612.6 L509.6,2611.5 L511.6,2610.6 L513.6,2609.7 L515.6,2609.8 L517.6,2610.5 L519.6,2611.4 L521.6,2612.4 L523.6,2613.3 L525.6,2614.0 L527.6,2614.7 L529.6,2615.8 L531.6,2616.7 L533.6,2617.7 L535.6,2618.8 L537.6,2619.2 L539.6,2619.7 L541.6,2620.5 L543.6,2621.1 L545.6,2621.8 L547.6,2622.3 L549.6,2622.5 L551.6,2622.8 L553.6,2623.4 L555.6,2623.7 L557.6,2624.1 L559.6,2624.4 L561.6,2624.6 L563.6,2625.2 L565.6,2625.6 L567.6,2625.9 L569.6,2626.3 L571.6,2626.1 L573.6,2625.9 L575.6,2625.7 L577.6,2624.8 L579.6,2624.2 L581.6,2623.6 L583.6,2623.1 L585.6,2623.4 L587.6,2623.4 L589.6,2623.3 L591.6,2622.9 L593.6,2622.5 L595.6,2622.5 L597.6,2622.6 L599.6,2622.9 L601.6,2622.5 L603.6,2621.6 L605.6,2620.8 L607.6,2619.8 L609.6,2618.9 L611.6,2618.2 L613.6,2617.1 L615.6,2616.3 L617.6,2616.1 L619.6,2616.1 L621.6,2616.3 L623.6,2616.5 L625.6,2615.9 L627.6,2615.5 L629.6,2615.0 L631.6,2614.2 L633.6,2613.8 L635.6,2612.9 L637.6,2611.9 L639.6,2611.3 L641.6,2610.3 L643.6,2609.9 L645.6,2609.4 L647.6,2608.9 L649.6,2608.5 L651.6,2608.0 L653.6,2607.6 L655.6,2607.2 L657.6,2606.4 L659.6,2606.1 L661.6,2605.9 L663.6,2605.4 L665.6,2605.8 L667.6,2605.1 L669.6,2604.4 L671.6,2604.4 L673.6,2603.5 L675.6,2603.5 L677.6,2603.2 L679.6,2602.4 L681.6,2601.8 L683.6,2600.9 L685.6,2600.4 L687.6,2600.2 L689.6,2600.5 L691.6,2601.6 L693.6,2602.7 L695.6,2603.4 L697.6,2603.6 L699.6,2602.7 L701.6,2601.4 L703.6,2600.3 L705.6,2599.4 L707.6,2599.7 L709.6,2600.3 L711.6,2601.1 L713.6,2601.6 L715.6,2601.5 L717.6,2601.5 L719.6,2601.6 L721.6,2602.2 L723.6,2603.4 L725.6,2604.5 L727.6,2605.5 L729.6,2606.4 L731.6,2606.6 L733.6,2606.5 L735.6,2606.5 L737.6,2606.7 L739.6,2607.5 L741.6,2608.7 L743.6,2610.1 L745.6,2611.3 L747.6,2612.3 L749.6,2612.8 L751.6,2612.8 L753.6,2613.2 L755.6,2613.6 L757.6,2614.7 L759.6,2616.2 L761.6,2617.0 L763.6,2618.2 L765.6,2618.6 L767.6,2619.1 L769.6,2619.8 L771.6,2620.0 L773.6,2620.4 L775.6,2620.5 L777.6,2620.9 L779.6,2621.6 L781.6,2622.6 L783.6,2623.5 L785.6,2623.6 L787.6,2623.8 L789.6,2623.2 L791.6,2623.6 L793.6,2624.3 L795.6,2624.6 L797.6,2625.3 L799.6,2625.6 L801.6,2625.6 L803.6,2625.8 L805.6,2625.6 L807.6,2624.6 L809.6,2623.4 L811.6,2621.9 L813.6,2621.0 L815.6,2620.6 L817.6,2620.7 L819.6,2621.1 L821.6,2620.8 L823.6,2620.2 L825.6,2619.4 L827.6,2618.4 L829.6,2617.1 L831.6,2616.0 L833.6,2613.9 L835.6,2611.5 L837.6,2609.3 L839.6,2606.5 L841.6,2604.9 L843.6,2603.5 L845.6,2602.0 L847.6,2601.5 L849.6,2600.9 L851.6,2600.3 L853.6,2600.3 L855.6,2599.2 L857.6,2598.1 L859.6,2596.9 L861.6,2595.4 L863.6,2594.3 L865.6,2593.1 L867.6,2591.8 L869.6,2590.0 L871.6,2588.9 L873.6,2587.4 L875.6,2586.3 L877.6,2585.9 L879.6,2585.1 L881.6,2584.7 L883.6,2583.9 L885.6,2582.4 L887.6,2580.9 L889.6,2579.1 L891.6,2577.3 L893.6,2576.2 L895.6,2575.3 L897.6,2574.5 L899.6,2574.0 L901.6,2573.6 L903.6,2573.0 L905.6,2572.5 L907.6,2571.5 L909.6,2569.9 L911.6,2568.7 L913.6,2567.2 L915.6,2565.8 L917.6,2564.2 L919.6,2561.7 L921.6,2559.3 L923.6,2557.2 L925.6,2555.5 L927.6,2554.7 L929.6,2554.5 L931.6,2553.8 L933.6,2553.1 L935.6,2551.6 L937.6,2549.8 L939.6,2548.2 L941.6,2546.5 L943.6,2545.3 L945.6,2543.8 L947.6,2542.2 L949.6,2541.3 L951.6,2540.3 L953.6,2539.5 L955.6,2538.7 L957.6,2537.0 L959.6,2535.2 L961.6,2532.9 L963.6,2530.8 L965.6,2528.7 L967.6,2526.7 L969.6,2525.3 L971.6,2524.0 L973.6,2523.3 L975.6,2522.8 L977.6,2522.5 L979.6,2521.4 L981.6,2519.4 L983.6,2517.1 L985.6,2514.4 L987.6,2512.5 L989.6,2511.6 L991.6,2511.1 L993.6,2510.2 L995.6,2509.0 L997.6,2507.6 L999.6,2505.7 L1001.6,2504.1 L1003.6,2502.4 L1005.6,2500.0 L1007.6,2498.1 L1009.6,2496.5 L1011.6,2495.1 L1013.6,2493.7 L1015.6,2492.3 L1017.6,2491.1 L1019.6,2490.1 L1021.6,2489.5 L1023.6,2488.7 L1025.6,2486.7 L1027.6,2484.4 L1029.6,2482.2 L1031.6,2479.9 L1033.6,2478.9 L1035.6,2478.1 L1037.6,2477.2 L1039.6,2476.8 L1041.6,2475.7 L1043.6,2474.4 L1045.6,2472.5 L1047.6,2470.4 L1049.6,2468.3 L1051.6,2466.8 L1053.6,2466.3 L1055.6,2465.7 L1057.6,2465.1 L1059.6,2464.2 L1061.6,2462.5 L1063.6,2461.2 L1065.6,2459.9 L1067.6,2458.8 L1069.6,2458.0 L1071.6,2457.1 L1073.6,2456.3 L1075.6,2455.4 L1077.6,2454.3 L1079.6,2453.0 L1081.6,2451.6 L1083.6,2450.0 L1085.6,2449.0 L1087.6,2447.8 L1089.6,2446.6 L1091.6,2445.4 L1093.6,2443.6 L1095.6,2442.0 L1097.6,2440.7 L1099.6,2439.7 L1101.6,2438.6 L1103.6,2437.9 L1105.6,2437.1 L1107.6,2436.4 L1109.6,2436.0 L1111.6,2435.5 L1113.6,2434.9 L1115.6,2433.8 L1117.6,2432.6 L1119.6,2431.4 L1121.6,2430.5 L1123.6,2430.9 L1125.6,2431.3 L1127.6,2431.8 L1129.6,2431.7 L1131.6,2430.4 L1133.6,2429.0 L1135.6,2427.7 L1137.6,2426.8 L1139.6,2426.2 L1141.6,2425.6 L1143.6,2424.9 L1145.6,2424.3 L1147.6,2423.5 L1149.6,2422.3 L1151.6,2420.7 L1153.6,2418.7 L1155.6,2417.0 L1157.6,2415.9 L1159.6,2415.4 L1161.6,2415.3 L1163.6,2414.8 L1165.6,2414.0 L1167.6,2412.8 L1169.6,2411.2 L1171.6,2410.1 L1173.6,2409.1 L1175.6,2408.2 L1177.6,2407.4 L1179.6,2406.0 L1181.6,2404.6 L1183.6,2403.6 L1185.6,2402.9 L1187.6,2402.9 L1189.6,2403.5 L1191.6,2404.2 L1193.6,2404.8 L1195.6,2404.5 L1197.6,2404.2 L1199.6,2403.4 L1201.6,2402.4 L1203.6,2401.9 L1205.6,2401.3 L1207.6,2401.1 L1209.6,2401.2 L1211.6,2402.1 L1213.6,2403.0 L1215.6,2403.9 L1217.6,2404.6 L1219.6,2404.1 L1221.6,2403.9 L1223.6,2403.1 L1225.6,2402.5 L1227.6,2402.6 L1229.6,2402.7 L1231.6,2403.2 L1233.6,2403.7 L1235.6,2404.2 L1237.6,2404.4 L1239.6,2404.4 L1241.6,2404.9 L1243.6,2404.9 L1245.6,2405.0 L1247.6,2405.2 L1249.6,2404.7 L1251.6,2404.4 L1253.6,2404.7 L1255.6,2405.0 L1257.6,2406.0 L1259.6,2407.0 L1261.6,2407.2 L1263.6,2407.8 L1265.6,2408.4 L1267.6,2409.1 L1269.6,2410.4 L1271.6,2411.0 L1273.6,2411.1 L1275.6,2411.0 L1277.6,2410.8 L1279.6,2411.2 L1281.6,2412.1 L1283.6,2413.3 L1285.6,2414.8 L1287.6,2415.9 L1289.6,2416.6 L1291.6,2416.9 L1293.6,2417.2 L1295.6,2418.2 L1297.6,2419.5 L1299.6,2421.1 L1301.6,2422.1 L1303.6,2422.9 L1305.6,2423.7 L1307.6,2424.2 L1309.6,2425.5 L1311.6,2426.8 L1313.6,2427.7 L1315.6,2429.3 L1317.6,2430.6 L1319.6,2431.4 L1321.6,2433.2 L1323.6,2434.1 L1325.6,2435.1 L1327.6,2436.9 L1329.6,2437.7 L1331.6,2439.1 L1333.6,2440.5 L1335.6,2441.5 L1337.6,2443.5 L1339.6,2444.9 L1341.6,2446.8 L1343.6,2448.6 L1345.6,2450.4 L1347.6,2452.3 L1349.6,2453.8 L1351.6,2455.6 L1353.6,2457.0 L1355.6,2458.4 L1357.6,2460.5 L1359.6,2462.5 L1361.6,2465.3 L1363.6,2468.5 L1365.6,2471.1 L1367.6,2473.5 L1369.6,2475.2 L1371.6,2476.9 L1373.6,2479.1 L1375.6,2481.8 L1377.6,2485.3 L1379.6,2488.6 L1381.6,2491.5 L1383.6,2494.5 L1385.6,2497.6 L1387.6,2501.4 L1389.6,2505.6 L1391.6,2509.9 L1393.6,2513.8 L1395.6,2517.5 L1397.6,2521.5 L1399.6,2525.2 L1401.6,2529.2 L1403.6,2533.2 L1405.6,2537.6 L1407.6,2542.8 L1409.6,2548.1 L1411.6,2553.5 L1413.6,2558.4 L1415.6,2562.6 L1417.6,2567.2 L1419.6,2572.3 L1421.6,2577.9 L1423.6,2584.2 L1425.6,2590.4 L1427.6,2596.2 L1429.6,2601.8 L1431.6,2606.8 L1433.6,2611.8 L1435.6,2616.9 L1437.6,2622.8 L1439.6,2629.4 L1441.6,2636.3 L1443.6,2643.6 L1445.6,2650.1 L1447.6,2656.4 L1449.6,2662.9 L1451.6,2669.2 L1453.6,2676.1 L1455.6,2683.6 L1457.6,2690.5 L1459.6,2697.9 L1461.6,2705.3 L1463.6,2712.0 L1465.6,2719.2 L1467.6,2726.4 L1469.6,2733.2 L1471.6,2740.4 L1473.6,2747.5 L1475.6,2754.3 L1477.6,2761.8 L1479.6,2769.5 L1481.6,2777.2 L1483.6,2784.6 L1485.6,2791.4 L1487.6,2797.9 L1489.6,2804.5 L1491.6,2811.7 L1493.6,2819.0 L1495.6,2826.5 L1497.6,2834.1 L1499.6,2841.6 L1501.6,2848.7 L1503.6,2855.5 L1505.6,2862.4 L1507.6,2869.3 L1509.6,2877.2 L1511.6,2885.4 L1513.6,2893.4 L1515.6,2901.0 L1517.6,2907.0 L1519.6,2912.8 L1521.6,2918.0 L1523.6,2923.3 L1525.6,2929.6 L1527.6,2935.7 L1529.6,2941.9 L1531.6,2947.9 L1533.6,2953.0 L1535.6,2957.9 L1537.6,2962.8 L1539.6,2967.0 L1541.6,2971.2 L1543.6,2975.6 L1545.6,2979.4 L1547.6,2984.1 L1549.6,2988.3 L1551.6,2992.2 L1553.6,2996.0 L1555.6,2999.3 L1557.6,3002.7 L1559.6,3006.1 L1561.6,3009.5 L1563.6,3012.9 L1565.6,3016.3 L1567.6,3019.6 L1569.6,3022.7 L1571.6,3025.6 L1573.6,3028.0 L1575.6,3029.8 L1577.6,3031.3 L1579.6,3032.7 L1581.6,3034.4 L1583.6,3036.3 L1585.6,3038.4 L1587.6,3040.1 L1589.6,3041.6 L1591.6,3043.1 L1593.6,3044.5 L1595.6,3046.2 L1597.6,3047.4 L1599.6,3048.6 L1601.6,3049.9 L1603.6,3051.3 L1605.6,3053.0 L1607.6,3054.6 L1609.6,3055.5 L1611.6,3056.2 L1613.6,3057.2 L1615.6,3058.1 L1617.6,3059.4 L1619.6,3060.4 L1621.6,3060.6 L1623.6,3060.9 L1625.6,3061.3 L1627.6,3062.0 L1629.6,3062.9 L1631.6,3064.1 L1633.6,3065.3 L1635.6,3066.3 L1637.6,3067.7 L1639.6,3069.0 L1641.6,3070.1 L1643.6,3070.8 L1645.6,3071.5 L1647.6,3071.2 L1649.6,3071.0 L1651.6,3071.0 L1653.6,3070.8 L1655.6,3071.1 L1657.6,3071.4 L1659.6,3072.1 L1661.6,3072.7 L1663.6,3073.3 L1665.6,3073.8 L1667.6,3073.5 L1669.6,3073.2 L1671.6,3072.9 L1673.6,3072.4 L1675.6,3072.7 L1677.6,3073.6 L1679.6,3074.3 L1681.6,3075.1 L1683.6,3075.4 L1685.6,3074.6 L1687.6,3073.5 L1689.6,3072.5 L1691.6,3071.4 L1693.6,3069.9 L1695.6,3069.0 L1697.6,3067.5 L1699.6,3066.3 L1701.6,3066.0 L1703.6,3065.9 L1705.6,3066.1 L1707.6,3066.1 L1709.6,3065.3 L1711.6,3064.1 L1713.6,3063.0 L1715.6,3061.9 L1717.6,3061.1 L1719.6,3060.1 L1721.6,3058.9 L1723.6,3057.8 L1725.6,3056.8 L1727.6,3056.2 L1729.6,3055.3 L1731.6,3054.3 L1733.6,3053.2 L1735.6,3051.8 L1737.6,3050.4 L1739.6,3049.3 L1741.6,3048.3 L1743.6,3047.8 L1745.6,3047.5 L1747.6,3046.7 L1749.6,3045.9 L1751.6,3044.5 L1753.6,3043.2 L1755.6,3042.0 L1757.6,3040.7 L1759.6,3039.5 L1761.6,3038.0 L1763.6,3036.4 L1765.6,3035.0 L1767.6,3033.6 L1769.6,3032.2 L1771.6,3030.8 L1773.6,3029.4 L1775.6,3027.6 L1777.6,3026.6 L1779.6,3025.5 L1781.6,3024.0 L1783.6,3022.8 L1785.6,3020.8 L1787.6,3018.7 L1789.6,3016.8 L1791.6,3015.3 L1793.6,3013.6 L1795.6,3012.0 L1797.6,3010.4 L1799.6,3008.2 L1801.6,3006.7 L1803.6,3005.4 L1805.6,3004.5 L1807.6,3003.6 L1809.6,3002.3 L1811.6,3000.7 L1813.6,2999.0 L1815.6,2997.4 L1817.6,2995.6 L1819.6,2993.8 L1821.6,2991.8 L1823.6,2989.3 L1825.6,2987.5 L1827.6,2985.9 L1829.6,2984.0 L1831.6,2982.7 L1833.6,2981.5 L1835.6,2979.9 L1837.6,2979.1 L1839.6,2977.5 L1841.6,2975.2 L1843.6,2973.2 L1845.6,2970.6 L1847.6,2968.5 L1849.6,2967.1 L1851.6,2965.2 L1853.6,2963.3 L1855.6,2961.3 L1857.6,2959.0 L1859.6,2957.3 L1861.6,2956.0 L1863.6,2954.8 L1865.6,2953.5 L1867.6,2951.8 L1869.6,2949.4 L1871.6,2947.1 L1873.6,2945.1 L1875.6,2943.1 L1877.6,2941.8 L1879.6,2940.7 L1881.6,2939.5 L1883.6,2938.1 L1885.6,2936.3 L1887.6,2934.1 L1889.6,2931.9 L1891.6,2929.6 L1893.6,2927.8 L1895.6,2926.5 L1897.6,2925.3 L1899.6,2924.2 L1901.6,2922.3 L1903.6,2920.2 L1905.6,2918.1 L1907.6,2916.0 L1909.6,2914.5 L1911.6,2913.0 L1913.6,2911.4 L1915.6,2910.0 L1917.6,2908.0 L1919.6,2906.3 L1921.6,2904.6 L1923.6,2902.6 L1925.6,2901.0 L1927.6,2898.9 L1929.6,2897.0 L1931.6,2895.3 L1933.6,2893.3 L1935.6,2892.1 L1937.6,2890.2 L1939.6,2888.8 L1941.6,2887.8 L1943.6,2886.4 L1945.6,2885.7 L1947.6,2884.5 L1949.6,2882.5 L1951.6,2880.7 L1953.6,2878.6 L1955.6,2877.0 L1957.6,2876.4 L1959.6,2875.3 L1961.6,2874.3 L1963.6,2873.3 L1965.6,2871.3 L1967.6,2869.7 L1969.6,2868.0 L1971.6,2866.6 L1973.6,2865.6 L1975.6,2864.3 L1977.6,2862.9 L1979.6,2861.1 L1981.6,2859.0 L1983.6,2857.6 L1985.6,2857.1 L1987.6,2856.3 L1989.6,2855.9 L1991.6,2855.2 L1993.6,2853.9 L1995.6,2853.4 L1997.6,2852.5 L1999.6,2851.5 L2001.6,2850.5 L2003.6,2849.1 L2005.6,2847.8 L2007.6,2846.3 L2009.6,2845.4 L2011.6,2844.5 L2013.6,2843.9 L2015.6,2843.7 L2017.6,2843.0 L2019.6,2842.0 L2021.6,2840.4 L2023.6,2838.5 L2025.6,2836.9 L2027.6,2835.4 L2029.6,2834.9 L2031.6,2834.0 L2033.6,2833.1 L2035.6,2832.2 L2037.6,2830.7 L2039.6,2829.8 L2041.6,2829.1 L2043.6,2828.4 L2045.6,2827.5 L2047.6,2826.2 L2049.6,2825.0 L2051.6,2824.1 L2053.6,2823.9 L2055.6,2824.0 L2057.6,2824.1 L2059.6,2823.7 L2061.6,2822.5 L2063.6,2821.2 L2065.6,2819.3 L2067.6,2818.0 L2069.6,2817.4 L2071.6,2816.9 L2073.6,2817.0 L2075.6,2816.6 L2077.6,2816.1 L2079.6,2815.1 L2081.6,2813.5 L2083.6,2812.5 L2085.6,2811.8 L2087.6,2811.9 L2089.6,2812.4 L2091.6,2812.5 L2093.6,2812.4 L2095.6,2811.6 L2097.6,2810.2 L2099.6,2809.0 L2101.6,2807.4 L2103.6,2806.4 L2105.6,2806.2 L2107.6,2806.0 L2109.6,2806.1 L2111.6,2805.7 L2113.6,2805.0 L2115.6,2804.0 L2117.6,2803.2 L2119.6,2802.7 L2121.6,2802.0 L2123.6,2801.8 L2125.6,2801.4 L2127.6,2800.7 L2129.6,2800.5 L2131.6,2799.8 L2133.6,2799.5 L2135.6,2799.6 L2137.6,2799.3 L2139.6,2798.1 L2141.6,2797.6 L2143.6,2797.2 L2145.6,2796.8" fill="none" stroke="#b00606" stroke-opacity="0.3" stroke-width="11.5" stroke-linejoin="round"/>
<path d="M337.6,2639.0 L339.6,2637.8 L341.6,2636.8 L343.6,2635.8 L345.6,2633.5 L347.6,2632.8 L349.6,2632.2 L351.6,2631.5 L353.6,2630.8 L355.6,2630.4 L357.6,2630.4 L359.6,2630.9 L361.6,2631.0 L363.6,2630.7 L365.6,2629.6 L367.6,2628.4 L369.6,2627.3 L371.6,2626.4 L373.6,2626.4 L375.6,2626.2 L377.6,2626.5 L379.6,2627.0 L381.6,2627.1 L383.6,2627.0 L385.6,2626.7 L387.6,2626.4 L389.6,2626.3 L391.6,2626.4 L393.6,2626.9 L395.6,2627.3 L397.6,2627.6 L399.6,2627.5 L401.6,2626.4 L403.6,2625.5 L405.6,2624.5 L407.6,2624.1 L409.6,2624.9 L411.6,2625.4 L413.6,2626.4 L415.6,2626.7 L417.6,2626.4 L419.6,2626.3 L421.6,2625.8 L423.6,2625.4 L425.6,2625.5 L427.6,2625.2 L429.6,2625.1 L431.6,2625.4 L433.6,2625.5 L435.6,2626.5 L437.6,2627.6 L439.6,2628.4 L441.6,2628.7 L443.6,2628.4 L445.6,2627.3 L447.6,2625.7 L449.6,2624.3 L451.6,2623.0 L453.6,2622.6 L455.6,2622.7 L457.6,2623.5 L459.6,2624.0 L461.6,2623.7 L463.6,2623.4 L465.6,2621.9 L467.6,2620.9 L469.6,2620.5 L471.6,2619.7 L473.6,2619.8 L475.6,2619.6 L477.6,2619.1 L479.6,2619.0 L481.6,2618.6 L483.6,2618.4 L485.6,2618.0 L487.6,2617.1 L489.6,2616.3 L491.6,2615.1 L493.6,2614.2 L495.6,2613.9 L497.6,2613.2 L499.6,2613.2 L501.6,2613.3 L503.6,2613.0 L505.6,2613.2 L507.6,2612.6 L509.6,2611.5 L511.6,2610.6 L513.6,2609.7 L515.6,2609.8 L517.6,2610.5 L519.6,2611.4 L521.6,2612.4 L523.6,2613.3 L525.6,2614.0 L527.6,2614.7 L529.6,2615.8 L531.6,2616.7 L533.6,2617.7 L535.6,2618.8 L537.6,2619.2 L539.6,2619.7 L541.6,2620.5 L543.6,2621.1 L545.6,2621.8 L547.6,2622.3 L549.6,2622.5 L551.6,2622.8 L553.6,2623.4 L555.6,2623.7 L557.6,2624.1 L559.6,2624.4 L561.6,2624.6 L563.6,2625.2 L565.6,2625.6 L567.6,2625.9 L569.6,2626.3 L571.6,2626.1 L573.6,2625.9 L575.6,2625.7 L577.6,2624.8 L579.6,2624.2 L581.6,2623.6 L583.6,2623.1 L585.6,2623.4 L587.6,2623.4 L589.6,2623.3 L591.6,2622.9 L593.6,2622.5 L595.6,2622.5 L597.6,2622.6 L599.6,2622.9 L601.6,2622.5 L603.6,2621.6 L605.6,2620.8 L607.6,2619.8 L609.6,2618.9 L611.6,2618.2 L613.6,2617.1 L615.6,2616.3 L617.6,2616.1 L619.6,2616.1 L621.6,2616.3 L623.6,2616.5 L625.6,2615.9 L627.6,2615.5 L629.6,2615.0 L631.6,2614.2 L633.6,2613.8 L635.6,2612.9 L637.6,2611.9 L639.6,2611.3 L641.6,2610.3 L643.6,2609.9 L645.6,2609.4 L647.6,2608.9 L649.6,2608.5 L651.6,2608.0 L653.6,2607.6 L655.6,2607.2 L657.6,2606.4 L659.6,2606.1 L661.6,2605.9 L663.6,2605.4 L665.6,2605.8 L667.6,2605.1 L669.6,2604.4 L671.6,2604.4 L673.6,2603.5 L675.6,2603.5 L677.6,2603.2 L679.6,2602.4 L681.6,2601.8 L683.6,2600.9 L685.6,2600.4 L687.6,2600.2 L689.6,2600.5 L691.6,2601.6 L693.6,2602.7 L695.6,2603.4 L697.6,2603.6 L699.6,2602.7 L701.6,2601.4 L703.6,2600.3 L705.6,2599.4 L707.6,2599.7 L709.6,2600.3 L711.6,2601.1 L713.6,2601.6 L715.6,2601.5 L717.6,2601.5 L719.6,2601.6 L721.6,2602.2 L723.6,2603.4 L725.6,2604.5 L727.6,2605.5 L729.6,2606.4 L731.6,2606.6 L733.6,2606.5 L735.6,2606.5 L737.6,2606.7 L739.6,2607.5 L741.6,2608.7 L743.6,2610.1 L745.6,2611.3 L747.6,2612.3 L749.6,2612.8 L751.6,2612.8 L753.6,2613.2 L755.6,2613.6 L757.6,2614.7 L759.6,2616.2 L761.6,2617.0 L763.6,2618.2 L765.6,2618.6 L767.6,2619.1 L769.6,2619.8 L771.6,2620.0 L773.6,2620.4 L775.6,2620.5 L777.6,2620.9 L779.6,2621.6 L781.6,2622.6 L783.6,2623.5 L785.6,2623.6 L787.6,2623.8 L789.6,2623.2 L791.6,2623.6 L793.6,2624.3 L795.6,2624.6 L797.6,2625.3 L799.6,2625.6 L801.6,2625.6 L803.6,2625.8 L805.6,2625.6 L807.6,2624.6 L809.6,2623.4 L811.6,2621.9 L813.6,2621.0 L815.6,2620.6 L817.6,2620.7 L819.6,2621.1 L821.6,2620.8 L823.6,2620.2 L825.6,2619.4 L827.6,2618.4 L829.6,2617.1 L831.6,2616.0 L833.6,2613.9 L835.6,2611.5 L837.6,2609.3 L839.6,2606.5 L841.6,2604.9 L843.6,2603.5 L845.6,2602.0 L847.6,2601.5 L849.6,2600.9 L851.6,2600.3 L853.6,2600.3 L855.6,2599.2 L857.6,2598.1 L859.6,2596.9 L861.6,2595.4 L863.6,2594.3 L865.6,2593.1 L867.6,2591.8 L869.6,2590.0 L871.6,2588.9 L873.6,2587.4 L875.6,2586.3 L877.6,2585.9 L879.6,2585.1 L881.6,2584.7 L883.6,2583.9 L885.6,2582.4 L887.6,2580.9 L889.6,2579.1 L891.6,2577.3 L893.6,2576.2 L895.6,2575.3 L897.6,2574.5 L899.6,2574.0 L901.6,2573.6 L903.6,2573.0 L905.6,2572.5 L907.6,2571.5 L909.6,2569.9 L911.6,2568.7 L913.6,2567.2 L915.6,2565.8 L917.6,2564.2 L919.6,2561.7 L921.6,2559.3 L923.6,2557.2 L925.6,2555.5 L927.6,2554.7 L929.6,2554.5 L931.6,2553.8 L933.6,2553.1 L935.6,2551.6 L937.6,2549.8 L939.6,2548.2 L941.6,2546.5 L943.6,2545.3 L945.6,2543.8 L947.6,2542.2 L949.6,2541.3 L951.6,2540.3 L953.6,2539.5 L955.6,2538.7 L957.6,2537.0 L959.6,2535.2 L961.6,2532.9 L963.6,2530.8 L965.6,2528.7 L967.6,2526.7 L969.6,2525.3 L971.6,2524.0 L973.6,2523.3 L975.6,2522.8 L977.6,2522.5 L979.6,2521.4 L981.6,2519.4 L983.6,2517.1 L985.6,2514.4 L987.6,2512.5 L989.6,2511.6 L991.6,2511.1 L993.6,2510.2 L995.6,2509.0 L997.6,2507.6 L999.6,2505.7 L1001.6,2504.1 L1003.6,2502.4 L1005.6,2500.0 L1007.6,2498.1 L1009.6,2496.5 L1011.6,2495.1 L1013.6,2493.7 L1015.6,2492.3 L1017.6,2491.1 L1019.6,2490.1 L1021.6,2489.5 L1023.6,2488.7 L1025.6,2486.7 L1027.6,2484.4 L1029.6,2482.2 L1031.6,2479.9 L1033.6,2478.9 L1035.6,2478.1 L1037.6,2477.2 L1039.6,2476.8 L1041.6,2475.7 L1043.6,2474.4 L1045.6,2472.5 L1047.6,2470.4 L1049.6,2468.3 L1051.6,2466.8 L1053.6,2466.3 L1055.6,2465.7 L1057.6,2465.1 L1059.6,2464.2 L1061.6,2462.5 L1063.6,2461.2 L1065.6,2459.9 L1067.6,2458.8 L1069.6,2458.0 L1071.6,2457.1 L1073.6,2456.3 L1075.6,2455.4 L1077.6,2454.3 L1079.6,2453.0 L1081.6,2451.6 L1083.6,2450.0 L1085.6,2449.0 L1087.6,2447.8 L1089.6,2446.6 L1091.6,2445.4 L1093.6,2443.6 L1095.6,2442.0 L1097.6,2440.7 L1099.6,2439.7 L1101.6,2438.6 L1103.6,2437.9 L1105.6,2437.1 L1107.6,2436.4 L1109.6,2436.0 L1111.6,2435.5 L1113.6,2434.9 L1115.6,2433.8 L1117.6,2432.6 L1119.6,2431.4 L1121.6,2430.5 L1123.6,2430.9 L1125.6,2431.3 L1127.6,2431.8 L1129.6,2431.7 L1131.6,2430.4 L1133.6,2429.0 L1135.6,2427.7 L1137.6,2426.8 L1139.6,2426.2 L1141.6,2425.6 L1143.6,2424.9 L1145.6,2424.3 L1147.6,2423.5 L1149.6,2422.3 L1151.6,2420.7 L1153.6,2418.7 L1155.6,2417.0 L1157.6,2415.9 L1159.6,2415.4 L1161.6,2415.3 L1163.6,2414.8 L1165.6,2414.0 L1167.6,2412.8 L1169.6,2411.2 L1171.6,2410.1 L1173.6,2409.1 L1175.6,2408.2 L1177.6,2407.4 L1179.6,2406.0 L1181.6,2404.6 L1183.6,2403.6 L1185.6,2402.9 L1187.6,2402.9 L1189.6,2403.5 L1191.6,2404.2 L1193.6,2404.8 L1195.6,2404.5 L1197.6,2404.2 L1199.6,2403.4 L1201.6,2402.4 L1203.6,2401.9 L1205.6,2401.3 L1207.6,2401.1 L1209.6,2401.2 L1211.6,2402.1 L1213.6,2403.0 L1215.6,2403.9 L1217.6,2404.6 L1219.6,2404.1 L1221.6,2403.9 L1223.6,2403.1 L1225.6,2402.5 L1227.6,2402.6 L1229.6,2402.7 L1231.6,2403.2 L1233.6,2403.7 L1235.6,2404.2 L1237.6,2404.4 L1239.6,2404.4 L1241.6,2404.9 L1243.6,2404.9 L1245.6,2405.0 L1247.6,2405.2 L1249.6,2404.7 L1251.6,2404.4 L1253.6,2404.7 L1255.6,2405.0 L1257.6,2406.0 L1259.6,2407.0 L1261.6,2407.2 L1263.6,2407.8 L1265.6,2408.4 L1267.6,2409.1 L1269.6,2410.4 L1271.6,2411.0 L1273.6,2411.1 L1275.6,2411.0 L1277.6,2410.8 L1279.6,2411.2 L1281.6,2412.1 L1283.6,2413.3 L1285.6,2414.8 L1287.6,2415.9 L1289.6,2416.6 L1291.6,2416.9 L1293.6,2417.2 L1295.6,2418.2 L1297.6,2419.5 L1299.6,2421.1 L1301.6,2422.1 L1303.6,2422.9 L1305.6,2423.7 L1307.6,2424.2 L1309.6,2425.5 L1311.6,2426.8 L1313.6,2427.7 L1315.6,2429.3 L1317.6,2430.6 L1319.6,2431.4 L1321.6,2433.2 L1323.6,2434.1 L1325.6,2435.1 L1327.6,2436.9 L1329.6,2437.7 L1331.6,2439.1 L1333.6,2440.5 L1335.6,2441.5 L1337.6,2443.5 L1339.6,2444.9 L1341.6,2446.8 L1343.6,2448.6 L1345.6,2450.4 L1347.6,2452.3 L1349.6,2453.8 L1351.6,2455.6 L1353.6,2457.0 L1355.6,2458.4 L1357.6,2460.5 L1359.6,2462.5 L1361.6,2465.3 L1363.6,2468.5 L1365.6,2471.1 L1367.6,2473.5 L1369.6,2475.2 L1371.6,2476.9 L1373.6,2479.1 L1375.6,2481.8 L1377.6,2485.3 L1379.6,2488.6 L1381.6,2491.5 L1383.6,2494.5 L1385.6,2497.6 L1387.6,2501.4 L1389.6,2505.6 L1391.6,2509.9 L1393.6,2513.8 L1395.6,2517.5 L1397.6,2521.5 L1399.6,2525.2 L1401.6,2529.2 L1403.6,2533.2 L1405.6,2537.6 L1407.6,2542.8 L1409.6,2548.1 L1411.6,2553.5 L1413.6,2558.4 L1415.6,2562.6 L1417.6,2567.2 L1419.6,2572.3 L1421.6,2577.9 L1423.6,2584.2 L1425.6,2590.4 L1427.6,2596.2 L1429.6,2601.8 L1431.6,2606.8 L1433.6,2611.8 L1435.6,2616.9 L1437.6,2622.8 L1439.6,2629.4 L1441.6,2636.3 L1443.6,2643.6 L1445.6,2650.1 L1447.6,2656.4 L1449.6,2662.9 L1451.6,2669.2 L1453.6,2676.1 L1455.6,2683.6 L1457.6,2690.5 L1459.6,2697.9 L1461.6,2705.3 L1463.6,2712.0 L1465.6,2719.2 L1467.6,2726.4 L1469.6,2733.2 L1471.6,2740.4 L1473.6,2747.5 L1475.6,2754.3 L1477.6,2761.8 L1479.6,2769.5 L1481.6,2777.2 L1483.6,2784.6 L1485.6,2791.4 L1487.6,2797.9 L1489.6,2804.5 L1491.6,2811.7 L1493.6,2819.0 L1495.6,2826.5 L1497.6,2834.1 L1499.6,2841.6 L1501.6,2848.7 L1503.6,2855.5 L1505.6,2862.4 L1507.6,2869.3 L1509.6,2877.2 L1511.6,2885.4 L1513.6,2893.4 L1515.6,2901.0 L1517.6,2907.0 L1519.6,2912.8 L1521.6,2918.0 L1523.6,2923.3 L1525.6,2929.6 L1527.6,2935.7 L1529.6,2941.9 L1531.6,2947.9 L1533.6,2953.0 L1535.6,2957.9 L1537.6,2962.8 L1539.6,2967.0 L1541.6,2971.2 L1543.6,2975.6 L1545.6,2979.4 L1547.6,2984.1 L1549.6,2988.3 L1551.6,2992.2 L1553.6,2996.0 L1555.6,2999.3 L1557.6,3002.7 L1559.6,3006.1 L1561.6,3009.5 L1563.6,3012.9 L1565.6,3016.3 L1567.6,3019.6 L1569.6,3022.7 L1571.6,3025.6 L1573.6,3028.0 L1575.6,3029.8 L1577.6,3031.3 L1579.6,3032.7 L1581.6,3034.4 L1583.6,3036.3 L1585.6,3038.4 L1587.6,3040.1 L1589.6,3041.6 L1591.6,3043.1 L1593.6,3044.5 L1595.6,3046.2 L1597.6,3047.4 L1599.6,3048.6 L1601.6,3049.9 L1603.6,3051.3 L1605.6,3053.0 L1607.6,3054.6 L1609.6,3055.5 L1611.6,3056.2 L1613.6,3057.2 L1615.6,3058.1 L1617.6,3059.4 L1619.6,3060.4 L1621.6,3060.6 L1623.6,3060.9 L1625.6,3061.3 L1627.6,3062.0 L1629.6,3062.9 L1631.6,3064.1 L1633.6,3065.3 L1635.6,3066.3 L1637.6,3067.7 L1639.6,3069.0 L1641.6,3070.1 L1643.6,3070.8 L1645.6,3071.5 L1647.6,3071.2 L1649.6,3071.0 L1651.6,3071.0 L1653.6,3070.8 L1655.6,3071.1 L1657.6,3071.4 L1659.6,3072.1 L1661.6,3072.7 L1663.6,3073.3 L1665.6,3073.8 L1667.6,3073.5 L1669.6,3073.2 L1671.6,3072.9 L1673.6,3072.4 L1675.6,3072.7 L1677.6,3073.6 L1679.6,3074.3 L1681.6,3075.1 L1683.6,3075.4 L1685.6,3074.6 L1687.6,3073.5 L1689.6,3072.5 L1691.6,3071.4 L1693.6,3069.9 L1695.6,3069.0 L1697.6,3067.5 L1699.6,3066.3 L1701.6,3066.0 L1703.6,3065.9 L1705.6,3066.1 L1707.6,3066.1 L1709.6,3065.3 L1711.6,3064.1 L1713.6,3063.0 L1715.6,3061.9 L1717.6,3061.1 L1719.6,3060.1 L1721.6,3058.9 L1723.6,3057.8 L1725.6,3056.8 L1727.6,3056.2 L1729.6,3055.3 L1731.6,3054.3 L1733.6,3053.2 L1735.6,3051.8 L1737.6,3050.4 L1739.6,3049.3 L1741.6,3048.3 L1743.6,3047.8 L1745.6,3047.5 L1747.6,3046.7 L1749.6,3045.9 L1751.6,3044.5 L1753.6,3043.2 L1755.6,3042.0 L1757.6,3040.7 L1759.6,3039.5 L1761.6,3038.0 L1763.6,3036.4 L1765.6,3035.0 L1767.6,3033.6 L1769.6,3032.2 L1771.6,3030.8 L1773.6,3029.4 L1775.6,3027.6 L1777.6,3026.6 L1779.6,3025.5 L1781.6,3024.0 L1783.6,3022.8 L1785.6,3020.8 L1787.6,3018.7 L1789.6,3016.8 L1791.6,3015.3 L1793.6,3013.6 L1795.6,3012.0 L1797.6,3010.4 L1799.6,3008.2 L1801.6,3006.7 L1803.6,3005.4 L1805.6,3004.5 L1807.6,3003.6 L1809.6,3002.3 L1811.6,3000.7 L1813.6,2999.0 L1815.6,2997.4 L1817.6,2995.6 L1819.6,2993.8 L1821.6,2991.8 L1823.6,2989.3 L1825.6,2987.5 L1827.6,2985.9 L1829.6,2984.0 L1831.6,2982.7 L1833.6,2981.5 L1835.6,2979.9 L1837.6,2979.1 L1839.6,2977.5 L1841.6,2975.2 L1843.6,2973.2 L1845.6,2970.6 L1847.6,2968.5 L1849.6,2967.1 L1851.6,2965.2 L1853.6,2963.3 L1855.6,2961.3 L1857.6,2959.0 L1859.6,2957.3 L1861.6,2956.0 L1863.6,2954.8 L1865.6,2953.5 L1867.6,2951.8 L1869.6,2949.4 L1871.6,2947.1 L1873.6,2945.1 L1875.6,2943.1 L1877.6,2941.8 L1879.6,2940.7 L1881.6,2939.5 L1883.6,2938.1 L1885.6,2936.3 L1887.6,2934.1 L1889.6,2931.9 L1891.6,2929.6 L1893.6,2927.8 L1895.6,2926.5 L1897.6,2925.3 L1899.6,2924.2 L1901.6,2922.3 L1903.6,2920.2 L1905.6,2918.1 L1907.6,2916.0 L1909.6,2914.5 L1911.6,2913.0 L1913.6,2911.4 L1915.6,2910.0 L1917.6,2908.0 L1919.6,2906.3 L1921.6,2904.6 L1923.6,2902.6 L1925.6,2901.0 L1927.6,2898.9 L1929.6,2897.0 L1931.6,2895.3 L1933.6,2893.3 L1935.6,2892.1 L1937.6,2890.2 L1939.6,2888.8 L1941.6,2887.8 L1943.6,2886.4 L1945.6,2885.7 L1947.6,2884.5 L1949.6,2882.5 L1951.6,2880.7 L1953.6,2878.6 L1955.6,2877.0 L1957.6,2876.4 L1959.6,2875.3 L1961.6,2874.3 L1963.6,2873.3 L1965.6,2871.3 L1967.6,2869.7 L1969.6,2868.0 L1971.6,2866.6 L1973.6,2865.6 L1975.6,2864.3 L1977.6,2862.9 L1979.6,2861.1 L1981.6,2859.0 L1983.6,2857.6 L1985.6,2857.1 L1987.6,2856.3 L1989.6,2855.9 L1991.6,2855.2 L1993.6,2853.9 L1995.6,2853.4 L1997.6,2852.5 L1999.6,2851.5 L2001.6,2850.5 L2003.6,2849.1 L2005.6,2847.8 L2007.6,2846.3 L2009.6,2845.4 L2011.6,2844.5 L2013.6,2843.9 L2015.6,2843.7 L2017.6,2843.0 L2019.6,2842.0 L2021.6,2840.4 L2023.6,2838.5 L2025.6,2836.9 L2027.6,2835.4 L2029.6,2834.9 L2031.6,2834.0 L2033.6,2833.1 L2035.6,2832.2 L2037.6,2830.7 L2039.6,2829.8 L2041.6,2829.1 L2043.6,2828.4 L2045.6,2827.5 L2047.6,2826.2 L2049.6,2825.0 L2051.6,2824.1 L2053.6,2823.9 L2055.6,2824.0 L2057.6,2824.1 L2059.6,2823.7 L2061.6,2822.5 L2063.6,2821.2 L2065.6,2819.3 L2067.6,2818.0 L2069.6,2817.4 L2071.6,2816.9 L2073.6,2817.0 L2075.6,2816.6 L2077.6,2816.1 L2079.6,2815.1 L2081.6,2813.5 L2083.6,2812.5 L2085.6,2811.8 L2087.6,2811.9 L2089.6,2812.4 L2091.6,2812.5 L2093.6,2812.4 L2095.6,2811.6 L2097.6,2810.2 L2099.6,2809.0 L2101.6,2807.4 L2103.6,2806.4 L2105.6,2806.2 L2107.6,2806.0 L2109.6,2806.1 L2111.6,2805.7 L2113.6,2805.0 L2115.6,2804.0 L2117.6,2803.2 L2119.6,2802.7 L2121.6,2802.0 L2123.6,2801.8 L2125.6,2801.4 L2127.6,2800.7 L2129.6,2800.5 L2131.6,2799.8 L2133.6,2799.5 L2135.6,2799.6 L2137.6,2799.3 L2139.6,2798.1 L2141.6,2797.6 L2143.6,2797.2 L2145.6,2796.8" fill="none" stroke="#b00606" stroke-width="6.2" stroke-linejoin="round"/>
<path d="M337.7,2784.1 L339.7,2784.1 L341.7,2784.2 L343.7,2784.2 L345.7,2783.2 L347.7,2783.0 L349.7,2783.3 L351.7,2783.7 L353.7,2784.0 L355.7,2784.2 L357.7,2784.6 L359.7,2784.4 L361.7,2784.5 L363.7,2784.4 L365.7,2784.2 L367.7,2784.6 L369.7,2784.9 L371.7,2785.3 L373.7,2785.2 L375.7,2784.8 L377.7,2784.2 L379.7,2784.1 L381.7,2784.4 L383.7,2785.0 L385.7,2785.8 L387.7,2786.0 L389.7,2785.9 L391.7,2785.1 L393.7,2784.6 L395.7,2783.9 L397.7,2783.3 L399.7,2783.1 L401.7,2782.6 L403.7,2782.7 L405.7,2783.5 L407.7,2784.4 L409.7,2785.4 L411.7,2785.4 L413.7,2784.9 L415.7,2784.1 L417.7,2783.1 L419.7,2782.9 L421.7,2782.7 L423.7,2782.9 L425.7,2783.4 L427.7,2783.7 L429.7,2784.0 L431.7,2784.2 L433.7,2783.8 L435.7,2783.5 L437.7,2783.0 L439.7,2782.0 L441.7,2781.9 L443.7,2781.5 L445.7,2781.3 L447.7,2781.6 L449.7,2781.6 L451.7,2782.4 L453.7,2783.1 L455.7,2783.5 L457.7,2783.7 L459.7,2783.0 L461.7,2782.1 L463.7,2781.4 L465.7,2780.9 L467.7,2780.7 L469.7,2781.2 L471.7,2781.5 L473.7,2782.0 L475.7,2782.6 L477.7,2782.5 L479.7,2782.2 L481.7,2781.9 L483.7,2780.9 L485.7,2780.3 L487.7,2779.9 L489.7,2779.4 L491.7,2779.2 L493.7,2778.8 L495.7,2777.8 L497.7,2776.9 L499.7,2775.9 L501.7,2775.6 L503.7,2776.0 L505.7,2776.4 L507.7,2777.1 L509.7,2776.9 L511.7,2776.6 L513.7,2776.8 L515.7,2776.5 L517.7,2776.5 L519.7,2776.5 L521.7,2776.4 L523.7,2776.2 L525.7,2776.1 L527.7,2775.5 L529.7,2774.8 L531.7,2774.5 L533.7,2774.2 L535.7,2774.5 L537.7,2774.7 L539.7,2774.9 L541.7,2774.8 L543.7,2774.4 L545.7,2774.0 L547.7,2773.2 L549.7,2772.6 L551.7,2772.3 L553.7,2772.2 L555.7,2772.1 L557.7,2771.9 L559.7,2770.9 L561.7,2769.8 L563.7,2769.5 L565.7,2769.2 L567.7,2769.7 L569.7,2770.1 L571.7,2769.7 L573.7,2769.8 L575.7,2769.3 L577.7,2768.8 L579.7,2768.6 L581.7,2767.8 L583.7,2767.3 L585.7,2767.3 L587.7,2767.1 L589.7,2766.6 L591.7,2766.1 L593.7,2764.9 L595.7,2763.9 L597.7,2763.4 L599.7,2762.9 L601.7,2762.6 L603.7,2762.7 L605.7,2763.0 L607.7,2763.0 L609.7,2762.7 L611.7,2761.9 L613.7,2760.5 L615.7,2759.5 L617.7,2758.7 L619.7,2758.2 L621.7,2758.1 L623.7,2758.0 L625.7,2758.1 L627.7,2758.3 L629.7,2758.7 L631.7,2759.0 L633.7,2759.1 L635.7,2758.6 L637.7,2757.7 L639.7,2757.0 L641.7,2756.3 L643.7,2756.0 L645.7,2755.6 L647.7,2754.7 L649.7,2754.0 L651.7,2753.0 L653.7,2752.3 L655.7,2751.7 L657.7,2750.8 L659.7,2750.1 L661.7,2748.9 L663.7,2748.2 L665.7,2747.5 L667.7,2746.8 L669.7,2746.3 L671.7,2745.4 L673.7,2744.9 L675.7,2744.8 L677.7,2745.1 L679.7,2745.8 L681.7,2746.0 L683.7,2745.8 L685.7,2745.1 L687.7,2743.7 L689.7,2742.1 L691.7,2740.3 L693.7,2738.8 L695.7,2737.5 L697.7,2736.6 L699.7,2735.9 L701.7,2734.7 L703.7,2733.5 L705.7,2732.1 L707.7,2731.0 L709.7,2729.9 L711.7,2728.7 L713.7,2727.9 L715.7,2726.8 L717.7,2726.2 L719.7,2725.8 L721.7,2725.1 L723.7,2724.3 L725.7,2723.4 L727.7,2722.4 L729.7,2721.3 L731.7,2720.4 L733.7,2719.3 L735.7,2718.5 L737.7,2718.3 L739.7,2718.3 L741.7,2718.1 L743.7,2717.3 L745.7,2716.3 L747.7,2715.2 L749.7,2714.7 L751.7,2715.2 L753.7,2715.2 L755.7,2715.3 L757.7,2714.8 L759.7,2713.4 L761.7,2712.6 L763.7,2712.0 L765.7,2711.4 L767.7,2711.6 L769.7,2711.3 L771.7,2710.7 L773.7,2710.6 L775.7,2709.8 L777.7,2709.1 L779.7,2708.4 L781.7,2707.5 L783.7,2707.6 L785.7,2707.7 L787.7,2708.0 L789.7,2707.8 L791.7,2706.8 L793.7,2705.9 L795.7,2705.6 L797.7,2705.6 L799.7,2705.9 L801.7,2705.5 L803.7,2704.3 L805.7,2702.7 L807.7,2701.1 L809.7,2700.4 L811.7,2700.3 L813.7,2700.6 L815.7,2701.1 L817.7,2701.2 L819.7,2701.2 L821.7,2700.9 L823.7,2700.7 L825.7,2700.5 L827.7,2699.8 L829.7,2699.7 L831.7,2699.5 L833.7,2699.8 L835.7,2700.6 L837.7,2701.2 L839.7,2701.6 L841.7,2701.4 L843.7,2701.1 L845.7,2700.7 L847.7,2701.0 L849.7,2701.3 L851.7,2701.8 L853.7,2702.2 L855.7,2702.4 L857.7,2702.6 L859.7,2702.9 L861.7,2703.3 L863.7,2703.5 L865.7,2703.8 L867.7,2703.8 L869.7,2703.9 L871.7,2704.3 L873.7,2704.3 L875.7,2704.3 L877.7,2704.3 L879.7,2704.0 L881.7,2704.2 L883.7,2704.6 L885.7,2704.6 L887.7,2704.7 L889.7,2704.8 L891.7,2704.6 L893.7,2704.8 L895.7,2704.7 L897.7,2704.6 L899.7,2704.2 L901.7,2703.9 L903.7,2704.3 L905.7,2704.3 L907.7,2704.3 L909.7,2704.5 L911.7,2703.9 L913.7,2703.7 L915.7,2704.5 L917.7,2704.4 L919.7,2704.5 L921.7,2704.4 L923.7,2702.9 L925.7,2702.0 L927.7,2700.9 L929.7,2700.1 L931.7,2699.9 L933.7,2699.4 L935.7,2698.8 L937.7,2698.1 L939.7,2697.0 L941.7,2696.2 L943.7,2695.7 L945.7,2695.1 L947.7,2694.6 L949.7,2693.8 L951.7,2692.6 L953.7,2691.3 L955.7,2689.8 L957.7,2688.4 L959.7,2687.2 L961.7,2685.9 L963.7,2684.5 L965.7,2683.3 L967.7,2682.6 L969.7,2682.1 L971.7,2681.5 L973.7,2681.4 L975.7,2680.4 L977.7,2679.5 L979.7,2678.6 L981.7,2676.7 L983.7,2675.0 L985.7,2672.9 L987.7,2671.0 L989.7,2669.2 L991.7,2667.9 L993.7,2666.9 L995.7,2665.4 L997.7,2664.5 L999.7,2662.9 L1001.7,2661.3 L1003.7,2660.1 L1005.7,2658.4 L1007.7,2657.3 L1009.7,2656.3 L1011.7,2655.0 L1013.7,2653.9 L1015.7,2652.5 L1017.7,2650.7 L1019.7,2649.2 L1021.7,2647.8 L1023.7,2646.8 L1025.7,2645.8 L1027.7,2644.7 L1029.7,2643.2 L1031.7,2641.3 L1033.7,2639.3 L1035.7,2637.2 L1037.7,2635.3 L1039.7,2633.9 L1041.7,2632.4 L1043.7,2631.1 L1045.7,2629.8 L1047.7,2628.3 L1049.7,2626.9 L1051.7,2625.3 L1053.7,2623.8 L1055.7,2622.2 L1057.7,2620.8 L1059.7,2619.6 L1061.7,2618.4 L1063.7,2617.2 L1065.7,2616.0 L1067.7,2614.6 L1069.7,2613.2 L1071.7,2611.8 L1073.7,2610.8 L1075.7,2610.0 L1077.7,2609.0 L1079.7,2608.2 L1081.7,2607.1 L1083.7,2605.8 L1085.7,2604.7 L1087.7,2603.6 L1089.7,2602.5 L1091.7,2601.3 L1093.7,2600.0 L1095.7,2598.6 L1097.7,2596.9 L1099.7,2595.9 L1101.7,2594.8 L1103.7,2593.9 L1105.7,2593.3 L1107.7,2592.3 L1109.7,2591.2 L1111.7,2590.1 L1113.7,2589.2 L1115.7,2588.5 L1117.7,2588.2 L1119.7,2588.2 L1121.7,2588.5 L1123.7,2588.6 L1125.7,2588.6 L1127.7,2588.4 L1129.7,2587.8 L1131.7,2587.3 L1133.7,2586.7 L1135.7,2586.2 L1137.7,2586.0 L1139.7,2585.5 L1141.7,2584.8 L1143.7,2583.9 L1145.7,2582.8 L1147.7,2582.2 L1149.7,2581.5 L1151.7,2580.8 L1153.7,2579.9 L1155.7,2578.7 L1157.7,2578.2 L1159.7,2577.9 L1161.7,2578.2 L1163.7,2578.3 L1165.7,2577.8 L1167.7,2577.2 L1169.7,2576.2 L1171.7,2575.4 L1173.7,2574.8 L1175.7,2574.4 L1177.7,2573.9 L1179.7,2573.3 L1181.7,2572.4 L1183.7,2571.4 L1185.7,2570.5 L1187.7,2569.7 L1189.7,2569.0 L1191.7,2568.5 L1193.7,2568.2 L1195.7,2568.1 L1197.7,2568.1 L1199.7,2567.6 L1201.7,2567.3 L1203.7,2566.9 L1205.7,2566.4 L1207.7,2566.4 L1209.7,2566.2 L1211.7,2566.1 L1213.7,2566.1 L1215.7,2565.8 L1217.7,2565.6 L1219.7,2565.3 L1221.7,2564.9 L1223.7,2565.2 L1225.7,2565.6 L1227.7,2566.1 L1229.7,2566.3 L1231.7,2566.2 L1233.7,2565.5 L1235.7,2565.1 L1237.7,2564.9 L1239.7,2564.6 L1241.7,2565.2 L1243.7,2565.8 L1245.7,2566.7 L1247.7,2567.7 L1249.7,2567.9 L1251.7,2568.1 L1253.7,2567.7 L1255.7,2567.9 L1257.7,2568.7 L1259.7,2569.9 L1261.7,2571.2 L1263.7,2572.0 L1265.7,2572.2 L1267.7,2572.3 L1269.7,2572.1 L1271.7,2572.2 L1273.7,2572.2 L1275.7,2572.2 L1277.7,2572.6 L1279.7,2573.2 L1281.7,2574.1 L1283.7,2574.7 L1285.7,2575.7 L1287.7,2576.6 L1289.7,2577.5 L1291.7,2578.8 L1293.7,2579.2 L1295.7,2579.5 L1297.7,2580.0 L1299.7,2580.7 L1301.7,2582.0 L1303.7,2583.6 L1305.7,2584.9 L1307.7,2586.2 L1309.7,2587.1 L1311.7,2587.9 L1313.7,2589.0 L1315.7,2589.9 L1317.7,2591.0 L1319.7,2592.0 L1321.7,2592.8 L1323.7,2593.9 L1325.7,2595.3 L1327.7,2596.8 L1329.7,2598.2 L1331.7,2599.3 L1333.7,2600.2 L1335.7,2601.5 L1337.7,2603.4 L1339.7,2605.5 L1341.7,2607.5 L1343.7,2608.8 L1345.7,2609.8 L1347.7,2610.6 L1349.7,2611.7 L1351.7,2613.3 L1353.7,2615.4 L1355.7,2617.8 L1357.7,2620.2 L1359.7,2622.5 L1361.7,2624.4 L1363.7,2626.5 L1365.7,2628.3 L1367.7,2630.1 L1369.7,2632.1 L1371.7,2633.4 L1373.7,2635.1 L1375.7,2637.2 L1377.7,2639.2 L1379.7,2641.8 L1381.7,2644.6 L1383.7,2647.0 L1385.7,2649.4 L1387.7,2651.2 L1389.7,2652.8 L1391.7,2654.9 L1393.7,2657.2 L1395.7,2660.5 L1397.7,2664.4 L1399.7,2668.2 L1401.7,2672.6 L1403.7,2677.1 L1405.7,2681.4 L1407.7,2685.7 L1409.7,2689.5 L1411.7,2693.5 L1413.7,2697.4 L1415.7,2701.9 L1417.7,2707.0 L1419.7,2712.1 L1421.7,2717.5 L1423.7,2723.1 L1425.7,2728.9 L1427.7,2734.5 L1429.7,2740.1 L1431.7,2745.5 L1433.7,2751.2 L1435.7,2756.9 L1437.7,2762.5 L1439.7,2768.3 L1441.7,2773.6 L1443.7,2779.0 L1445.7,2784.8 L1447.7,2789.9 L1449.7,2795.6 L1451.7,2800.6 L1453.7,2805.2 L1455.7,2810.3 L1457.7,2815.0 L1459.7,2820.2 L1461.7,2825.5 L1463.7,2831.1 L1465.7,2837.4 L1467.7,2844.3 L1469.7,2851.4 L1471.7,2858.8 L1473.7,2866.1 L1475.7,2873.2 L1477.7,2881.3 L1479.7,2889.7 L1481.7,2898.7 L1483.7,2907.6 L1485.7,2915.8 L1487.7,2923.7 L1489.7,2931.1 L1491.7,2938.2 L1493.7,2945.0 L1495.7,2950.8 L1497.7,2956.6 L1499.7,2962.3 L1501.7,2968.1 L1503.7,2974.4 L1505.7,2980.4 L1507.7,2986.1 L1509.7,2991.5 L1511.7,2996.5 L1513.7,3001.4 L1515.7,3005.9 L1517.7,3010.3 L1519.7,3014.9 L1521.7,3019.4 L1523.7,3024.4 L1525.7,3029.4 L1527.7,3033.7 L1529.7,3037.9 L1531.7,3041.8 L1533.7,3046.0 L1535.7,3050.5 L1537.7,3055.4 L1539.7,3060.2 L1541.7,3064.9 L1543.7,3069.7 L1545.7,3073.8 L1547.7,3077.4 L1549.7,3080.8 L1551.7,3084.3 L1553.7,3088.0 L1555.7,3091.8 L1557.7,3095.5 L1559.7,3098.2 L1561.7,3101.0 L1563.7,3103.7 L1565.7,3106.2 L1567.7,3109.0 L1569.7,3111.6 L1571.7,3114.7 L1573.7,3117.5 L1575.7,3120.2 L1577.7,3122.8 L1579.7,3124.6 L1581.7,3126.4 L1583.7,3127.9 L1585.7,3129.1 L1587.7,3130.6 L1589.7,3132.0 L1591.7,3133.9 L1593.7,3135.9 L1595.7,3137.6 L1597.7,3139.1 L1599.7,3140.0 L1601.7,3141.1 L1603.7,3142.6 L1605.7,3144.1 L1607.7,3145.6 L1609.7,3147.0 L1611.7,3147.9 L1613.7,3148.9 L1615.7,3150.2 L1617.7,3151.4 L1619.7,3152.5 L1621.7,3153.4 L1623.7,3153.8 L1625.7,3154.0 L1627.7,3154.4 L1629.7,3154.9 L1631.7,3155.7 L1633.7,3156.8 L1635.7,3157.4 L1637.7,3158.1 L1639.7,3158.0 L1641.7,3157.4 L1643.7,3157.6 L1645.7,3157.4 L1647.7,3157.9 L1649.7,3158.7 L1651.7,3159.1 L1653.7,3159.7 L1655.7,3160.1 L1657.7,3160.3 L1659.7,3160.5 L1661.7,3160.8 L1663.7,3161.0 L1665.7,3161.5 L1667.7,3162.0 L1669.7,3162.2 L1671.7,3162.4 L1673.7,3162.1 L1675.7,3161.6 L1677.7,3161.4 L1679.7,3160.8 L1681.7,3160.3 L1683.7,3159.9 L1685.7,3158.8 L1687.7,3158.2 L1689.7,3158.1 L1691.7,3158.1 L1693.7,3158.4 L1695.7,3158.1 L1697.7,3157.1 L1699.7,3155.9 L1701.7,3154.6 L1703.7,3153.5 L1705.7,3152.9 L1707.7,3152.7 L1709.7,3152.2 L1711.7,3151.5 L1713.7,3150.5 L1715.7,3149.0 L1717.7,3147.4 L1719.7,3146.2 L1721.7,3144.8 L1723.7,3144.2 L1725.7,3144.3 L1727.7,3144.8 L1729.7,3145.6 L1731.7,3146.1 L1733.7,3145.7 L1735.7,3144.5 L1737.7,3142.6 L1739.7,3140.3 L1741.7,3138.4 L1743.7,3136.8 L1745.7,3136.0 L1747.7,3135.3 L1749.7,3134.7 L1751.7,3133.8 L1753.7,3132.0 L1755.7,3130.6 L1757.7,3128.8 L1759.7,3127.4 L1761.7,3126.8 L1763.7,3125.7 L1765.7,3124.6 L1767.7,3123.7 L1769.7,3121.8 L1771.7,3120.6 L1773.7,3119.5 L1775.7,3118.0 L1777.7,3117.2 L1779.7,3116.2 L1781.7,3115.0 L1783.7,3113.9 L1785.7,3112.4 L1787.7,3110.5 L1789.7,3108.6 L1791.7,3106.6 L1793.7,3104.7 L1795.7,3103.3 L1797.7,3102.1 L1799.7,3101.0 L1801.7,3099.7 L1803.7,3098.1 L1805.7,3096.3 L1807.7,3094.3 L1809.7,3092.2 L1811.7,3090.2 L1813.7,3088.5 L1815.7,3087.2 L1817.7,3086.0 L1819.7,3084.9 L1821.7,3083.2 L1823.7,3081.2 L1825.7,3079.5 L1827.7,3077.8 L1829.7,3076.6 L1831.7,3075.1 L1833.7,3073.4 L1835.7,3071.5 L1837.7,3069.5 L1839.7,3068.2 L1841.7,3066.7 L1843.7,3065.0 L1845.7,3063.2 L1847.7,3061.2 L1849.7,3059.3 L1851.7,3057.7 L1853.7,3056.1 L1855.7,3054.2 L1857.7,3052.7 L1859.7,3051.1 L1861.7,3049.6 L1863.7,3048.2 L1865.7,3046.8 L1867.7,3045.5 L1869.7,3044.4 L1871.7,3043.5 L1873.7,3042.3 L1875.7,3040.8 L1877.7,3039.2 L1879.7,3037.5 L1881.7,3036.1 L1883.7,3034.8 L1885.7,3033.5 L1887.7,3032.3 L1889.7,3030.7 L1891.7,3029.3 L1893.7,3028.1 L1895.7,3026.6 L1897.7,3025.6 L1899.7,3024.3 L1901.7,3023.0 L1903.7,3021.4 L1905.7,3019.7 L1907.7,3018.3 L1909.7,3016.8 L1911.7,3015.7 L1913.7,3015.1 L1915.7,3014.4 L1917.7,3013.8 L1919.7,3013.7 L1921.7,3013.0 L1923.7,3012.3 L1925.7,3011.0 L1927.7,3009.3 L1929.7,3008.0 L1931.7,3006.9 L1933.7,3006.4 L1935.7,3005.6 L1937.7,3004.2 L1939.7,3002.6 L1941.7,3000.9 L1943.7,2999.6 L1945.7,2998.9 L1947.7,2998.3 L1949.7,2997.3 L1951.7,2996.0 L1953.7,2994.2 L1955.7,2992.0 L1957.7,2990.2 L1959.7,2988.6 L1961.7,2987.2 L1963.7,2986.0 L1965.7,2984.4 L1967.7,2982.5 L1969.7,2981.0 L1971.7,2979.3 L1973.7,2978.2 L1975.7,2977.2 L1977.7,2975.6 L1979.7,2974.2 L1981.7,2973.1 L1983.7,2972.1 L1985.7,2971.8 L1987.7,2971.3 L1989.7,2970.4 L1991.7,2969.1 L1993.7,2967.9 L1995.7,2966.8 L1997.7,2965.8 L1999.7,2964.9 L2001.7,2963.9 L2003.7,2962.6 L2005.7,2961.5 L2007.7,2960.5 L2009.7,2959.3 L2011.7,2958.3 L2013.7,2957.0 L2015.7,2955.5 L2017.7,2953.8 L2019.7,2952.3 L2021.7,2950.8 L2023.7,2949.6 L2025.7,2949.0 L2027.7,2948.3 L2029.7,2947.9 L2031.7,2947.0 L2033.7,2946.2 L2035.7,2945.5 L2037.7,2944.3 L2039.7,2943.9 L2041.7,2943.5 L2043.7,2943.2 L2045.7,2943.6 L2047.7,2943.4 L2049.7,2942.9 L2051.7,2942.3 L2053.7,2941.5 L2055.7,2940.6 L2057.7,2940.0 L2059.7,2939.2 L2061.7,2937.9 L2063.7,2936.9 L2065.7,2935.9 L2067.7,2935.1 L2069.7,2935.0 L2071.7,2934.5 L2073.7,2934.1 L2075.7,2933.2 L2077.7,2931.7 L2079.7,2930.4 L2081.7,2929.0 L2083.7,2928.0 L2085.7,2927.9 L2087.7,2927.9 L2089.7,2928.3 L2091.7,2928.3 L2093.7,2927.9 L2095.7,2926.9 L2097.7,2925.8 L2099.7,2924.9 L2101.7,2923.6 L2103.7,2922.9 L2105.7,2922.1 L2107.7,2921.2 L2109.7,2921.3 L2111.7,2921.4 L2113.7,2921.4 L2115.7,2921.4 L2117.7,2920.6 L2119.7,2919.4 L2121.7,2918.5 L2123.7,2918.1 L2125.7,2918.0 L2127.7,2918.4 L2129.7,2918.5 L2131.7,2918.1 L2133.7,2917.4 L2135.7,2916.8 L2137.7,2915.6 L2139.7,2915.3 L2141.7,2915.0 L2143.7,2914.8" fill="none" stroke="#fa1c1c" stroke-opacity="0.3" stroke-width="11.5" stroke-linejoin="round"/>
<path d="M337.7,2784.1 L339.7,2784.1 L341.7,2784.2 L343.7,2784.2 L345.7,2783.2 L347.7,2783.0 L349.7,2783.3 L351.7,2783.7 L353.7,2784.0 L355.7,2784.2 L357.7,2784.6 L359.7,2784.4 L361.7,2784.5 L363.7,2784.4 L365.7,2784.2 L367.7,2784.6 L369.7,2784.9 L371.7,2785.3 L373.7,2785.2 L375.7,2784.8 L377.7,2784.2 L379.7,2784.1 L381.7,2784.4 L383.7,2785.0 L385.7,2785.8 L387.7,2786.0 L389.7,2785.9 L391.7,2785.1 L393.7,2784.6 L395.7,2783.9 L397.7,2783.3 L399.7,2783.1 L401.7,2782.6 L403.7,2782.7 L405.7,2783.5 L407.7,2784.4 L409.7,2785.4 L411.7,2785.4 L413.7,2784.9 L415.7,2784.1 L417.7,2783.1 L419.7,2782.9 L421.7,2782.7 L423.7,2782.9 L425.7,2783.4 L427.7,2783.7 L429.7,2784.0 L431.7,2784.2 L433.7,2783.8 L435.7,2783.5 L437.7,2783.0 L439.7,2782.0 L441.7,2781.9 L443.7,2781.5 L445.7,2781.3 L447.7,2781.6 L449.7,2781.6 L451.7,2782.4 L453.7,2783.1 L455.7,2783.5 L457.7,2783.7 L459.7,2783.0 L461.7,2782.1 L463.7,2781.4 L465.7,2780.9 L467.7,2780.7 L469.7,2781.2 L471.7,2781.5 L473.7,2782.0 L475.7,2782.6 L477.7,2782.5 L479.7,2782.2 L481.7,2781.9 L483.7,2780.9 L485.7,2780.3 L487.7,2779.9 L489.7,2779.4 L491.7,2779.2 L493.7,2778.8 L495.7,2777.8 L497.7,2776.9 L499.7,2775.9 L501.7,2775.6 L503.7,2776.0 L505.7,2776.4 L507.7,2777.1 L509.7,2776.9 L511.7,2776.6 L513.7,2776.8 L515.7,2776.5 L517.7,2776.5 L519.7,2776.5 L521.7,2776.4 L523.7,2776.2 L525.7,2776.1 L527.7,2775.5 L529.7,2774.8 L531.7,2774.5 L533.7,2774.2 L535.7,2774.5 L537.7,2774.7 L539.7,2774.9 L541.7,2774.8 L543.7,2774.4 L545.7,2774.0 L547.7,2773.2 L549.7,2772.6 L551.7,2772.3 L553.7,2772.2 L555.7,2772.1 L557.7,2771.9 L559.7,2770.9 L561.7,2769.8 L563.7,2769.5 L565.7,2769.2 L567.7,2769.7 L569.7,2770.1 L571.7,2769.7 L573.7,2769.8 L575.7,2769.3 L577.7,2768.8 L579.7,2768.6 L581.7,2767.8 L583.7,2767.3 L585.7,2767.3 L587.7,2767.1 L589.7,2766.6 L591.7,2766.1 L593.7,2764.9 L595.7,2763.9 L597.7,2763.4 L599.7,2762.9 L601.7,2762.6 L603.7,2762.7 L605.7,2763.0 L607.7,2763.0 L609.7,2762.7 L611.7,2761.9 L613.7,2760.5 L615.7,2759.5 L617.7,2758.7 L619.7,2758.2 L621.7,2758.1 L623.7,2758.0 L625.7,2758.1 L627.7,2758.3 L629.7,2758.7 L631.7,2759.0 L633.7,2759.1 L635.7,2758.6 L637.7,2757.7 L639.7,2757.0 L641.7,2756.3 L643.7,2756.0 L645.7,2755.6 L647.7,2754.7 L649.7,2754.0 L651.7,2753.0 L653.7,2752.3 L655.7,2751.7 L657.7,2750.8 L659.7,2750.1 L661.7,2748.9 L663.7,2748.2 L665.7,2747.5 L667.7,2746.8 L669.7,2746.3 L671.7,2745.4 L673.7,2744.9 L675.7,2744.8 L677.7,2745.1 L679.7,2745.8 L681.7,2746.0 L683.7,2745.8 L685.7,2745.1 L687.7,2743.7 L689.7,2742.1 L691.7,2740.3 L693.7,2738.8 L695.7,2737.5 L697.7,2736.6 L699.7,2735.9 L701.7,2734.7 L703.7,2733.5 L705.7,2732.1 L707.7,2731.0 L709.7,2729.9 L711.7,2728.7 L713.7,2727.9 L715.7,2726.8 L717.7,2726.2 L719.7,2725.8 L721.7,2725.1 L723.7,2724.3 L725.7,2723.4 L727.7,2722.4 L729.7,2721.3 L731.7,2720.4 L733.7,2719.3 L735.7,2718.5 L737.7,2718.3 L739.7,2718.3 L741.7,2718.1 L743.7,2717.3 L745.7,2716.3 L747.7,2715.2 L749.7,2714.7 L751.7,2715.2 L753.7,2715.2 L755.7,2715.3 L757.7,2714.8 L759.7,2713.4 L761.7,2712.6 L763.7,2712.0 L765.7,2711.4 L767.7,2711.6 L769.7,2711.3 L771.7,2710.7 L773.7,2710.6 L775.7,2709.8 L777.7,2709.1 L779.7,2708.4 L781.7,2707.5 L783.7,2707.6 L785.7,2707.7 L787.7,2708.0 L789.7,2707.8 L791.7,2706.8 L793.7,2705.9 L795.7,2705.6 L797.7,2705.6 L799.7,2705.9 L801.7,2705.5 L803.7,2704.3 L805.7,2702.7 L807.7,2701.1 L809.7,2700.4 L811.7,2700.3 L813.7,2700.6 L815.7,2701.1 L817.7,2701.2 L819.7,2701.2 L821.7,2700.9 L823.7,2700.7 L825.7,2700.5 L827.7,2699.8 L829.7,2699.7 L831.7,2699.5 L833.7,2699.8 L835.7,2700.6 L837.7,2701.2 L839.7,2701.6 L841.7,2701.4 L843.7,2701.1 L845.7,2700.7 L847.7,2701.0 L849.7,2701.3 L851.7,2701.8 L853.7,2702.2 L855.7,2702.4 L857.7,2702.6 L859.7,2702.9 L861.7,2703.3 L863.7,2703.5 L865.7,2703.8 L867.7,2703.8 L869.7,2703.9 L871.7,2704.3 L873.7,2704.3 L875.7,2704.3 L877.7,2704.3 L879.7,2704.0 L881.7,2704.2 L883.7,2704.6 L885.7,2704.6 L887.7,2704.7 L889.7,2704.8 L891.7,2704.6 L893.7,2704.8 L895.7,2704.7 L897.7,2704.6 L899.7,2704.2 L901.7,2703.9 L903.7,2704.3 L905.7,2704.3 L907.7,2704.3 L909.7,2704.5 L911.7,2703.9 L913.7,2703.7 L915.7,2704.5 L917.7,2704.4 L919.7,2704.5 L921.7,2704.4 L923.7,2702.9 L925.7,2702.0 L927.7,2700.9 L929.7,2700.1 L931.7,2699.9 L933.7,2699.4 L935.7,2698.8 L937.7,2698.1 L939.7,2697.0 L941.7,2696.2 L943.7,2695.7 L945.7,2695.1 L947.7,2694.6 L949.7,2693.8 L951.7,2692.6 L953.7,2691.3 L955.7,2689.8 L957.7,2688.4 L959.7,2687.2 L961.7,2685.9 L963.7,2684.5 L965.7,2683.3 L967.7,2682.6 L969.7,2682.1 L971.7,2681.5 L973.7,2681.4 L975.7,2680.4 L977.7,2679.5 L979.7,2678.6 L981.7,2676.7 L983.7,2675.0 L985.7,2672.9 L987.7,2671.0 L989.7,2669.2 L991.7,2667.9 L993.7,2666.9 L995.7,2665.4 L997.7,2664.5 L999.7,2662.9 L1001.7,2661.3 L1003.7,2660.1 L1005.7,2658.4 L1007.7,2657.3 L1009.7,2656.3 L1011.7,2655.0 L1013.7,2653.9 L1015.7,2652.5 L1017.7,2650.7 L1019.7,2649.2 L1021.7,2647.8 L1023.7,2646.8 L1025.7,2645.8 L1027.7,2644.7 L1029.7,2643.2 L1031.7,2641.3 L1033.7,2639.3 L1035.7,2637.2 L1037.7,2635.3 L1039.7,2633.9 L1041.7,2632.4 L1043.7,2631.1 L1045.7,2629.8 L1047.7,2628.3 L1049.7,2626.9 L1051.7,2625.3 L1053.7,2623.8 L1055.7,2622.2 L1057.7,2620.8 L1059.7,2619.6 L1061.7,2618.4 L1063.7,2617.2 L1065.7,2616.0 L1067.7,2614.6 L1069.7,2613.2 L1071.7,2611.8 L1073.7,2610.8 L1075.7,2610.0 L1077.7,2609.0 L1079.7,2608.2 L1081.7,2607.1 L1083.7,2605.8 L1085.7,2604.7 L1087.7,2603.6 L1089.7,2602.5 L1091.7,2601.3 L1093.7,2600.0 L1095.7,2598.6 L1097.7,2596.9 L1099.7,2595.9 L1101.7,2594.8 L1103.7,2593.9 L1105.7,2593.3 L1107.7,2592.3 L1109.7,2591.2 L1111.7,2590.1 L1113.7,2589.2 L1115.7,2588.5 L1117.7,2588.2 L1119.7,2588.2 L1121.7,2588.5 L1123.7,2588.6 L1125.7,2588.6 L1127.7,2588.4 L1129.7,2587.8 L1131.7,2587.3 L1133.7,2586.7 L1135.7,2586.2 L1137.7,2586.0 L1139.7,2585.5 L1141.7,2584.8 L1143.7,2583.9 L1145.7,2582.8 L1147.7,2582.2 L1149.7,2581.5 L1151.7,2580.8 L1153.7,2579.9 L1155.7,2578.7 L1157.7,2578.2 L1159.7,2577.9 L1161.7,2578.2 L1163.7,2578.3 L1165.7,2577.8 L1167.7,2577.2 L1169.7,2576.2 L1171.7,2575.4 L1173.7,2574.8 L1175.7,2574.4 L1177.7,2573.9 L1179.7,2573.3 L1181.7,2572.4 L1183.7,2571.4 L1185.7,2570.5 L1187.7,2569.7 L1189.7,2569.0 L1191.7,2568.5 L1193.7,2568.2 L1195.7,2568.1 L1197.7,2568.1 L1199.7,2567.6 L1201.7,2567.3 L1203.7,2566.9 L1205.7,2566.4 L1207.7,2566.4 L1209.7,2566.2 L1211.7,2566.1 L1213.7,2566.1 L1215.7,2565.8 L1217.7,2565.6 L1219.7,2565.3 L1221.7,2564.9 L1223.7,2565.2 L1225.7,2565.6 L1227.7,2566.1 L1229.7,2566.3 L1231.7,2566.2 L1233.7,2565.5 L1235.7,2565.1 L1237.7,2564.9 L1239.7,2564.6 L1241.7,2565.2 L1243.7,2565.8 L1245.7,2566.7 L1247.7,2567.7 L1249.7,2567.9 L1251.7,2568.1 L1253.7,2567.7 L1255.7,2567.9 L1257.7,2568.7 L1259.7,2569.9 L1261.7,2571.2 L1263.7,2572.0 L1265.7,2572.2 L1267.7,2572.3 L1269.7,2572.1 L1271.7,2572.2 L1273.7,2572.2 L1275.7,2572.2 L1277.7,2572.6 L1279.7,2573.2 L1281.7,2574.1 L1283.7,2574.7 L1285.7,2575.7 L1287.7,2576.6 L1289.7,2577.5 L1291.7,2578.8 L1293.7,2579.2 L1295.7,2579.5 L1297.7,2580.0 L1299.7,2580.7 L1301.7,2582.0 L1303.7,2583.6 L1305.7,2584.9 L1307.7,2586.2 L1309.7,2587.1 L1311.7,2587.9 L1313.7,2589.0 L1315.7,2589.9 L1317.7,2591.0 L1319.7,2592.0 L1321.7,2592.8 L1323.7,2593.9 L1325.7,2595.3 L1327.7,2596.8 L1329.7,2598.2 L1331.7,2599.3 L1333.7,2600.2 L1335.7,2601.5 L1337.7,2603.4 L1339.7,2605.5 L1341.7,2607.5 L1343.7,2608.8 L1345.7,2609.8 L1347.7,2610.6 L1349.7,2611.7 L1351.7,2613.3 L1353.7,2615.4 L1355.7,2617.8 L1357.7,2620.2 L1359.7,2622.5 L1361.7,2624.4 L1363.7,2626.5 L1365.7,2628.3 L1367.7,2630.1 L1369.7,2632.1 L1371.7,2633.4 L1373.7,2635.1 L1375.7,2637.2 L1377.7,2639.2 L1379.7,2641.8 L1381.7,2644.6 L1383.7,2647.0 L1385.7,2649.4 L1387.7,2651.2 L1389.7,2652.8 L1391.7,2654.9 L1393.7,2657.2 L1395.7,2660.5 L1397.7,2664.4 L1399.7,2668.2 L1401.7,2672.6 L1403.7,2677.1 L1405.7,2681.4 L1407.7,2685.7 L1409.7,2689.5 L1411.7,2693.5 L1413.7,2697.4 L1415.7,2701.9 L1417.7,2707.0 L1419.7,2712.1 L1421.7,2717.5 L1423.7,2723.1 L1425.7,2728.9 L1427.7,2734.5 L1429.7,2740.1 L1431.7,2745.5 L1433.7,2751.2 L1435.7,2756.9 L1437.7,2762.5 L1439.7,2768.3 L1441.7,2773.6 L1443.7,2779.0 L1445.7,2784.8 L1447.7,2789.9 L1449.7,2795.6 L1451.7,2800.6 L1453.7,2805.2 L1455.7,2810.3 L1457.7,2815.0 L1459.7,2820.2 L1461.7,2825.5 L1463.7,2831.1 L1465.7,2837.4 L1467.7,2844.3 L1469.7,2851.4 L1471.7,2858.8 L1473.7,2866.1 L1475.7,2873.2 L1477.7,2881.3 L1479.7,2889.7 L1481.7,2898.7 L1483.7,2907.6 L1485.7,2915.8 L1487.7,2923.7 L1489.7,2931.1 L1491.7,2938.2 L1493.7,2945.0 L1495.7,2950.8 L1497.7,2956.6 L1499.7,2962.3 L1501.7,2968.1 L1503.7,2974.4 L1505.7,2980.4 L1507.7,2986.1 L1509.7,2991.5 L1511.7,2996.5 L1513.7,3001.4 L1515.7,3005.9 L1517.7,3010.3 L1519.7,3014.9 L1521.7,3019.4 L1523.7,3024.4 L1525.7,3029.4 L1527.7,3033.7 L1529.7,3037.9 L1531.7,3041.8 L1533.7,3046.0 L1535.7,3050.5 L1537.7,3055.4 L1539.7,3060.2 L1541.7,3064.9 L1543.7,3069.7 L1545.7,3073.8 L1547.7,3077.4 L1549.7,3080.8 L1551.7,3084.3 L1553.7,3088.0 L1555.7,3091.8 L1557.7,3095.5 L1559.7,3098.2 L1561.7,3101.0 L1563.7,3103.7 L1565.7,3106.2 L1567.7,3109.0 L1569.7,3111.6 L1571.7,3114.7 L1573.7,3117.5 L1575.7,3120.2 L1577.7,3122.8 L1579.7,3124.6 L1581.7,3126.4 L1583.7,3127.9 L1585.7,3129.1 L1587.7,3130.6 L1589.7,3132.0 L1591.7,3133.9 L1593.7,3135.9 L1595.7,3137.6 L1597.7,3139.1 L1599.7,3140.0 L1601.7,3141.1 L1603.7,3142.6 L1605.7,3144.1 L1607.7,3145.6 L1609.7,3147.0 L1611.7,3147.9 L1613.7,3148.9 L1615.7,3150.2 L1617.7,3151.4 L1619.7,3152.5 L1621.7,3153.4 L1623.7,3153.8 L1625.7,3154.0 L1627.7,3154.4 L1629.7,3154.9 L1631.7,3155.7 L1633.7,3156.8 L1635.7,3157.4 L1637.7,3158.1 L1639.7,3158.0 L1641.7,3157.4 L1643.7,3157.6 L1645.7,3157.4 L1647.7,3157.9 L1649.7,3158.7 L1651.7,3159.1 L1653.7,3159.7 L1655.7,3160.1 L1657.7,3160.3 L1659.7,3160.5 L1661.7,3160.8 L1663.7,3161.0 L1665.7,3161.5 L1667.7,3162.0 L1669.7,3162.2 L1671.7,3162.4 L1673.7,3162.1 L1675.7,3161.6 L1677.7,3161.4 L1679.7,3160.8 L1681.7,3160.3 L1683.7,3159.9 L1685.7,3158.8 L1687.7,3158.2 L1689.7,3158.1 L1691.7,3158.1 L1693.7,3158.4 L1695.7,3158.1 L1697.7,3157.1 L1699.7,3155.9 L1701.7,3154.6 L1703.7,3153.5 L1705.7,3152.9 L1707.7,3152.7 L1709.7,3152.2 L1711.7,3151.5 L1713.7,3150.5 L1715.7,3149.0 L1717.7,3147.4 L1719.7,3146.2 L1721.7,3144.8 L1723.7,3144.2 L1725.7,3144.3 L1727.7,3144.8 L1729.7,3145.6 L1731.7,3146.1 L1733.7,3145.7 L1735.7,3144.5 L1737.7,3142.6 L1739.7,3140.3 L1741.7,3138.4 L1743.7,3136.8 L1745.7,3136.0 L1747.7,3135.3 L1749.7,3134.7 L1751.7,3133.8 L1753.7,3132.0 L1755.7,3130.6 L1757.7,3128.8 L1759.7,3127.4 L1761.7,3126.8 L1763.7,3125.7 L1765.7,3124.6 L1767.7,3123.7 L1769.7,3121.8 L1771.7,3120.6 L1773.7,3119.5 L1775.7,3118.0 L1777.7,3117.2 L1779.7,3116.2 L1781.7,3115.0 L1783.7,3113.9 L1785.7,3112.4 L1787.7,3110.5 L1789.7,3108.6 L1791.7,3106.6 L1793.7,3104.7 L1795.7,3103.3 L1797.7,3102.1 L1799.7,3101.0 L1801.7,3099.7 L1803.7,3098.1 L1805.7,3096.3 L1807.7,3094.3 L1809.7,3092.2 L1811.7,3090.2 L1813.7,3088.5 L1815.7,3087.2 L1817.7,3086.0 L1819.7,3084.9 L1821.7,3083.2 L1823.7,3081.2 L1825.7,3079.5 L1827.7,3077.8 L1829.7,3076.6 L1831.7,3075.1 L1833.7,3073.4 L1835.7,3071.5 L1837.7,3069.5 L1839.7,3068.2 L1841.7,3066.7 L1843.7,3065.0 L1845.7,3063.2 L1847.7,3061.2 L1849.7,3059.3 L1851.7,3057.7 L1853.7,3056.1 L1855.7,3054.2 L1857.7,3052.7 L1859.7,3051.1 L1861.7,3049.6 L1863.7,3048.2 L1865.7,3046.8 L1867.7,3045.5 L1869.7,3044.4 L1871.7,3043.5 L1873.7,3042.3 L1875.7,3040.8 L1877.7,3039.2 L1879.7,3037.5 L1881.7,3036.1 L1883.7,3034.8 L1885.7,3033.5 L1887.7,3032.3 L1889.7,3030.7 L1891.7,3029.3 L1893.7,3028.1 L1895.7,3026.6 L1897.7,3025.6 L1899.7,3024.3 L1901.7,3023.0 L1903.7,3021.4 L1905.7,3019.7 L1907.7,3018.3 L1909.7,3016.8 L1911.7,3015.7 L1913.7,3015.1 L1915.7,3014.4 L1917.7,3013.8 L1919.7,3013.7 L1921.7,3013.0 L1923.7,3012.3 L1925.7,3011.0 L1927.7,3009.3 L1929.7,3008.0 L1931.7,3006.9 L1933.7,3006.4 L1935.7,3005.6 L1937.7,3004.2 L1939.7,3002.6 L1941.7,3000.9 L1943.7,2999.6 L1945.7,2998.9 L1947.7,2998.3 L1949.7,2997.3 L1951.7,2996.0 L1953.7,2994.2 L1955.7,2992.0 L1957.7,2990.2 L1959.7,2988.6 L1961.7,2987.2 L1963.7,2986.0 L1965.7,2984.4 L1967.7,2982.5 L1969.7,2981.0 L1971.7,2979.3 L1973.7,2978.2 L1975.7,2977.2 L1977.7,2975.6 L1979.7,2974.2 L1981.7,2973.1 L1983.7,2972.1 L1985.7,2971.8 L1987.7,2971.3 L1989.7,2970.4 L1991.7,2969.1 L1993.7,2967.9 L1995.7,2966.8 L1997.7,2965.8 L1999.7,2964.9 L2001.7,2963.9 L2003.7,2962.6 L2005.7,2961.5 L2007.7,2960.5 L2009.7,2959.3 L2011.7,2958.3 L2013.7,2957.0 L2015.7,2955.5 L2017.7,2953.8 L2019.7,2952.3 L2021.7,2950.8 L2023.7,2949.6 L2025.7,2949.0 L2027.7,2948.3 L2029.7,2947.9 L2031.7,2947.0 L2033.7,2946.2 L2035.7,2945.5 L2037.7,2944.3 L2039.7,2943.9 L2041.7,2943.5 L2043.7,2943.2 L2045.7,2943.6 L2047.7,2943.4 L2049.7,2942.9 L2051.7,2942.3 L2053.7,2941.5 L2055.7,2940.6 L2057.7,2940.0 L2059.7,2939.2 L2061.7,2937.9 L2063.7,2936.9 L2065.7,2935.9 L2067.7,2935.1 L2069.7,2935.0 L2071.7,2934.5 L2073.7,2934.1 L2075.7,2933.2 L2077.7,2931.7 L2079.7,2930.4 L2081.7,2929.0 L2083.7,2928.0 L2085.7,2927.9 L2087.7,2927.9 L2089.7,2928.3 L2091.7,2928.3 L2093.7,2927.9 L2095.7,2926.9 L2097.7,2925.8 L2099.7,2924.9 L2101.7,2923.6 L2103.7,2922.9 L2105.7,2922.1 L2107.7,2921.2 L2109.7,2921.3 L2111.7,2921.4 L2113.7,2921.4 L2115.7,2921.4 L2117.7,2920.6 L2119.7,2919.4 L2121.7,2918.5 L2123.7,2918.1 L2125.7,2918.0 L2127.7,2918.4 L2129.7,2918.5 L2131.7,2918.1 L2133.7,2917.4 L2135.7,2916.8 L2137.7,2915.6 L2139.7,2915.3 L2141.7,2915.0 L2143.7,2914.8" fill="none" stroke="#fa1c1c" stroke-width="6.2" stroke-linejoin="round"/>
<path d="M338.2,2918.4 L340.2,2918.5 L342.2,2918.5 L344.2,2918.5 L346.2,2919.2 L348.2,2919.0 L350.2,2918.5 L352.2,2918.2 L354.2,2918.0 L356.2,2917.8 L358.2,2917.9 L360.2,2917.9 L362.2,2917.9 L364.2,2918.0 L366.2,2918.2 L368.2,2918.5 L370.2,2919.0 L372.2,2919.1 L374.2,2918.7 L376.2,2918.4 L378.2,2917.8 L380.2,2917.7 L382.2,2918.1 L384.2,2918.5 L386.2,2919.0 L388.2,2919.1 L390.2,2919.0 L392.2,2918.9 L394.2,2918.8 L396.2,2918.8 L398.2,2918.8 L400.2,2918.7 L402.2,2918.7 L404.2,2918.7 L406.2,2918.9 L408.2,2919.2 L410.2,2919.5 L412.2,2919.8 L414.2,2919.6 L416.2,2919.5 L418.2,2919.2 L420.2,2918.9 L422.2,2919.1 L424.2,2919.3 L426.2,2919.7 L428.2,2919.9 L430.2,2919.8 L432.2,2919.6 L434.2,2919.4 L436.2,2919.1 L438.2,2919.0 L440.2,2918.5 L442.2,2918.2 L444.2,2918.2 L446.2,2918.5 L448.2,2919.2 L450.2,2919.6 L452.2,2919.9 L454.2,2919.7 L456.2,2919.3 L458.2,2918.9 L460.2,2918.7 L462.2,2918.4 L464.2,2918.5 L466.2,2918.7 L468.2,2918.4 L470.2,2918.3 L472.2,2917.8 L474.2,2917.3 L476.2,2917.7 L478.2,2917.9 L480.2,2918.5 L482.2,2918.6 L484.2,2918.0 L486.2,2917.7 L488.2,2917.3 L490.2,2917.4 L492.2,2917.7 L494.2,2918.0 L496.2,2918.4 L498.2,2918.8 L500.2,2919.0 L502.2,2919.1 L504.2,2919.0 L506.2,2918.6 L508.2,2918.2 L510.2,2917.5 L512.2,2917.1 L514.2,2916.8 L516.2,2916.8 L518.2,2917.0 L520.2,2916.8 L522.2,2916.7 L524.2,2916.6 L526.2,2916.4 L528.2,2916.6 L530.2,2916.6 L532.2,2916.8 L534.2,2917.0 L536.2,2916.8 L538.2,2916.7 L540.2,2916.5 L542.2,2916.2 L544.2,2916.3 L546.2,2916.5 L548.2,2916.7 L550.2,2916.7 L552.2,2916.6 L554.2,2916.1 L556.2,2916.0 L558.2,2915.7 L560.2,2915.2 L562.2,2914.8 L564.2,2914.2 L566.2,2914.0 L568.2,2914.2 L570.2,2914.5 L572.2,2915.0 L574.2,2915.0 L576.2,2915.1 L578.2,2914.8 L580.2,2914.2 L582.2,2913.5 L584.2,2912.7 L586.2,2912.0 L588.2,2911.6 L590.2,2911.5 L592.2,2911.4 L594.2,2911.6 L596.2,2911.8 L598.2,2911.8 L600.2,2912.0 L602.2,2912.3 L604.2,2912.7 L606.2,2913.4 L608.2,2913.9 L610.2,2914.1 L612.2,2914.1 L614.2,2913.9 L616.2,2913.8 L618.2,2913.5 L620.2,2912.9 L622.2,2912.1 L624.2,2911.1 L626.2,2910.4 L628.2,2910.2 L630.2,2909.7 L632.2,2909.6 L634.2,2909.5 L636.2,2909.3 L638.2,2909.4 L640.2,2909.3 L642.2,2909.2 L644.2,2909.4 L646.2,2909.4 L648.2,2909.3 L650.2,2909.2 L652.2,2908.4 L654.2,2907.7 L656.2,2907.3 L658.2,2907.1 L660.2,2907.1 L662.2,2907.0 L664.2,2906.8 L666.2,2906.5 L668.2,2906.2 L670.2,2905.7 L672.2,2905.5 L674.2,2905.0 L676.2,2904.8 L678.2,2904.9 L680.2,2904.8 L682.2,2905.0 L684.2,2904.8 L686.2,2904.2 L688.2,2903.6 L690.2,2902.8 L692.2,2902.3 L694.2,2902.3 L696.2,2902.1 L698.2,2902.0 L700.2,2901.6 L702.2,2901.1 L704.2,2900.7 L706.2,2900.3 L708.2,2900.1 L710.2,2899.7 L712.2,2899.3 L714.2,2899.1 L716.2,2899.1 L718.2,2899.2 L720.2,2899.2 L722.2,2899.1 L724.2,2898.6 L726.2,2897.9 L728.2,2897.6 L730.2,2897.3 L732.2,2897.1 L734.2,2896.9 L736.2,2896.3 L738.2,2895.4 L740.2,2894.5 L742.2,2893.8 L744.2,2893.4 L746.2,2893.5 L748.2,2893.6 L750.2,2893.7 L752.2,2893.5 L754.2,2892.9 L756.2,2892.3 L758.2,2891.3 L760.2,2890.6 L762.2,2890.2 L764.2,2889.7 L766.2,2889.5 L768.2,2889.2 L770.2,2888.7 L772.2,2888.4 L774.2,2887.7 L776.2,2887.1 L778.2,2886.8 L780.2,2886.4 L782.2,2886.3 L784.2,2886.1 L786.2,2885.5 L788.2,2885.1 L790.2,2884.6 L792.2,2884.2 L794.2,2883.8 L796.2,2883.2 L798.2,2882.6 L800.2,2881.9 L802.2,2881.5 L804.2,2881.0 L806.2,2880.4 L808.2,2879.6 L810.2,2878.7 L812.2,2878.0 L814.2,2877.3 L816.2,2876.8 L818.2,2876.5 L820.2,2876.1 L822.2,2875.7 L824.2,2874.9 L826.2,2874.2 L828.2,2873.3 L830.2,2872.7 L832.2,2872.4 L834.2,2872.2 L836.2,2872.2 L838.2,2872.1 L840.2,2872.0 L842.2,2871.7 L844.2,2871.2 L846.2,2870.6 L848.2,2869.7 L850.2,2868.7 L852.2,2867.9 L854.2,2866.9 L856.2,2866.3 L858.2,2865.7 L860.2,2864.8 L862.2,2864.1 L864.2,2863.3 L866.2,2862.8 L868.2,2862.5 L870.2,2862.0 L872.2,2861.6 L874.2,2860.8 L876.2,2859.8 L878.2,2858.8 L880.2,2857.9 L882.2,2856.8 L884.2,2856.1 L886.2,2855.5 L888.2,2854.7 L890.2,2854.2 L892.2,2853.4 L894.2,2852.4 L896.2,2851.3 L898.2,2850.4 L900.2,2849.4 L902.2,2848.8 L904.2,2848.4 L906.2,2847.5 L908.2,2846.7 L910.2,2845.6 L912.2,2844.5 L914.2,2843.4 L916.2,2842.6 L918.2,2841.7 L920.2,2840.9 L922.2,2840.2 L924.2,2839.6 L926.2,2839.2 L928.2,2838.6 L930.2,2838.0 L932.2,2837.0 L934.2,2836.3 L936.2,2835.6 L938.2,2835.1 L940.2,2834.5 L942.2,2833.5 L944.2,2832.4 L946.2,2831.0 L948.2,2829.6 L950.2,2828.5 L952.2,2827.2 L954.2,2826.4 L956.2,2825.8 L958.2,2825.0 L960.2,2824.3 L962.2,2823.4 L964.2,2822.5 L966.2,2821.5 L968.2,2820.3 L970.2,2819.1 L972.2,2817.4 L974.2,2815.9 L976.2,2814.6 L978.2,2813.4 L980.2,2812.1 L982.2,2810.8 L984.2,2809.5 L986.2,2808.2 L988.2,2807.5 L990.2,2806.9 L992.2,2806.1 L994.2,2805.2 L996.2,2804.1 L998.2,2803.1 L1000.2,2802.1 L1002.2,2801.1 L1004.2,2800.3 L1006.2,2798.9 L1008.2,2797.7 L1010.2,2796.1 L1012.2,2794.7 L1014.2,2793.3 L1016.2,2792.1 L1018.2,2791.1 L1020.2,2789.7 L1022.2,2788.6 L1024.2,2787.1 L1026.2,2785.9 L1028.2,2784.9 L1030.2,2783.9 L1032.2,2783.2 L1034.2,2782.2 L1036.2,2781.4 L1038.2,2780.5 L1040.2,2779.4 L1042.2,2778.4 L1044.2,2776.8 L1046.2,2775.3 L1048.2,2773.8 L1050.2,2772.3 L1052.2,2771.0 L1054.2,2769.7 L1056.2,2768.3 L1058.2,2767.2 L1060.2,2766.0 L1062.2,2765.1 L1064.2,2764.4 L1066.2,2763.4 L1068.2,2762.4 L1070.2,2760.8 L1072.2,2759.2 L1074.2,2757.6 L1076.2,2756.3 L1078.2,2755.1 L1080.2,2754.2 L1082.2,2753.5 L1084.2,2752.3 L1086.2,2751.6 L1088.2,2750.5 L1090.2,2749.1 L1092.2,2748.1 L1094.2,2746.8 L1096.2,2745.8 L1098.2,2745.1 L1100.2,2744.5 L1102.2,2743.8 L1104.2,2743.0 L1106.2,2742.0 L1108.2,2740.3 L1110.2,2738.8 L1112.2,2737.5 L1114.2,2736.2 L1116.2,2735.5 L1118.2,2734.9 L1120.2,2733.9 L1122.2,2733.4 L1124.2,2732.5 L1126.2,2731.6 L1128.2,2731.1 L1130.2,2730.6 L1132.2,2729.8 L1134.2,2729.2 L1136.2,2728.4 L1138.2,2727.3 L1140.2,2726.8 L1142.2,2726.0 L1144.2,2725.1 L1146.2,2724.3 L1148.2,2723.4 L1150.2,2722.6 L1152.2,2721.9 L1154.2,2721.3 L1156.2,2720.6 L1158.2,2719.8 L1160.2,2719.2 L1162.2,2718.7 L1164.2,2718.7 L1166.2,2718.8 L1168.2,2718.8 L1170.2,2718.7 L1172.2,2718.4 L1174.2,2717.8 L1176.2,2717.3 L1178.2,2717.1 L1180.2,2716.7 L1182.2,2716.6 L1184.2,2716.4 L1186.2,2715.8 L1188.2,2715.6 L1190.2,2715.5 L1192.2,2715.4 L1194.2,2715.2 L1196.2,2714.7 L1198.2,2713.9 L1200.2,2713.3 L1202.2,2713.2 L1204.2,2713.1 L1206.2,2713.5 L1208.2,2713.7 L1210.2,2713.4 L1212.2,2713.3 L1214.2,2712.7 L1216.2,2712.2 L1218.2,2712.2 L1220.2,2712.3 L1222.2,2712.8 L1224.2,2713.2 L1226.2,2713.3 L1228.2,2713.3 L1230.2,2713.0 L1232.2,2713.1 L1234.2,2713.2 L1236.2,2713.6 L1238.2,2713.9 L1240.2,2713.8 L1242.2,2713.7 L1244.2,2713.4 L1246.2,2713.1 L1248.2,2713.0 L1250.2,2712.9 L1252.2,2713.1 L1254.2,2713.3 L1256.2,2713.9 L1258.2,2714.2 L1260.2,2714.7 L1262.2,2715.2 L1264.2,2715.4 L1266.2,2715.7 L1268.2,2715.8 L1270.2,2715.9 L1272.2,2716.1 L1274.2,2716.5 L1276.2,2717.2 L1278.2,2717.7 L1280.2,2718.3 L1282.2,2718.9 L1284.2,2719.2 L1286.2,2720.1 L1288.2,2720.6 L1290.2,2720.8 L1292.2,2721.4 L1294.2,2721.5 L1296.2,2722.0 L1298.2,2722.8 L1300.2,2723.5 L1302.2,2724.3 L1304.2,2724.8 L1306.2,2725.2 L1308.2,2725.6 L1310.2,2725.9 L1312.2,2726.6 L1314.2,2727.1 L1316.2,2727.5 L1318.2,2727.9 L1320.2,2728.4 L1322.2,2729.2 L1324.2,2730.2 L1326.2,2731.5 L1328.2,2732.6 L1330.2,2734.1 L1332.2,2735.6 L1334.2,2736.9 L1336.2,2738.3 L1338.2,2739.4 L1340.2,2740.2 L1342.2,2740.9 L1344.2,2741.5 L1346.2,2742.3 L1348.2,2743.3 L1350.2,2744.5 L1352.2,2745.9 L1354.2,2747.1 L1356.2,2748.7 L1358.2,2750.2 L1360.2,2751.8 L1362.2,2753.3 L1364.2,2754.4 L1366.2,2755.6 L1368.2,2756.8 L1370.2,2758.3 L1372.2,2759.9 L1374.2,2761.9 L1376.2,2763.7 L1378.2,2765.6 L1380.2,2767.4 L1382.2,2769.1 L1384.2,2771.2 L1386.2,2773.1 L1388.2,2775.2 L1390.2,2777.6 L1392.2,2779.7 L1394.2,2782.0 L1396.2,2784.5 L1398.2,2787.0 L1400.2,2789.8 L1402.2,2792.9 L1404.2,2795.9 L1406.2,2798.8 L1408.2,2801.6 L1410.2,2804.4 L1412.2,2807.3 L1414.2,2810.7 L1416.2,2814.0 L1418.2,2817.2 L1420.2,2820.8 L1422.2,2824.4 L1424.2,2828.6 L1426.2,2833.7 L1428.2,2839.1 L1430.2,2844.7 L1432.2,2850.5 L1434.2,2855.9 L1436.2,2861.6 L1438.2,2867.7 L1440.2,2874.6 L1442.2,2882.3 L1444.2,2890.3 L1446.2,2898.4 L1448.2,2906.1 L1450.2,2913.5 L1452.2,2920.7 L1454.2,2927.7 L1456.2,2934.8 L1458.2,2941.4 L1460.2,2948.1 L1462.2,2954.4 L1464.2,2960.6 L1466.2,2967.2 L1468.2,2973.5 L1470.2,2980.1 L1472.2,2986.9 L1474.2,2993.3 L1476.2,3000.0 L1478.2,3006.7 L1480.2,3013.4 L1482.2,3020.4 L1484.2,3027.2 L1486.2,3034.0 L1488.2,3040.8 L1490.2,3048.0 L1492.2,3055.4 L1494.2,3062.7 L1496.2,3069.9 L1498.2,3076.9 L1500.2,3083.7 L1502.2,3090.2 L1504.2,3096.6 L1506.2,3102.6 L1508.2,3108.1 L1510.2,3113.8 L1512.2,3119.2 L1514.2,3124.7 L1516.2,3130.2 L1518.2,3135.4 L1520.2,3140.7 L1522.2,3145.9 L1524.2,3151.3 L1526.2,3156.7 L1528.2,3161.7 L1530.2,3166.8 L1532.2,3171.5 L1534.2,3176.2 L1536.2,3181.1 L1538.2,3185.3 L1540.2,3189.2 L1542.2,3192.6 L1544.2,3195.3 L1546.2,3198.2 L1548.2,3201.3 L1550.2,3204.4 L1552.2,3207.4 L1554.2,3210.3 L1556.2,3212.7 L1558.2,3214.9 L1560.2,3217.3 L1562.2,3219.6 L1564.2,3222.2 L1566.2,3224.5 L1568.2,3226.5 L1570.2,3228.0 L1572.2,3229.0 L1574.2,3229.9 L1576.2,3230.8 L1578.2,3232.0 L1580.2,3233.3 L1582.2,3234.9 L1584.2,3236.1 L1586.2,3237.1 L1588.2,3238.2 L1590.2,3239.0 L1592.2,3240.0 L1594.2,3240.9 L1596.2,3241.4 L1598.2,3242.1 L1600.2,3242.9 L1602.2,3243.9 L1604.2,3244.8 L1606.2,3245.5 L1608.2,3245.9 L1610.2,3246.2 L1612.2,3246.8 L1614.2,3247.4 L1616.2,3248.0 L1618.2,3248.6 L1620.2,3249.1 L1622.2,3249.6 L1624.2,3249.8 L1626.2,3250.0 L1628.2,3250.1 L1630.2,3250.3 L1632.2,3250.6 L1634.2,3250.7 L1636.2,3250.9 L1638.2,3250.5 L1640.2,3250.4 L1642.2,3250.3 L1644.2,3250.1 L1646.2,3250.4 L1648.2,3250.3 L1650.2,3250.2 L1652.2,3250.2 L1654.2,3250.2 L1656.2,3250.7 L1658.2,3251.2 L1660.2,3251.8 L1662.2,3251.8 L1664.2,3251.2 L1666.2,3250.7 L1668.2,3250.1 L1670.2,3250.1 L1672.2,3250.1 L1674.2,3249.8 L1676.2,3249.4 L1678.2,3248.8 L1680.2,3248.3 L1682.2,3247.9 L1684.2,3247.5 L1686.2,3247.2 L1688.2,3246.6 L1690.2,3245.7 L1692.2,3245.2 L1694.2,3244.5 L1696.2,3244.0 L1698.2,3244.1 L1700.2,3243.8 L1702.2,3243.4 L1704.2,3242.9 L1706.2,3241.6 L1708.2,3240.4 L1710.2,3239.3 L1712.2,3238.2 L1714.2,3237.6 L1716.2,3237.1 L1718.2,3236.7 L1720.2,3236.0 L1722.2,3234.8 L1724.2,3233.8 L1726.2,3232.6 L1728.2,3232.0 L1730.2,3231.8 L1732.2,3231.2 L1734.2,3230.4 L1736.2,3228.9 L1738.2,3226.9 L1740.2,3225.4 L1742.2,3224.1 L1744.2,3223.3 L1746.2,3222.6 L1748.2,3221.8 L1750.2,3221.0 L1752.2,3220.0 L1754.2,3218.9 L1756.2,3217.7 L1758.2,3216.5 L1760.2,3215.3 L1762.2,3214.2 L1764.2,3212.9 L1766.2,3211.6 L1768.2,3210.1 L1770.2,3208.5 L1772.2,3207.3 L1774.2,3206.1 L1776.2,3205.0 L1778.2,3204.0 L1780.2,3202.8 L1782.2,3201.9 L1784.2,3200.8 L1786.2,3199.5 L1788.2,3198.3 L1790.2,3197.0 L1792.2,3195.7 L1794.2,3194.4 L1796.2,3192.8 L1798.2,3191.2 L1800.2,3189.6 L1802.2,3188.0 L1804.2,3186.8 L1806.2,3185.7 L1808.2,3184.5 L1810.2,3183.4 L1812.2,3181.9 L1814.2,3180.4 L1816.2,3179.1 L1818.2,3177.8 L1820.2,3176.5 L1822.2,3175.1 L1824.2,3173.9 L1826.2,3172.5 L1828.2,3171.5 L1830.2,3170.7 L1832.2,3169.6 L1834.2,3168.4 L1836.2,3167.0 L1838.2,3165.6 L1840.2,3164.1 L1842.2,3163.1 L1844.2,3162.0 L1846.2,3160.5 L1848.2,3159.2 L1850.2,3157.7 L1852.2,3156.3 L1854.2,3155.4 L1856.2,3154.5 L1858.2,3153.3 L1860.2,3151.9 L1862.2,3150.4 L1864.2,3148.5 L1866.2,3146.9 L1868.2,3145.7 L1870.2,3144.3 L1872.2,3143.2 L1874.2,3142.0 L1876.2,3140.3 L1878.2,3138.9 L1880.2,3137.4 L1882.2,3135.8 L1884.2,3134.3 L1886.2,3132.3 L1888.2,3130.4 L1890.2,3128.7 L1892.2,3127.1 L1894.2,3125.9 L1896.2,3124.6 L1898.2,3123.5 L1900.2,3122.1 L1902.2,3120.7 L1904.2,3119.2 L1906.2,3117.4 L1908.2,3115.8 L1910.2,3114.2 L1912.2,3112.5 L1914.2,3111.4 L1916.2,3110.4 L1918.2,3109.8 L1920.2,3109.4 L1922.2,3108.5 L1924.2,3107.8 L1926.2,3106.4 L1928.2,3105.2 L1930.2,3103.8 L1932.2,3101.9 L1934.2,3100.6 L1936.2,3099.0 L1938.2,3098.0 L1940.2,3097.4 L1942.2,3096.3 L1944.2,3095.2 L1946.2,3093.7 L1948.2,3092.4 L1950.2,3091.2 L1952.2,3090.0 L1954.2,3089.0 L1956.2,3088.0 L1958.2,3087.3 L1960.2,3086.5 L1962.2,3085.5 L1964.2,3083.7 L1966.2,3081.4 L1968.2,3079.1 L1970.2,3077.4 L1972.2,3076.3 L1974.2,3075.6 L1976.2,3074.9 L1978.2,3073.6 L1980.2,3072.2 L1982.2,3071.2 L1984.2,3070.5 L1986.2,3070.2 L1988.2,3069.9 L1990.2,3069.0 L1992.2,3067.7 L1994.2,3066.3 L1996.2,3064.8 L1998.2,3063.7 L2000.2,3062.9 L2002.2,3062.1 L2004.2,3061.4 L2006.2,3060.4 L2008.2,3059.1 L2010.2,3057.8 L2012.2,3056.6 L2014.2,3055.6 L2016.2,3055.0 L2018.2,3054.7 L2020.2,3054.5 L2022.2,3054.2 L2024.2,3053.7 L2026.2,3053.0 L2028.2,3052.1 L2030.2,3050.8 L2032.2,3049.8 L2034.2,3049.0 L2036.2,3048.4 L2038.2,3048.0 L2040.2,3047.2 L2042.2,3046.3 L2044.2,3045.4 L2046.2,3044.8 L2048.2,3044.5 L2050.2,3044.0 L2052.2,3043.5 L2054.2,3042.9 L2056.2,3042.7 L2058.2,3042.4 L2060.2,3042.1 L2062.2,3041.6 L2064.2,3040.7 L2066.2,3039.8 L2068.2,3039.0 L2070.2,3038.5 L2072.2,3038.2 L2074.2,3038.2 L2076.2,3038.1 L2078.2,3037.4 L2080.2,3036.8 L2082.2,3035.7 L2084.2,3034.9 L2086.2,3034.5 L2088.2,3033.8 L2090.2,3033.5 L2092.2,3033.0 L2094.2,3032.4 L2096.2,3032.3 L2098.2,3032.0 L2100.2,3031.8 L2102.2,3031.5 L2104.2,3031.3 L2106.2,3031.1 L2108.2,3030.5 L2110.2,3030.1 L2112.2,3029.0 L2114.2,3028.2 L2116.2,3027.8 L2118.2,3027.4 L2120.2,3027.3 L2122.2,3027.0 L2124.2,3026.4 L2126.2,3025.8 L2128.2,3025.4 L2130.2,3025.2 L2132.2,3024.9 L2134.2,3024.4 L2136.2,3023.6 L2138.2,3024.3 L2140.2,3024.0 L2142.2,3023.7 L2144.2,3023.4" fill="none" stroke="#ff0808" stroke-opacity="0.3" stroke-width="11.5" stroke-linejoin="round"/>
<path d="M338.2,2918.4 L340.2,2918.5 L342.2,2918.5 L344.2,2918.5 L346.2,2919.2 L348.2,2919.0 L350.2,2918.5 L352.2,2918.2 L354.2,2918.0 L356.2,2917.8 L358.2,2917.9 L360.2,2917.9 L362.2,2917.9 L364.2,2918.0 L366.2,2918.2 L368.2,2918.5 L370.2,2919.0 L372.2,2919.1 L374.2,2918.7 L376.2,2918.4 L378.2,2917.8 L380.2,2917.7 L382.2,2918.1 L384.2,2918.5 L386.2,2919.0 L388.2,2919.1 L390.2,2919.0 L392.2,2918.9 L394.2,2918.8 L396.2,2918.8 L398.2,2918.8 L400.2,2918.7 L402.2,2918.7 L404.2,2918.7 L406.2,2918.9 L408.2,2919.2 L410.2,2919.5 L412.2,2919.8 L414.2,2919.6 L416.2,2919.5 L418.2,2919.2 L420.2,2918.9 L422.2,2919.1 L424.2,2919.3 L426.2,2919.7 L428.2,2919.9 L430.2,2919.8 L432.2,2919.6 L434.2,2919.4 L436.2,2919.1 L438.2,2919.0 L440.2,2918.5 L442.2,2918.2 L444.2,2918.2 L446.2,2918.5 L448.2,2919.2 L450.2,2919.6 L452.2,2919.9 L454.2,2919.7 L456.2,2919.3 L458.2,2918.9 L460.2,2918.7 L462.2,2918.4 L464.2,2918.5 L466.2,2918.7 L468.2,2918.4 L470.2,2918.3 L472.2,2917.8 L474.2,2917.3 L476.2,2917.7 L478.2,2917.9 L480.2,2918.5 L482.2,2918.6 L484.2,2918.0 L486.2,2917.7 L488.2,2917.3 L490.2,2917.4 L492.2,2917.7 L494.2,2918.0 L496.2,2918.4 L498.2,2918.8 L500.2,2919.0 L502.2,2919.1 L504.2,2919.0 L506.2,2918.6 L508.2,2918.2 L510.2,2917.5 L512.2,2917.1 L514.2,2916.8 L516.2,2916.8 L518.2,2917.0 L520.2,2916.8 L522.2,2916.7 L524.2,2916.6 L526.2,2916.4 L528.2,2916.6 L530.2,2916.6 L532.2,2916.8 L534.2,2917.0 L536.2,2916.8 L538.2,2916.7 L540.2,2916.5 L542.2,2916.2 L544.2,2916.3 L546.2,2916.5 L548.2,2916.7 L550.2,2916.7 L552.2,2916.6 L554.2,2916.1 L556.2,2916.0 L558.2,2915.7 L560.2,2915.2 L562.2,2914.8 L564.2,2914.2 L566.2,2914.0 L568.2,2914.2 L570.2,2914.5 L572.2,2915.0 L574.2,2915.0 L576.2,2915.1 L578.2,2914.8 L580.2,2914.2 L582.2,2913.5 L584.2,2912.7 L586.2,2912.0 L588.2,2911.6 L590.2,2911.5 L592.2,2911.4 L594.2,2911.6 L596.2,2911.8 L598.2,2911.8 L600.2,2912.0 L602.2,2912.3 L604.2,2912.7 L606.2,2913.4 L608.2,2913.9 L610.2,2914.1 L612.2,2914.1 L614.2,2913.9 L616.2,2913.8 L618.2,2913.5 L620.2,2912.9 L622.2,2912.1 L624.2,2911.1 L626.2,2910.4 L628.2,2910.2 L630.2,2909.7 L632.2,2909.6 L634.2,2909.5 L636.2,2909.3 L638.2,2909.4 L640.2,2909.3 L642.2,2909.2 L644.2,2909.4 L646.2,2909.4 L648.2,2909.3 L650.2,2909.2 L652.2,2908.4 L654.2,2907.7 L656.2,2907.3 L658.2,2907.1 L660.2,2907.1 L662.2,2907.0 L664.2,2906.8 L666.2,2906.5 L668.2,2906.2 L670.2,2905.7 L672.2,2905.5 L674.2,2905.0 L676.2,2904.8 L678.2,2904.9 L680.2,2904.8 L682.2,2905.0 L684.2,2904.8 L686.2,2904.2 L688.2,2903.6 L690.2,2902.8 L692.2,2902.3 L694.2,2902.3 L696.2,2902.1 L698.2,2902.0 L700.2,2901.6 L702.2,2901.1 L704.2,2900.7 L706.2,2900.3 L708.2,2900.1 L710.2,2899.7 L712.2,2899.3 L714.2,2899.1 L716.2,2899.1 L718.2,2899.2 L720.2,2899.2 L722.2,2899.1 L724.2,2898.6 L726.2,2897.9 L728.2,2897.6 L730.2,2897.3 L732.2,2897.1 L734.2,2896.9 L736.2,2896.3 L738.2,2895.4 L740.2,2894.5 L742.2,2893.8 L744.2,2893.4 L746.2,2893.5 L748.2,2893.6 L750.2,2893.7 L752.2,2893.5 L754.2,2892.9 L756.2,2892.3 L758.2,2891.3 L760.2,2890.6 L762.2,2890.2 L764.2,2889.7 L766.2,2889.5 L768.2,2889.2 L770.2,2888.7 L772.2,2888.4 L774.2,2887.7 L776.2,2887.1 L778.2,2886.8 L780.2,2886.4 L782.2,2886.3 L784.2,2886.1 L786.2,2885.5 L788.2,2885.1 L790.2,2884.6 L792.2,2884.2 L794.2,2883.8 L796.2,2883.2 L798.2,2882.6 L800.2,2881.9 L802.2,2881.5 L804.2,2881.0 L806.2,2880.4 L808.2,2879.6 L810.2,2878.7 L812.2,2878.0 L814.2,2877.3 L816.2,2876.8 L818.2,2876.5 L820.2,2876.1 L822.2,2875.7 L824.2,2874.9 L826.2,2874.2 L828.2,2873.3 L830.2,2872.7 L832.2,2872.4 L834.2,2872.2 L836.2,2872.2 L838.2,2872.1 L840.2,2872.0 L842.2,2871.7 L844.2,2871.2 L846.2,2870.6 L848.2,2869.7 L850.2,2868.7 L852.2,2867.9 L854.2,2866.9 L856.2,2866.3 L858.2,2865.7 L860.2,2864.8 L862.2,2864.1 L864.2,2863.3 L866.2,2862.8 L868.2,2862.5 L870.2,2862.0 L872.2,2861.6 L874.2,2860.8 L876.2,2859.8 L878.2,2858.8 L880.2,2857.9 L882.2,2856.8 L884.2,2856.1 L886.2,2855.5 L888.2,2854.7 L890.2,2854.2 L892.2,2853.4 L894.2,2852.4 L896.2,2851.3 L898.2,2850.4 L900.2,2849.4 L902.2,2848.8 L904.2,2848.4 L906.2,2847.5 L908.2,2846.7 L910.2,2845.6 L912.2,2844.5 L914.2,2843.4 L916.2,2842.6 L918.2,2841.7 L920.2,2840.9 L922.2,2840.2 L924.2,2839.6 L926.2,2839.2 L928.2,2838.6 L930.2,2838.0 L932.2,2837.0 L934.2,2836.3 L936.2,2835.6 L938.2,2835.1 L940.2,2834.5 L942.2,2833.5 L944.2,2832.4 L946.2,2831.0 L948.2,2829.6 L950.2,2828.5 L952.2,2827.2 L954.2,2826.4 L956.2,2825.8 L958.2,2825.0 L960.2,2824.3 L962.2,2823.4 L964.2,2822.5 L966.2,2821.5 L968.2,2820.3 L970.2,2819.1 L972.2,2817.4 L974.2,2815.9 L976.2,2814.6 L978.2,2813.4 L980.2,2812.1 L982.2,2810.8 L984.2,2809.5 L986.2,2808.2 L988.2,2807.5 L990.2,2806.9 L992.2,2806.1 L994.2,2805.2 L996.2,2804.1 L998.2,2803.1 L1000.2,2802.1 L1002.2,2801.1 L1004.2,2800.3 L1006.2,2798.9 L1008.2,2797.7 L1010.2,2796.1 L1012.2,2794.7 L1014.2,2793.3 L1016.2,2792.1 L1018.2,2791.1 L1020.2,2789.7 L1022.2,2788.6 L1024.2,2787.1 L1026.2,2785.9 L1028.2,2784.9 L1030.2,2783.9 L1032.2,2783.2 L1034.2,2782.2 L1036.2,2781.4 L1038.2,2780.5 L1040.2,2779.4 L1042.2,2778.4 L1044.2,2776.8 L1046.2,2775.3 L1048.2,2773.8 L1050.2,2772.3 L1052.2,2771.0 L1054.2,2769.7 L1056.2,2768.3 L1058.2,2767.2 L1060.2,2766.0 L1062.2,2765.1 L1064.2,2764.4 L1066.2,2763.4 L1068.2,2762.4 L1070.2,2760.8 L1072.2,2759.2 L1074.2,2757.6 L1076.2,2756.3 L1078.2,2755.1 L1080.2,2754.2 L1082.2,2753.5 L1084.2,2752.3 L1086.2,2751.6 L1088.2,2750.5 L1090.2,2749.1 L1092.2,2748.1 L1094.2,2746.8 L1096.2,2745.8 L1098.2,2745.1 L1100.2,2744.5 L1102.2,2743.8 L1104.2,2743.0 L1106.2,2742.0 L1108.2,2740.3 L1110.2,2738.8 L1112.2,2737.5 L1114.2,2736.2 L1116.2,2735.5 L1118.2,2734.9 L1120.2,2733.9 L1122.2,2733.4 L1124.2,2732.5 L1126.2,2731.6 L1128.2,2731.1 L1130.2,2730.6 L1132.2,2729.8 L1134.2,2729.2 L1136.2,2728.4 L1138.2,2727.3 L1140.2,2726.8 L1142.2,2726.0 L1144.2,2725.1 L1146.2,2724.3 L1148.2,2723.4 L1150.2,2722.6 L1152.2,2721.9 L1154.2,2721.3 L1156.2,2720.6 L1158.2,2719.8 L1160.2,2719.2 L1162.2,2718.7 L1164.2,2718.7 L1166.2,2718.8 L1168.2,2718.8 L1170.2,2718.7 L1172.2,2718.4 L1174.2,2717.8 L1176.2,2717.3 L1178.2,2717.1 L1180.2,2716.7 L1182.2,2716.6 L1184.2,2716.4 L1186.2,2715.8 L1188.2,2715.6 L1190.2,2715.5 L1192.2,2715.4 L1194.2,2715.2 L1196.2,2714.7 L1198.2,2713.9 L1200.2,2713.3 L1202.2,2713.2 L1204.2,2713.1 L1206.2,2713.5 L1208.2,2713.7 L1210.2,2713.4 L1212.2,2713.3 L1214.2,2712.7 L1216.2,2712.2 L1218.2,2712.2 L1220.2,2712.3 L1222.2,2712.8 L1224.2,2713.2 L1226.2,2713.3 L1228.2,2713.3 L1230.2,2713.0 L1232.2,2713.1 L1234.2,2713.2 L1236.2,2713.6 L1238.2,2713.9 L1240.2,2713.8 L1242.2,2713.7 L1244.2,2713.4 L1246.2,2713.1 L1248.2,2713.0 L1250.2,2712.9 L1252.2,2713.1 L1254.2,2713.3 L1256.2,2713.9 L1258.2,2714.2 L1260.2,2714.7 L1262.2,2715.2 L1264.2,2715.4 L1266.2,2715.7 L1268.2,2715.8 L1270.2,2715.9 L1272.2,2716.1 L1274.2,2716.5 L1276.2,2717.2 L1278.2,2717.7 L1280.2,2718.3 L1282.2,2718.9 L1284.2,2719.2 L1286.2,2720.1 L1288.2,2720.6 L1290.2,2720.8 L1292.2,2721.4 L1294.2,2721.5 L1296.2,2722.0 L1298.2,2722.8 L1300.2,2723.5 L1302.2,2724.3 L1304.2,2724.8 L1306.2,2725.2 L1308.2,2725.6 L1310.2,2725.9 L1312.2,2726.6 L1314.2,2727.1 L1316.2,2727.5 L1318.2,2727.9 L1320.2,2728.4 L1322.2,2729.2 L1324.2,2730.2 L1326.2,2731.5 L1328.2,2732.6 L1330.2,2734.1 L1332.2,2735.6 L1334.2,2736.9 L1336.2,2738.3 L1338.2,2739.4 L1340.2,2740.2 L1342.2,2740.9 L1344.2,2741.5 L1346.2,2742.3 L1348.2,2743.3 L1350.2,2744.5 L1352.2,2745.9 L1354.2,2747.1 L1356.2,2748.7 L1358.2,2750.2 L1360.2,2751.8 L1362.2,2753.3 L1364.2,2754.4 L1366.2,2755.6 L1368.2,2756.8 L1370.2,2758.3 L1372.2,2759.9 L1374.2,2761.9 L1376.2,2763.7 L1378.2,2765.6 L1380.2,2767.4 L1382.2,2769.1 L1384.2,2771.2 L1386.2,2773.1 L1388.2,2775.2 L1390.2,2777.6 L1392.2,2779.7 L1394.2,2782.0 L1396.2,2784.5 L1398.2,2787.0 L1400.2,2789.8 L1402.2,2792.9 L1404.2,2795.9 L1406.2,2798.8 L1408.2,2801.6 L1410.2,2804.4 L1412.2,2807.3 L1414.2,2810.7 L1416.2,2814.0 L1418.2,2817.2 L1420.2,2820.8 L1422.2,2824.4 L1424.2,2828.6 L1426.2,2833.7 L1428.2,2839.1 L1430.2,2844.7 L1432.2,2850.5 L1434.2,2855.9 L1436.2,2861.6 L1438.2,2867.7 L1440.2,2874.6 L1442.2,2882.3 L1444.2,2890.3 L1446.2,2898.4 L1448.2,2906.1 L1450.2,2913.5 L1452.2,2920.7 L1454.2,2927.7 L1456.2,2934.8 L1458.2,2941.4 L1460.2,2948.1 L1462.2,2954.4 L1464.2,2960.6 L1466.2,2967.2 L1468.2,2973.5 L1470.2,2980.1 L1472.2,2986.9 L1474.2,2993.3 L1476.2,3000.0 L1478.2,3006.7 L1480.2,3013.4 L1482.2,3020.4 L1484.2,3027.2 L1486.2,3034.0 L1488.2,3040.8 L1490.2,3048.0 L1492.2,3055.4 L1494.2,3062.7 L1496.2,3069.9 L1498.2,3076.9 L1500.2,3083.7 L1502.2,3090.2 L1504.2,3096.6 L1506.2,3102.6 L1508.2,3108.1 L1510.2,3113.8 L1512.2,3119.2 L1514.2,3124.7 L1516.2,3130.2 L1518.2,3135.4 L1520.2,3140.7 L1522.2,3145.9 L1524.2,3151.3 L1526.2,3156.7 L1528.2,3161.7 L1530.2,3166.8 L1532.2,3171.5 L1534.2,3176.2 L1536.2,3181.1 L1538.2,3185.3 L1540.2,3189.2 L1542.2,3192.6 L1544.2,3195.3 L1546.2,3198.2 L1548.2,3201.3 L1550.2,3204.4 L1552.2,3207.4 L1554.2,3210.3 L1556.2,3212.7 L1558.2,3214.9 L1560.2,3217.3 L1562.2,3219.6 L1564.2,3222.2 L1566.2,3224.5 L1568.2,3226.5 L1570.2,3228.0 L1572.2,3229.0 L1574.2,3229.9 L1576.2,3230.8 L1578.2,3232.0 L1580.2,3233.3 L1582.2,3234.9 L1584.2,3236.1 L1586.2,3237.1 L1588.2,3238.2 L1590.2,3239.0 L1592.2,3240.0 L1594.2,3240.9 L1596.2,3241.4 L1598.2,3242.1 L1600.2,3242.9 L1602.2,3243.9 L1604.2,3244.8 L1606.2,3245.5 L1608.2,3245.9 L1610.2,3246.2 L1612.2,3246.8 L1614.2,3247.4 L1616.2,3248.0 L1618.2,3248.6 L1620.2,3249.1 L1622.2,3249.6 L1624.2,3249.8 L1626.2,3250.0 L1628.2,3250.1 L1630.2,3250.3 L1632.2,3250.6 L1634.2,3250.7 L1636.2,3250.9 L1638.2,3250.5 L1640.2,3250.4 L1642.2,3250.3 L1644.2,3250.1 L1646.2,3250.4 L1648.2,3250.3 L1650.2,3250.2 L1652.2,3250.2 L1654.2,3250.2 L1656.2,3250.7 L1658.2,3251.2 L1660.2,3251.8 L1662.2,3251.8 L1664.2,3251.2 L1666.2,3250.7 L1668.2,3250.1 L1670.2,3250.1 L1672.2,3250.1 L1674.2,3249.8 L1676.2,3249.4 L1678.2,3248.8 L1680.2,3248.3 L1682.2,3247.9 L1684.2,3247.5 L1686.2,3247.2 L1688.2,3246.6 L1690.2,3245.7 L1692.2,3245.2 L1694.2,3244.5 L1696.2,3244.0 L1698.2,3244.1 L1700.2,3243.8 L1702.2,3243.4 L1704.2,3242.9 L1706.2,3241.6 L1708.2,3240.4 L1710.2,3239.3 L1712.2,3238.2 L1714.2,3237.6 L1716.2,3237.1 L1718.2,3236.7 L1720.2,3236.0 L1722.2,3234.8 L1724.2,3233.8 L1726.2,3232.6 L1728.2,3232.0 L1730.2,3231.8 L1732.2,3231.2 L1734.2,3230.4 L1736.2,3228.9 L1738.2,3226.9 L1740.2,3225.4 L1742.2,3224.1 L1744.2,3223.3 L1746.2,3222.6 L1748.2,3221.8 L1750.2,3221.0 L1752.2,3220.0 L1754.2,3218.9 L1756.2,3217.7 L1758.2,3216.5 L1760.2,3215.3 L1762.2,3214.2 L1764.2,3212.9 L1766.2,3211.6 L1768.2,3210.1 L1770.2,3208.5 L1772.2,3207.3 L1774.2,3206.1 L1776.2,3205.0 L1778.2,3204.0 L1780.2,3202.8 L1782.2,3201.9 L1784.2,3200.8 L1786.2,3199.5 L1788.2,3198.3 L1790.2,3197.0 L1792.2,3195.7 L1794.2,3194.4 L1796.2,3192.8 L1798.2,3191.2 L1800.2,3189.6 L1802.2,3188.0 L1804.2,3186.8 L1806.2,3185.7 L1808.2,3184.5 L1810.2,3183.4 L1812.2,3181.9 L1814.2,3180.4 L1816.2,3179.1 L1818.2,3177.8 L1820.2,3176.5 L1822.2,3175.1 L1824.2,3173.9 L1826.2,3172.5 L1828.2,3171.5 L1830.2,3170.7 L1832.2,3169.6 L1834.2,3168.4 L1836.2,3167.0 L1838.2,3165.6 L1840.2,3164.1 L1842.2,3163.1 L1844.2,3162.0 L1846.2,3160.5 L1848.2,3159.2 L1850.2,3157.7 L1852.2,3156.3 L1854.2,3155.4 L1856.2,3154.5 L1858.2,3153.3 L1860.2,3151.9 L1862.2,3150.4 L1864.2,3148.5 L1866.2,3146.9 L1868.2,3145.7 L1870.2,3144.3 L1872.2,3143.2 L1874.2,3142.0 L1876.2,3140.3 L1878.2,3138.9 L1880.2,3137.4 L1882.2,3135.8 L1884.2,3134.3 L1886.2,3132.3 L1888.2,3130.4 L1890.2,3128.7 L1892.2,3127.1 L1894.2,3125.9 L1896.2,3124.6 L1898.2,3123.5 L1900.2,3122.1 L1902.2,3120.7 L1904.2,3119.2 L1906.2,3117.4 L1908.2,3115.8 L1910.2,3114.2 L1912.2,3112.5 L1914.2,3111.4 L1916.2,3110.4 L1918.2,3109.8 L1920.2,3109.4 L1922.2,3108.5 L1924.2,3107.8 L1926.2,3106.4 L1928.2,3105.2 L1930.2,3103.8 L1932.2,3101.9 L1934.2,3100.6 L1936.2,3099.0 L1938.2,3098.0 L1940.2,3097.4 L1942.2,3096.3 L1944.2,3095.2 L1946.2,3093.7 L1948.2,3092.4 L1950.2,3091.2 L1952.2,3090.0 L1954.2,3089.0 L1956.2,3088.0 L1958.2,3087.3 L1960.2,3086.5 L1962.2,3085.5 L1964.2,3083.7 L1966.2,3081.4 L1968.2,3079.1 L1970.2,3077.4 L1972.2,3076.3 L1974.2,3075.6 L1976.2,3074.9 L1978.2,3073.6 L1980.2,3072.2 L1982.2,3071.2 L1984.2,3070.5 L1986.2,3070.2 L1988.2,3069.9 L1990.2,3069.0 L1992.2,3067.7 L1994.2,3066.3 L1996.2,3064.8 L1998.2,3063.7 L2000.2,3062.9 L2002.2,3062.1 L2004.2,3061.4 L2006.2,3060.4 L2008.2,3059.1 L2010.2,3057.8 L2012.2,3056.6 L2014.2,3055.6 L2016.2,3055.0 L2018.2,3054.7 L2020.2,3054.5 L2022.2,3054.2 L2024.2,3053.7 L2026.2,3053.0 L2028.2,3052.1 L2030.2,3050.8 L2032.2,3049.8 L2034.2,3049.0 L2036.2,3048.4 L2038.2,3048.0 L2040.2,3047.2 L2042.2,3046.3 L2044.2,3045.4 L2046.2,3044.8 L2048.2,3044.5 L2050.2,3044.0 L2052.2,3043.5 L2054.2,3042.9 L2056.2,3042.7 L2058.2,3042.4 L2060.2,3042.1 L2062.2,3041.6 L2064.2,3040.7 L2066.2,3039.8 L2068.2,3039.0 L2070.2,3038.5 L2072.2,3038.2 L2074.2,3038.2 L2076.2,3038.1 L2078.2,3037.4 L2080.2,3036.8 L2082.2,3035.7 L2084.2,3034.9 L2086.2,3034.5 L2088.2,3033.8 L2090.2,3033.5 L2092.2,3033.0 L2094.2,3032.4 L2096.2,3032.3 L2098.2,3032.0 L2100.2,3031.8 L2102.2,3031.5 L2104.2,3031.3 L2106.2,3031.1 L2108.2,3030.5 L2110.2,3030.1 L2112.2,3029.0 L2114.2,3028.2 L2116.2,3027.8 L2118.2,3027.4 L2120.2,3027.3 L2122.2,3027.0 L2124.2,3026.4 L2126.2,3025.8 L2128.2,3025.4 L2130.2,3025.2 L2132.2,3024.9 L2134.2,3024.4 L2136.2,3023.6 L2138.2,3024.3 L2140.2,3024.0 L2142.2,3023.7 L2144.2,3023.4" fill="none" stroke="#ff0808" stroke-width="6.2" stroke-linejoin="round"/>
<line x1="366" y1="2196" x2="884" y2="2798" stroke="#000" stroke-width="7" stroke-linecap="butt"/>
<polygon points="913,2832 866,2815 898,2788" fill="#000"/>
<rect x="1872.0" y="2052.0" width="124.0" height="5.5" fill="#8c8cff"/>
<rect x="1872.0" y="2057.5" width="124.0" height="5.5" fill="#0000ff"/>
<text x="0" y="0" font-size="56" fill="#5e5e5e" stroke="#5e5e5e" stroke-width="1" transform="translate(2008,2073.0) scale(0.86,1)">130</text>
<text x="0" y="0" font-size="56" fill="#2a2a2a" stroke="#2a2a2a" stroke-width="1" transform="translate(2101,2073.0) scale(1.04,1)">K</text>
<rect x="1872.0" y="2116.5" width="124.0" height="10.5" fill="#7040b8"/>
<text x="0" y="0" font-size="56" fill="#5e5e5e" stroke="#5e5e5e" stroke-width="1" transform="translate(2008,2137.5) scale(0.86,1)">170</text>
<text x="0" y="0" font-size="56" fill="#2a2a2a" stroke="#2a2a2a" stroke-width="1" transform="translate(2101,2137.5) scale(1.04,1)">K</text>
<rect x="1872.0" y="2181.0" width="124.0" height="5.5" fill="#800040"/>
<rect x="1872.0" y="2186.5" width="124.0" height="5.5" fill="#c47898"/>
<text x="0" y="0" font-size="56" fill="#5e5e5e" stroke="#5e5e5e" stroke-width="1" transform="translate(2008,2202.0) scale(0.86,1)">210</text>
<text x="0" y="0" font-size="56" fill="#2a2a2a" stroke="#2a2a2a" stroke-width="1" transform="translate(2101,2202.0) scale(1.04,1)">K</text>
<rect x="1872.0" y="2245.5" width="124.0" height="5.5" fill="#e08484"/>
<rect x="1872.0" y="2251.0" width="124.0" height="5.5" fill="#b00000"/>
<text x="0" y="0" font-size="56" fill="#5e5e5e" stroke="#5e5e5e" stroke-width="1" transform="translate(2008,2266.5) scale(0.86,1)">250</text>
<text x="0" y="0" font-size="56" fill="#2a2a2a" stroke="#2a2a2a" stroke-width="1" transform="translate(2101,2266.5) scale(1.04,1)">K</text>
<rect x="1872.0" y="2310.0" width="124.0" height="11.0" fill="#ff4040"/>
<text x="0" y="0" font-size="56" fill="#5e5e5e" stroke="#5e5e5e" stroke-width="1" transform="translate(2008,2331.0) scale(0.86,1)">290</text>
<text x="0" y="0" font-size="56" fill="#2a2a2a" stroke="#2a2a2a" stroke-width="1" transform="translate(2101,2331.0) scale(1.04,1)">K</text>
<rect x="1872.0" y="2374.5" width="124.0" height="5.5" fill="#ff1010"/>
<rect x="1872.0" y="2380.0" width="124.0" height="5.5" fill="#ff8484"/>
<text x="0" y="0" font-size="56" fill="#5e5e5e" stroke="#5e5e5e" stroke-width="1" transform="translate(2008,2395.5) scale(0.86,1)">330</text>
<text x="0" y="0" font-size="56" fill="#2a2a2a" stroke="#2a2a2a" stroke-width="1" transform="translate(2101,2395.5) scale(1.04,1)">K</text>
</svg>
</body></html>
